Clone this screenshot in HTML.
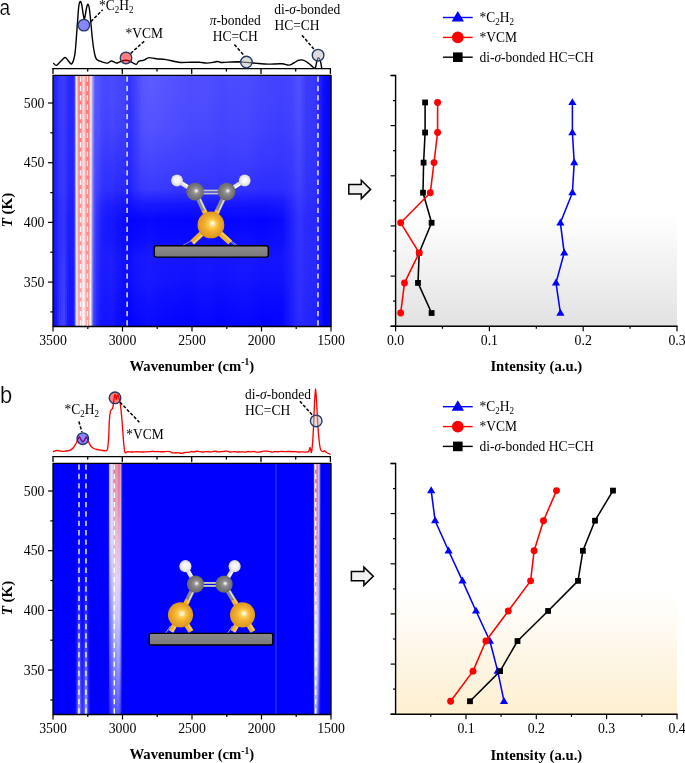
<!DOCTYPE html>
<html><head><meta charset="utf-8"><title>figure</title>
<style>html,body{margin:0;padding:0;background:#fff;}body{width:685px;height:763px;overflow:hidden;font-family:"Liberation Serif",serif;}svg{display:block;will-change:transform;}</style>
</head><body>
<svg width="685" height="763" viewBox="0 0 685 763">

<defs>
 <radialGradient id="gAu" cx="0.5" cy="0.5" r="0.55" fx="0.57" fy="0.44">
  <stop offset="0" stop-color="#fffbe8"/>
  <stop offset="0.12" stop-color="#fff0c0"/>
  <stop offset="0.26" stop-color="#ffcc50"/>
  <stop offset="0.5" stop-color="#f2b030"/>
  <stop offset="0.85" stop-color="#e09a20"/>
  <stop offset="1" stop-color="#c08010"/>
 </radialGradient>
 <radialGradient id="gC" cx="0.5" cy="0.5" r="0.55" fx="0.58" fy="0.45">
  <stop offset="0" stop-color="#f8f8f8"/>
  <stop offset="0.1" stop-color="#e0e0e0"/>
  <stop offset="0.25" stop-color="#999999"/>
  <stop offset="0.5" stop-color="#808080"/>
  <stop offset="0.85" stop-color="#6c6c6c"/>
  <stop offset="1" stop-color="#555555"/>
 </radialGradient>
 <radialGradient id="gH" cx="0.5" cy="0.5" r="0.55" fx="0.55" fy="0.45">
  <stop offset="0" stop-color="#ffffff"/>
  <stop offset="0.5" stop-color="#f2f2f2"/>
  <stop offset="0.85" stop-color="#d8d8d8"/>
  <stop offset="1" stop-color="#b0b0b0"/>
 </radialGradient>
 <linearGradient id="gBar" x1="0" y1="0" x2="0" y2="1">
  <stop offset="0" stop-color="#8a8a8a"/>
  <stop offset="1" stop-color="#7a7a7a"/>
 </linearGradient>
 <linearGradient id="bgA" x1="0" y1="0" x2="0" y2="1">
  <stop offset="0" stop-color="#ffffff"/>
  <stop offset="1" stop-color="#e2e2e2"/>
 </linearGradient>
 <linearGradient id="bgB" x1="0" y1="0" x2="0" y2="1">
  <stop offset="0" stop-color="#ffffff"/>
  <stop offset="1" stop-color="#fdefcf"/>
 </linearGradient>
 <!-- heatmap a: top colors across x -->
 <linearGradient id="hAtop" gradientUnits="userSpaceOnUse" x1="53" y1="0" x2="331" y2="0">
  <stop offset="0" stop-color="#2a2aff"/>
  <stop offset="0.03" stop-color="#3a3aff"/>
  <stop offset="0.06" stop-color="#2c2cff"/>
  <stop offset="0.17" stop-color="#2e2eff"/>
  <stop offset="0.24" stop-color="#3434ff"/>
  <stop offset="0.27" stop-color="#2424ff"/>
  <stop offset="0.31" stop-color="#4040ff"/>
  <stop offset="0.36" stop-color="#5858ff"/>
  <stop offset="0.45" stop-color="#5050ff"/>
  <stop offset="0.60" stop-color="#4c4cff"/>
  <stop offset="0.80" stop-color="#4a4aff"/>
  <stop offset="0.86" stop-color="#3c3cff"/>
  <stop offset="0.90" stop-color="#4a4aff"/>
  <stop offset="0.93" stop-color="#3030ff"/>
  <stop offset="0.96" stop-color="#0808ff"/>
  <stop offset="1" stop-color="#0000ff"/>
 </linearGradient>
 <linearGradient id="hAbot" gradientUnits="userSpaceOnUse" x1="53" y1="0" x2="331" y2="0">
  <stop offset="0" stop-color="#2222ff"/>
  <stop offset="0.03" stop-color="#3030ff"/>
  <stop offset="0.06" stop-color="#2020ff"/>
  <stop offset="0.2" stop-color="#2020ff"/>
  <stop offset="0.27" stop-color="#1010ff"/>
  <stop offset="0.35" stop-color="#1a1aff"/>
  <stop offset="0.6" stop-color="#1414ff"/>
  <stop offset="0.82" stop-color="#1818ff"/>
  <stop offset="0.88" stop-color="#3535ff"/>
  <stop offset="0.92" stop-color="#2a2aff"/>
  <stop offset="0.96" stop-color="#0000ff"/>
  <stop offset="1" stop-color="#0000ff"/>
 </linearGradient>
 <linearGradient id="mAv" x1="0" y1="0" x2="0" y2="1">
  <stop offset="0" stop-color="#fff" stop-opacity="0"/>
  <stop offset="0.40" stop-color="#fff" stop-opacity="0"/>
  <stop offset="0.55" stop-color="#fff" stop-opacity="1"/>
  <stop offset="1" stop-color="#fff" stop-opacity="1"/>
 </linearGradient>
 <mask id="maskA" maskUnits="userSpaceOnUse" x="53" y="75" width="278" height="252">
  <rect x="53" y="75" width="278" height="252" fill="url(#mAv)"/>
 </mask>
 <linearGradient id="mRv" x1="0" y1="0" x2="0" y2="1">
  <stop offset="0" stop-color="#fff" stop-opacity="0"/>
  <stop offset="0.35" stop-color="#fff" stop-opacity="0.35"/>
  <stop offset="1" stop-color="#fff" stop-opacity="1"/>
 </linearGradient>
 <mask id="maskR" maskUnits="userSpaceOnUse" x="70" y="75" width="30" height="252">
  <rect x="70" y="75" width="30" height="252" fill="url(#mRv)"/>
 </mask>
 <linearGradient id="bandA" x1="0" y1="0" x2="0" y2="1">
  <stop offset="0" stop-color="#0000ee" stop-opacity="0"/>
  <stop offset="0.45" stop-color="#0000f0" stop-opacity="0.8"/>
  <stop offset="0.6" stop-color="#0000f0" stop-opacity="0.8"/>
  <stop offset="1" stop-color="#0000ee" stop-opacity="0"/>
 </linearGradient>
 <linearGradient id="redA" gradientUnits="userSpaceOnUse" x1="74" y1="0" x2="97" y2="0"><stop offset="0.0000" stop-color="#3838ff" stop-opacity="0"/><stop offset="0.0609" stop-color="#a0a0ff"/><stop offset="0.1130" stop-color="#f4f4ff"/><stop offset="0.1565" stop-color="#ffb0b0"/><stop offset="0.2087" stop-color="#ff7070"/><stop offset="0.3130" stop-color="#ff7a7a"/><stop offset="0.3652" stop-color="#ffbcbc"/><stop offset="0.4261" stop-color="#ffdada"/><stop offset="0.4783" stop-color="#ffb0b0"/><stop offset="0.5304" stop-color="#ff7878"/><stop offset="0.6435" stop-color="#ff7070"/><stop offset="0.6913" stop-color="#ffb8b8"/><stop offset="0.7348" stop-color="#f8f4ff"/><stop offset="0.8043" stop-color="#a8a8ff"/><stop offset="0.8913" stop-color="#6868ff"/><stop offset="1.0000" stop-color="#4545ff" stop-opacity="0"/></linearGradient>
 <linearGradient id="redA2" gradientUnits="userSpaceOnUse" x1="74" y1="0" x2="97" y2="0"><stop offset="0.0000" stop-color="#3838ff" stop-opacity="0"/><stop offset="0.0783" stop-color="#a0a0ff"/><stop offset="0.1217" stop-color="#f8f8ff"/><stop offset="0.1652" stop-color="#ffc8c8"/><stop offset="0.2087" stop-color="#ff9c9c"/><stop offset="0.3043" stop-color="#ffa4a4"/><stop offset="0.3565" stop-color="#ffe4e4"/><stop offset="0.4261" stop-color="#fffafa"/><stop offset="0.4783" stop-color="#ffdcdc"/><stop offset="0.5217" stop-color="#ffa0a0"/><stop offset="0.6435" stop-color="#ff9c9c"/><stop offset="0.6870" stop-color="#ffd8d8"/><stop offset="0.7261" stop-color="#f8f8ff"/><stop offset="0.7826" stop-color="#9090ff"/><stop offset="0.8696" stop-color="#3030ff"/><stop offset="1.0000" stop-color="#2020ff" stop-opacity="0"/></linearGradient>
 <!-- panel b stripe at ~3000 -->
 <linearGradient id="strB1" gradientUnits="userSpaceOnUse" x1="109" y1="0" x2="121.5" y2="0">
  <stop offset="0" stop-color="#c8c8ff"/>
  <stop offset="0.3" stop-color="#ffffff"/>
  <stop offset="0.45" stop-color="#ff9a9a"/>
  <stop offset="0.6" stop-color="#ffc0c0"/>
  <stop offset="0.75" stop-color="#ff8080"/>
  <stop offset="0.9" stop-color="#ffd0d0"/>
  <stop offset="1" stop-color="#b0b0ff"/>
 </linearGradient>
 <linearGradient id="strB1w" gradientUnits="userSpaceOnUse" x1="109" y1="0" x2="121.5" y2="0">
  <stop offset="0" stop-color="#a8a8ff"/>
  <stop offset="0.3" stop-color="#ffffff"/>
  <stop offset="0.6" stop-color="#dedeff"/>
  <stop offset="0.8" stop-color="#ffffff"/>
  <stop offset="1" stop-color="#8080ff"/>
 </linearGradient>
 <linearGradient id="fadeB" x1="0" y1="0" x2="0" y2="1">
  <stop offset="0" stop-color="#fff" stop-opacity="1"/>
  <stop offset="0.3" stop-color="#fff" stop-opacity="0.7"/>
  <stop offset="0.6" stop-color="#fff" stop-opacity="0"/>
  <stop offset="1" stop-color="#fff" stop-opacity="0"/>
 </linearGradient>
 <mask id="maskB1" maskUnits="userSpaceOnUse" x="100" y="463" width="30" height="252">
  <rect x="100" y="463" width="30" height="252" fill="url(#fadeB)"/>
 </mask>
 <linearGradient id="strB2" gradientUnits="userSpaceOnUse" x1="314" y1="0" x2="320.5" y2="0">
  <stop offset="0" stop-color="#d0d0ff"/>
  <stop offset="0.2" stop-color="#ffe8e8"/>
  <stop offset="0.5" stop-color="#ff9a9a"/>
  <stop offset="0.6" stop-color="#ff7070"/>
  <stop offset="0.8" stop-color="#ffe0e0"/>
  <stop offset="1" stop-color="#c0c0ff"/>
 </linearGradient>
 <linearGradient id="strB2w" gradientUnits="userSpaceOnUse" x1="314" y1="0" x2="320.5" y2="0">
  <stop offset="0" stop-color="#b0b0ff"/>
  <stop offset="0.3" stop-color="#ffffff"/>
  <stop offset="0.7" stop-color="#ffffff"/>
  <stop offset="1" stop-color="#a0a0ff"/>
 </linearGradient>
 <mask id="maskB2" maskUnits="userSpaceOnUse" x="310" y="463" width="15" height="252">
  <rect x="310" y="463" width="15" height="252" fill="url(#fadeB)"/>
 </mask>
</defs>

<text transform="translate(-0.6,14.5) scale(0.87,1)" font-family="Liberation Sans" font-size="22" fill="#000" stroke="#fff" stroke-width="0.2">a</text>
<text transform="translate(0,402.8) scale(0.95,1)" font-family="Liberation Sans" font-size="23" fill="#000" stroke="#fff" stroke-width="0.2">b</text>
<defs><linearGradient id="ha0" x1="0" y1="0" x2="0" y2="1"><stop offset="0.000" stop-color="#2323ff"/><stop offset="0.099" stop-color="#2323ff"/><stop offset="0.218" stop-color="#2222ff"/><stop offset="0.337" stop-color="#2121ff"/><stop offset="0.452" stop-color="#2020ff"/><stop offset="0.512" stop-color="#1d1dff"/><stop offset="0.575" stop-color="#1b1bff"/><stop offset="0.655" stop-color="#1b1bff"/><stop offset="0.726" stop-color="#1919ff"/><stop offset="0.821" stop-color="#1717ff"/><stop offset="0.913" stop-color="#1313ff"/><stop offset="1.000" stop-color="#0f0fff"/></linearGradient><linearGradient id="ha1" x1="0" y1="0" x2="0" y2="1"><stop offset="0.000" stop-color="#2626ff"/><stop offset="0.099" stop-color="#2626ff"/><stop offset="0.218" stop-color="#2525ff"/><stop offset="0.337" stop-color="#2424ff"/><stop offset="0.452" stop-color="#2323ff"/><stop offset="0.512" stop-color="#2020ff"/><stop offset="0.575" stop-color="#1e1eff"/><stop offset="0.655" stop-color="#1e1eff"/><stop offset="0.726" stop-color="#1c1cff"/><stop offset="0.821" stop-color="#1a1aff"/><stop offset="0.913" stop-color="#1616ff"/><stop offset="1.000" stop-color="#1212ff"/></linearGradient><linearGradient id="ha2" x1="0" y1="0" x2="0" y2="1"><stop offset="0.000" stop-color="#2f2fff"/><stop offset="0.099" stop-color="#2f2fff"/><stop offset="0.218" stop-color="#2e2eff"/><stop offset="0.337" stop-color="#2d2dff"/><stop offset="0.452" stop-color="#2c2cff"/><stop offset="0.512" stop-color="#2929ff"/><stop offset="0.575" stop-color="#2727ff"/><stop offset="0.655" stop-color="#2727ff"/><stop offset="0.726" stop-color="#2727ff"/><stop offset="0.821" stop-color="#2727ff"/><stop offset="0.913" stop-color="#2626ff"/><stop offset="1.000" stop-color="#2525ff"/></linearGradient><linearGradient id="ha3" x1="0" y1="0" x2="0" y2="1"><stop offset="0.000" stop-color="#3838ff"/><stop offset="0.099" stop-color="#3838ff"/><stop offset="0.218" stop-color="#3737ff"/><stop offset="0.337" stop-color="#3636ff"/><stop offset="0.452" stop-color="#3535ff"/><stop offset="0.512" stop-color="#3232ff"/><stop offset="0.575" stop-color="#3030ff"/><stop offset="0.655" stop-color="#3030ff"/><stop offset="0.726" stop-color="#3232ff"/><stop offset="0.821" stop-color="#3434ff"/><stop offset="0.913" stop-color="#3636ff"/><stop offset="1.000" stop-color="#3838ff"/></linearGradient><linearGradient id="ha4" x1="0" y1="0" x2="0" y2="1"><stop offset="0.000" stop-color="#3a3aff"/><stop offset="0.099" stop-color="#3a3aff"/><stop offset="0.218" stop-color="#3838ff"/><stop offset="0.337" stop-color="#3737ff"/><stop offset="0.452" stop-color="#3636ff"/><stop offset="0.512" stop-color="#3333ff"/><stop offset="0.575" stop-color="#3232ff"/><stop offset="0.655" stop-color="#3232ff"/><stop offset="0.726" stop-color="#3535ff"/><stop offset="0.821" stop-color="#3838ff"/><stop offset="0.913" stop-color="#3b3bff"/><stop offset="1.000" stop-color="#3d3dff"/></linearGradient><linearGradient id="ha5" x1="0" y1="0" x2="0" y2="1"><stop offset="0.000" stop-color="#3c3cff"/><stop offset="0.099" stop-color="#3c3cff"/><stop offset="0.218" stop-color="#3a3aff"/><stop offset="0.337" stop-color="#3838ff"/><stop offset="0.452" stop-color="#3737ff"/><stop offset="0.512" stop-color="#3434ff"/><stop offset="0.575" stop-color="#3434ff"/><stop offset="0.655" stop-color="#3434ff"/><stop offset="0.726" stop-color="#3838ff"/><stop offset="0.821" stop-color="#3c3cff"/><stop offset="0.913" stop-color="#4040ff"/><stop offset="1.000" stop-color="#4242ff"/></linearGradient><linearGradient id="ha6" x1="0" y1="0" x2="0" y2="1"><stop offset="0.000" stop-color="#3434ff"/><stop offset="0.099" stop-color="#3434ff"/><stop offset="0.218" stop-color="#3232ff"/><stop offset="0.337" stop-color="#3131ff"/><stop offset="0.452" stop-color="#3030ff"/><stop offset="0.512" stop-color="#2c2cff"/><stop offset="0.575" stop-color="#2a2aff"/><stop offset="0.655" stop-color="#2a2aff"/><stop offset="0.726" stop-color="#2c2cff"/><stop offset="0.821" stop-color="#2d2dff"/><stop offset="0.913" stop-color="#2e2eff"/><stop offset="1.000" stop-color="#2e2eff"/></linearGradient><linearGradient id="ha7" x1="0" y1="0" x2="0" y2="1"><stop offset="0.000" stop-color="#2c2cff"/><stop offset="0.099" stop-color="#2c2cff"/><stop offset="0.218" stop-color="#2b2bff"/><stop offset="0.337" stop-color="#2a2aff"/><stop offset="0.452" stop-color="#2828ff"/><stop offset="0.512" stop-color="#2424ff"/><stop offset="0.575" stop-color="#2020ff"/><stop offset="0.655" stop-color="#2020ff"/><stop offset="0.726" stop-color="#2020ff"/><stop offset="0.821" stop-color="#1e1eff"/><stop offset="0.913" stop-color="#1c1cff"/><stop offset="1.000" stop-color="#1a1aff"/></linearGradient><linearGradient id="ha8" x1="0" y1="0" x2="0" y2="1"><stop offset="0.000" stop-color="#2727ff"/><stop offset="0.099" stop-color="#2727ff"/><stop offset="0.218" stop-color="#2626ff"/><stop offset="0.337" stop-color="#2525ff"/><stop offset="0.452" stop-color="#2323ff"/><stop offset="0.512" stop-color="#1f1fff"/><stop offset="0.575" stop-color="#1b1bff"/><stop offset="0.655" stop-color="#1b1bff"/><stop offset="0.726" stop-color="#1919ff"/><stop offset="0.821" stop-color="#1717ff"/><stop offset="0.913" stop-color="#1515ff"/><stop offset="1.000" stop-color="#1313ff"/></linearGradient><linearGradient id="ha9" x1="0" y1="0" x2="0" y2="1"><stop offset="0.000" stop-color="#2727ff"/><stop offset="0.099" stop-color="#2727ff"/><stop offset="0.218" stop-color="#2727ff"/><stop offset="0.337" stop-color="#2525ff"/><stop offset="0.452" stop-color="#2323ff"/><stop offset="0.512" stop-color="#1f1fff"/><stop offset="0.575" stop-color="#1c1cff"/><stop offset="0.655" stop-color="#1c1cff"/><stop offset="0.726" stop-color="#1a1aff"/><stop offset="0.821" stop-color="#1717ff"/><stop offset="0.913" stop-color="#1515ff"/><stop offset="1.000" stop-color="#1313ff"/></linearGradient><linearGradient id="ha10" x1="0" y1="0" x2="0" y2="1"><stop offset="0.000" stop-color="#2e2eff"/><stop offset="0.099" stop-color="#2e2eff"/><stop offset="0.218" stop-color="#2e2eff"/><stop offset="0.337" stop-color="#2c2cff"/><stop offset="0.452" stop-color="#2a2aff"/><stop offset="0.512" stop-color="#2626ff"/><stop offset="0.575" stop-color="#2424ff"/><stop offset="0.655" stop-color="#2424ff"/><stop offset="0.726" stop-color="#2222ff"/><stop offset="0.821" stop-color="#1e1eff"/><stop offset="0.913" stop-color="#1c1cff"/><stop offset="1.000" stop-color="#1a1aff"/></linearGradient><linearGradient id="ha11" x1="0" y1="0" x2="0" y2="1"><stop offset="0.000" stop-color="#3232ff"/><stop offset="0.099" stop-color="#3232ff"/><stop offset="0.218" stop-color="#3131ff"/><stop offset="0.337" stop-color="#2f2fff"/><stop offset="0.452" stop-color="#2c2cff"/><stop offset="0.512" stop-color="#2828ff"/><stop offset="0.575" stop-color="#2525ff"/><stop offset="0.655" stop-color="#2525ff"/><stop offset="0.726" stop-color="#2323ff"/><stop offset="0.821" stop-color="#1f1fff"/><stop offset="0.913" stop-color="#1d1dff"/><stop offset="1.000" stop-color="#1b1bff"/></linearGradient><linearGradient id="ha12" x1="0" y1="0" x2="0" y2="1"><stop offset="0.000" stop-color="#3535ff"/><stop offset="0.099" stop-color="#3535ff"/><stop offset="0.218" stop-color="#3535ff"/><stop offset="0.337" stop-color="#3232ff"/><stop offset="0.452" stop-color="#2f2fff"/><stop offset="0.512" stop-color="#2929ff"/><stop offset="0.575" stop-color="#2727ff"/><stop offset="0.655" stop-color="#2626ff"/><stop offset="0.726" stop-color="#2424ff"/><stop offset="0.821" stop-color="#2020ff"/><stop offset="0.913" stop-color="#1e1eff"/><stop offset="1.000" stop-color="#1c1cff"/></linearGradient><linearGradient id="ha13" x1="0" y1="0" x2="0" y2="1"><stop offset="0.000" stop-color="#3939ff"/><stop offset="0.099" stop-color="#3939ff"/><stop offset="0.218" stop-color="#3838ff"/><stop offset="0.337" stop-color="#3434ff"/><stop offset="0.452" stop-color="#3131ff"/><stop offset="0.512" stop-color="#2b2bff"/><stop offset="0.575" stop-color="#2828ff"/><stop offset="0.655" stop-color="#2828ff"/><stop offset="0.726" stop-color="#2626ff"/><stop offset="0.821" stop-color="#2222ff"/><stop offset="0.913" stop-color="#1f1fff"/><stop offset="1.000" stop-color="#1d1dff"/></linearGradient><linearGradient id="ha14" x1="0" y1="0" x2="0" y2="1"><stop offset="0.000" stop-color="#3d3dff"/><stop offset="0.099" stop-color="#3d3dff"/><stop offset="0.218" stop-color="#3b3bff"/><stop offset="0.337" stop-color="#3737ff"/><stop offset="0.452" stop-color="#3333ff"/><stop offset="0.512" stop-color="#2d2dff"/><stop offset="0.575" stop-color="#2a2aff"/><stop offset="0.655" stop-color="#2929ff"/><stop offset="0.726" stop-color="#2727ff"/><stop offset="0.821" stop-color="#2323ff"/><stop offset="0.913" stop-color="#2020ff"/><stop offset="1.000" stop-color="#1d1dff"/></linearGradient><linearGradient id="ha15" x1="0" y1="0" x2="0" y2="1"><stop offset="0.000" stop-color="#4040ff"/><stop offset="0.099" stop-color="#4040ff"/><stop offset="0.218" stop-color="#3f3fff"/><stop offset="0.337" stop-color="#3a3aff"/><stop offset="0.452" stop-color="#3535ff"/><stop offset="0.512" stop-color="#2f2fff"/><stop offset="0.575" stop-color="#2b2bff"/><stop offset="0.655" stop-color="#2a2aff"/><stop offset="0.726" stop-color="#2828ff"/><stop offset="0.821" stop-color="#2424ff"/><stop offset="0.913" stop-color="#2121ff"/><stop offset="1.000" stop-color="#1e1eff"/></linearGradient><linearGradient id="ha16" x1="0" y1="0" x2="0" y2="1"><stop offset="0.000" stop-color="#4444ff"/><stop offset="0.099" stop-color="#4444ff"/><stop offset="0.218" stop-color="#4242ff"/><stop offset="0.337" stop-color="#3d3dff"/><stop offset="0.452" stop-color="#3838ff"/><stop offset="0.512" stop-color="#3030ff"/><stop offset="0.575" stop-color="#2c2cff"/><stop offset="0.655" stop-color="#2b2bff"/><stop offset="0.726" stop-color="#2929ff"/><stop offset="0.821" stop-color="#2525ff"/><stop offset="0.913" stop-color="#2222ff"/><stop offset="1.000" stop-color="#1f1fff"/></linearGradient><linearGradient id="ha17" x1="0" y1="0" x2="0" y2="1"><stop offset="0.000" stop-color="#4848ff"/><stop offset="0.099" stop-color="#4848ff"/><stop offset="0.218" stop-color="#4545ff"/><stop offset="0.337" stop-color="#3f3fff"/><stop offset="0.452" stop-color="#3a3aff"/><stop offset="0.512" stop-color="#3232ff"/><stop offset="0.575" stop-color="#2e2eff"/><stop offset="0.655" stop-color="#2d2dff"/><stop offset="0.726" stop-color="#2b2bff"/><stop offset="0.821" stop-color="#2727ff"/><stop offset="0.913" stop-color="#2323ff"/><stop offset="1.000" stop-color="#2020ff"/></linearGradient><linearGradient id="ha18" x1="0" y1="0" x2="0" y2="1"><stop offset="0.000" stop-color="#4b4bff"/><stop offset="0.099" stop-color="#4b4bff"/><stop offset="0.218" stop-color="#4848ff"/><stop offset="0.337" stop-color="#4242ff"/><stop offset="0.452" stop-color="#3c3cff"/><stop offset="0.512" stop-color="#3434ff"/><stop offset="0.575" stop-color="#2f2fff"/><stop offset="0.655" stop-color="#2e2eff"/><stop offset="0.726" stop-color="#2c2cff"/><stop offset="0.821" stop-color="#2828ff"/><stop offset="0.913" stop-color="#2424ff"/><stop offset="1.000" stop-color="#2121ff"/></linearGradient><linearGradient id="ha19" x1="0" y1="0" x2="0" y2="1"><stop offset="0.000" stop-color="#4f4fff"/><stop offset="0.099" stop-color="#4f4fff"/><stop offset="0.218" stop-color="#4c4cff"/><stop offset="0.337" stop-color="#4545ff"/><stop offset="0.452" stop-color="#3e3eff"/><stop offset="0.512" stop-color="#3636ff"/><stop offset="0.575" stop-color="#3131ff"/><stop offset="0.655" stop-color="#2f2fff"/><stop offset="0.726" stop-color="#2d2dff"/><stop offset="0.821" stop-color="#2929ff"/><stop offset="0.913" stop-color="#2525ff"/><stop offset="1.000" stop-color="#2222ff"/></linearGradient><linearGradient id="ha20" x1="0" y1="0" x2="0" y2="1"><stop offset="0.000" stop-color="#5353ff"/><stop offset="0.099" stop-color="#5353ff"/><stop offset="0.218" stop-color="#4f4fff"/><stop offset="0.337" stop-color="#4848ff"/><stop offset="0.452" stop-color="#4141ff"/><stop offset="0.512" stop-color="#3737ff"/><stop offset="0.575" stop-color="#3232ff"/><stop offset="0.655" stop-color="#3030ff"/><stop offset="0.726" stop-color="#2e2eff"/><stop offset="0.821" stop-color="#2a2aff"/><stop offset="0.913" stop-color="#2626ff"/><stop offset="1.000" stop-color="#2323ff"/></linearGradient><linearGradient id="ha21" x1="0" y1="0" x2="0" y2="1"><stop offset="0.000" stop-color="#5656ff"/><stop offset="0.099" stop-color="#5656ff"/><stop offset="0.218" stop-color="#5252ff"/><stop offset="0.337" stop-color="#4b4bff"/><stop offset="0.452" stop-color="#4343ff"/><stop offset="0.512" stop-color="#3939ff"/><stop offset="0.575" stop-color="#3333ff"/><stop offset="0.655" stop-color="#3131ff"/><stop offset="0.726" stop-color="#2f2fff"/><stop offset="0.821" stop-color="#2b2bff"/><stop offset="0.913" stop-color="#2727ff"/><stop offset="1.000" stop-color="#2424ff"/></linearGradient><linearGradient id="ha22" x1="0" y1="0" x2="0" y2="1"><stop offset="0.000" stop-color="#5454ff"/><stop offset="0.099" stop-color="#5454ff"/><stop offset="0.218" stop-color="#5050ff"/><stop offset="0.337" stop-color="#4848ff"/><stop offset="0.452" stop-color="#4040ff"/><stop offset="0.512" stop-color="#3636ff"/><stop offset="0.575" stop-color="#2f2fff"/><stop offset="0.655" stop-color="#2d2dff"/><stop offset="0.726" stop-color="#2c2cff"/><stop offset="0.821" stop-color="#2828ff"/><stop offset="0.913" stop-color="#2424ff"/><stop offset="1.000" stop-color="#2020ff"/></linearGradient><linearGradient id="ha23" x1="0" y1="0" x2="0" y2="1"><stop offset="0.000" stop-color="#4e4eff"/><stop offset="0.099" stop-color="#4e4eff"/><stop offset="0.218" stop-color="#4a4aff"/><stop offset="0.337" stop-color="#4040ff"/><stop offset="0.452" stop-color="#3838ff"/><stop offset="0.512" stop-color="#2c2cff"/><stop offset="0.575" stop-color="#2525ff"/><stop offset="0.655" stop-color="#2323ff"/><stop offset="0.726" stop-color="#2222ff"/><stop offset="0.821" stop-color="#2020ff"/><stop offset="0.913" stop-color="#1c1cff"/><stop offset="1.000" stop-color="#1818ff"/></linearGradient><linearGradient id="ha24" x1="0" y1="0" x2="0" y2="1"><stop offset="0.000" stop-color="#4949ff"/><stop offset="0.099" stop-color="#4949ff"/><stop offset="0.218" stop-color="#4545ff"/><stop offset="0.337" stop-color="#3b3bff"/><stop offset="0.452" stop-color="#3333ff"/><stop offset="0.512" stop-color="#2626ff"/><stop offset="0.575" stop-color="#1e1eff"/><stop offset="0.655" stop-color="#1d1dff"/><stop offset="0.726" stop-color="#1e1eff"/><stop offset="0.821" stop-color="#1c1cff"/><stop offset="0.913" stop-color="#1818ff"/><stop offset="1.000" stop-color="#1414ff"/></linearGradient><linearGradient id="ha25" x1="0" y1="0" x2="0" y2="1"><stop offset="0.000" stop-color="#4848ff"/><stop offset="0.099" stop-color="#4848ff"/><stop offset="0.218" stop-color="#4242ff"/><stop offset="0.337" stop-color="#3838ff"/><stop offset="0.452" stop-color="#3030ff"/><stop offset="0.512" stop-color="#2323ff"/><stop offset="0.575" stop-color="#1b1bff"/><stop offset="0.655" stop-color="#1a1aff"/><stop offset="0.726" stop-color="#1d1dff"/><stop offset="0.821" stop-color="#1b1bff"/><stop offset="0.913" stop-color="#1717ff"/><stop offset="1.000" stop-color="#1313ff"/></linearGradient><linearGradient id="ha26" x1="0" y1="0" x2="0" y2="1"><stop offset="0.000" stop-color="#4646ff"/><stop offset="0.099" stop-color="#4646ff"/><stop offset="0.218" stop-color="#4040ff"/><stop offset="0.337" stop-color="#3636ff"/><stop offset="0.452" stop-color="#2e2eff"/><stop offset="0.512" stop-color="#2020ff"/><stop offset="0.575" stop-color="#1818ff"/><stop offset="0.655" stop-color="#1818ff"/><stop offset="0.726" stop-color="#1c1cff"/><stop offset="0.821" stop-color="#1a1aff"/><stop offset="0.913" stop-color="#1616ff"/><stop offset="1.000" stop-color="#1212ff"/></linearGradient><linearGradient id="ha27" x1="0" y1="0" x2="0" y2="1"><stop offset="0.000" stop-color="#4747ff"/><stop offset="0.099" stop-color="#4747ff"/><stop offset="0.218" stop-color="#4141ff"/><stop offset="0.337" stop-color="#3737ff"/><stop offset="0.452" stop-color="#2e2eff"/><stop offset="0.512" stop-color="#1f1fff"/><stop offset="0.575" stop-color="#1717ff"/><stop offset="0.655" stop-color="#1818ff"/><stop offset="0.726" stop-color="#1d1dff"/><stop offset="0.821" stop-color="#1b1bff"/><stop offset="0.913" stop-color="#1717ff"/><stop offset="1.000" stop-color="#1313ff"/></linearGradient><linearGradient id="ha28" x1="0" y1="0" x2="0" y2="1"><stop offset="0.000" stop-color="#4949ff"/><stop offset="0.099" stop-color="#4949ff"/><stop offset="0.218" stop-color="#4343ff"/><stop offset="0.337" stop-color="#3737ff"/><stop offset="0.452" stop-color="#2e2eff"/><stop offset="0.512" stop-color="#1f1fff"/><stop offset="0.575" stop-color="#1717ff"/><stop offset="0.655" stop-color="#1818ff"/><stop offset="0.726" stop-color="#1d1dff"/><stop offset="0.821" stop-color="#1b1bff"/><stop offset="0.913" stop-color="#1717ff"/><stop offset="1.000" stop-color="#1313ff"/></linearGradient><linearGradient id="ha29" x1="0" y1="0" x2="0" y2="1"><stop offset="0.000" stop-color="#4a4aff"/><stop offset="0.099" stop-color="#4a4aff"/><stop offset="0.218" stop-color="#4444ff"/><stop offset="0.337" stop-color="#3838ff"/><stop offset="0.452" stop-color="#2e2eff"/><stop offset="0.512" stop-color="#1e1eff"/><stop offset="0.575" stop-color="#1616ff"/><stop offset="0.655" stop-color="#1818ff"/><stop offset="0.726" stop-color="#1e1eff"/><stop offset="0.821" stop-color="#1c1cff"/><stop offset="0.913" stop-color="#1818ff"/><stop offset="1.000" stop-color="#1414ff"/></linearGradient><linearGradient id="ha30" x1="0" y1="0" x2="0" y2="1"><stop offset="0.000" stop-color="#4949ff"/><stop offset="0.099" stop-color="#4949ff"/><stop offset="0.218" stop-color="#4343ff"/><stop offset="0.337" stop-color="#3737ff"/><stop offset="0.452" stop-color="#2d2dff"/><stop offset="0.512" stop-color="#1d1dff"/><stop offset="0.575" stop-color="#1414ff"/><stop offset="0.655" stop-color="#1515ff"/><stop offset="0.726" stop-color="#1b1bff"/><stop offset="0.821" stop-color="#1919ff"/><stop offset="0.913" stop-color="#1515ff"/><stop offset="1.000" stop-color="#1111ff"/></linearGradient><linearGradient id="ha31" x1="0" y1="0" x2="0" y2="1"><stop offset="0.000" stop-color="#4747ff"/><stop offset="0.099" stop-color="#4747ff"/><stop offset="0.218" stop-color="#4141ff"/><stop offset="0.337" stop-color="#3535ff"/><stop offset="0.452" stop-color="#2b2bff"/><stop offset="0.512" stop-color="#1b1bff"/><stop offset="0.575" stop-color="#1212ff"/><stop offset="0.655" stop-color="#1313ff"/><stop offset="0.726" stop-color="#1919ff"/><stop offset="0.821" stop-color="#1717ff"/><stop offset="0.913" stop-color="#1111ff"/><stop offset="1.000" stop-color="#0d0dff"/></linearGradient><linearGradient id="ha32" x1="0" y1="0" x2="0" y2="1"><stop offset="0.000" stop-color="#4646ff"/><stop offset="0.099" stop-color="#4646ff"/><stop offset="0.218" stop-color="#4040ff"/><stop offset="0.337" stop-color="#3434ff"/><stop offset="0.452" stop-color="#2a2aff"/><stop offset="0.512" stop-color="#1a1aff"/><stop offset="0.575" stop-color="#1010ff"/><stop offset="0.655" stop-color="#1010ff"/><stop offset="0.726" stop-color="#1616ff"/><stop offset="0.821" stop-color="#1414ff"/><stop offset="0.913" stop-color="#0e0eff"/><stop offset="1.000" stop-color="#0a0aff"/></linearGradient><linearGradient id="ha33" x1="0" y1="0" x2="0" y2="1"><stop offset="0.000" stop-color="#4545ff"/><stop offset="0.099" stop-color="#4545ff"/><stop offset="0.218" stop-color="#3f3fff"/><stop offset="0.337" stop-color="#3333ff"/><stop offset="0.452" stop-color="#2929ff"/><stop offset="0.512" stop-color="#1919ff"/><stop offset="0.575" stop-color="#0f0fff"/><stop offset="0.655" stop-color="#0f0fff"/><stop offset="0.726" stop-color="#1414ff"/><stop offset="0.821" stop-color="#1212ff"/><stop offset="0.913" stop-color="#0d0dff"/><stop offset="1.000" stop-color="#0909ff"/></linearGradient><linearGradient id="ha34" x1="0" y1="0" x2="0" y2="1"><stop offset="0.000" stop-color="#4545ff"/><stop offset="0.099" stop-color="#4545ff"/><stop offset="0.218" stop-color="#3f3fff"/><stop offset="0.337" stop-color="#3333ff"/><stop offset="0.452" stop-color="#2929ff"/><stop offset="0.512" stop-color="#1717ff"/><stop offset="0.575" stop-color="#0d0dff"/><stop offset="0.655" stop-color="#0d0dff"/><stop offset="0.726" stop-color="#1212ff"/><stop offset="0.821" stop-color="#1010ff"/><stop offset="0.913" stop-color="#0b0bff"/><stop offset="1.000" stop-color="#0707ff"/></linearGradient><linearGradient id="ha35" x1="0" y1="0" x2="0" y2="1"><stop offset="0.000" stop-color="#4444ff"/><stop offset="0.099" stop-color="#4444ff"/><stop offset="0.218" stop-color="#3e3eff"/><stop offset="0.337" stop-color="#3232ff"/><stop offset="0.452" stop-color="#2828ff"/><stop offset="0.512" stop-color="#1616ff"/><stop offset="0.575" stop-color="#0c0cff"/><stop offset="0.655" stop-color="#0c0cff"/><stop offset="0.726" stop-color="#1010ff"/><stop offset="0.821" stop-color="#0e0eff"/><stop offset="0.913" stop-color="#0a0aff"/><stop offset="1.000" stop-color="#0606ff"/></linearGradient><linearGradient id="ha36" x1="0" y1="0" x2="0" y2="1"><stop offset="0.000" stop-color="#3d3dff"/><stop offset="0.099" stop-color="#3c3cff"/><stop offset="0.218" stop-color="#3737ff"/><stop offset="0.337" stop-color="#2d2dff"/><stop offset="0.452" stop-color="#2424ff"/><stop offset="0.512" stop-color="#1313ff"/><stop offset="0.575" stop-color="#0909ff"/><stop offset="0.655" stop-color="#0a0aff"/><stop offset="0.726" stop-color="#0e0eff"/><stop offset="0.821" stop-color="#0c0cff"/><stop offset="0.913" stop-color="#0808ff"/><stop offset="1.000" stop-color="#0404ff"/></linearGradient><linearGradient id="ha37" x1="0" y1="0" x2="0" y2="1"><stop offset="0.000" stop-color="#3636ff"/><stop offset="0.099" stop-color="#3434ff"/><stop offset="0.218" stop-color="#3030ff"/><stop offset="0.337" stop-color="#2828ff"/><stop offset="0.452" stop-color="#2020ff"/><stop offset="0.512" stop-color="#1010ff"/><stop offset="0.575" stop-color="#0606ff"/><stop offset="0.655" stop-color="#0707ff"/><stop offset="0.726" stop-color="#0d0dff"/><stop offset="0.821" stop-color="#0b0bff"/><stop offset="0.913" stop-color="#0505ff"/><stop offset="1.000" stop-color="#0202ff"/></linearGradient><linearGradient id="ha38" x1="0" y1="0" x2="0" y2="1"><stop offset="0.000" stop-color="#3434ff"/><stop offset="0.099" stop-color="#3232ff"/><stop offset="0.218" stop-color="#2e2eff"/><stop offset="0.337" stop-color="#2828ff"/><stop offset="0.452" stop-color="#2121ff"/><stop offset="0.512" stop-color="#0f0fff"/><stop offset="0.575" stop-color="#0404ff"/><stop offset="0.655" stop-color="#0707ff"/><stop offset="0.726" stop-color="#0e0eff"/><stop offset="0.821" stop-color="#0c0cff"/><stop offset="0.913" stop-color="#0505ff"/><stop offset="1.000" stop-color="#0202ff"/></linearGradient><linearGradient id="ha39" x1="0" y1="0" x2="0" y2="1"><stop offset="0.000" stop-color="#3939ff"/><stop offset="0.099" stop-color="#3737ff"/><stop offset="0.218" stop-color="#3333ff"/><stop offset="0.337" stop-color="#2d2dff"/><stop offset="0.452" stop-color="#2626ff"/><stop offset="0.512" stop-color="#1212ff"/><stop offset="0.575" stop-color="#0505ff"/><stop offset="0.655" stop-color="#0808ff"/><stop offset="0.726" stop-color="#1111ff"/><stop offset="0.821" stop-color="#0f0fff"/><stop offset="0.913" stop-color="#0808ff"/><stop offset="1.000" stop-color="#0303ff"/></linearGradient><linearGradient id="ha40" x1="0" y1="0" x2="0" y2="1"><stop offset="0.000" stop-color="#3e3eff"/><stop offset="0.099" stop-color="#3c3cff"/><stop offset="0.218" stop-color="#3838ff"/><stop offset="0.337" stop-color="#3232ff"/><stop offset="0.452" stop-color="#2c2cff"/><stop offset="0.512" stop-color="#1414ff"/><stop offset="0.575" stop-color="#0505ff"/><stop offset="0.655" stop-color="#0a0aff"/><stop offset="0.726" stop-color="#1414ff"/><stop offset="0.821" stop-color="#1212ff"/><stop offset="0.913" stop-color="#0a0aff"/><stop offset="1.000" stop-color="#0505ff"/></linearGradient><linearGradient id="ha41" x1="0" y1="0" x2="0" y2="1"><stop offset="0.000" stop-color="#4444ff"/><stop offset="0.099" stop-color="#4242ff"/><stop offset="0.218" stop-color="#3e3eff"/><stop offset="0.337" stop-color="#3636ff"/><stop offset="0.452" stop-color="#2f2fff"/><stop offset="0.512" stop-color="#1616ff"/><stop offset="0.575" stop-color="#0505ff"/><stop offset="0.655" stop-color="#0a0aff"/><stop offset="0.726" stop-color="#1515ff"/><stop offset="0.821" stop-color="#1313ff"/><stop offset="0.913" stop-color="#0b0bff"/><stop offset="1.000" stop-color="#0606ff"/></linearGradient><linearGradient id="ha42" x1="0" y1="0" x2="0" y2="1"><stop offset="0.000" stop-color="#4a4aff"/><stop offset="0.099" stop-color="#4848ff"/><stop offset="0.218" stop-color="#4343ff"/><stop offset="0.337" stop-color="#3b3bff"/><stop offset="0.452" stop-color="#3232ff"/><stop offset="0.512" stop-color="#1717ff"/><stop offset="0.575" stop-color="#0606ff"/><stop offset="0.655" stop-color="#0b0bff"/><stop offset="0.726" stop-color="#1616ff"/><stop offset="0.821" stop-color="#1414ff"/><stop offset="0.913" stop-color="#0c0cff"/><stop offset="1.000" stop-color="#0606ff"/></linearGradient><linearGradient id="ha43" x1="0" y1="0" x2="0" y2="1"><stop offset="0.000" stop-color="#5050ff"/><stop offset="0.099" stop-color="#4d4dff"/><stop offset="0.218" stop-color="#4848ff"/><stop offset="0.337" stop-color="#4040ff"/><stop offset="0.452" stop-color="#3535ff"/><stop offset="0.512" stop-color="#1818ff"/><stop offset="0.575" stop-color="#0606ff"/><stop offset="0.655" stop-color="#0c0cff"/><stop offset="0.726" stop-color="#1717ff"/><stop offset="0.821" stop-color="#1515ff"/><stop offset="0.913" stop-color="#0d0dff"/><stop offset="1.000" stop-color="#0707ff"/></linearGradient><linearGradient id="ha44" x1="0" y1="0" x2="0" y2="1"><stop offset="0.000" stop-color="#5656ff"/><stop offset="0.099" stop-color="#5353ff"/><stop offset="0.218" stop-color="#4e4eff"/><stop offset="0.337" stop-color="#4444ff"/><stop offset="0.452" stop-color="#3838ff"/><stop offset="0.512" stop-color="#1a1aff"/><stop offset="0.575" stop-color="#0606ff"/><stop offset="0.655" stop-color="#0c0cff"/><stop offset="0.726" stop-color="#1818ff"/><stop offset="0.821" stop-color="#1616ff"/><stop offset="0.913" stop-color="#0e0eff"/><stop offset="1.000" stop-color="#0808ff"/></linearGradient><linearGradient id="ha45" x1="0" y1="0" x2="0" y2="1"><stop offset="0.000" stop-color="#5858ff"/><stop offset="0.099" stop-color="#5454ff"/><stop offset="0.218" stop-color="#4f4fff"/><stop offset="0.337" stop-color="#4444ff"/><stop offset="0.452" stop-color="#3838ff"/><stop offset="0.512" stop-color="#1a1aff"/><stop offset="0.575" stop-color="#0606ff"/><stop offset="0.655" stop-color="#0c0cff"/><stop offset="0.726" stop-color="#1818ff"/><stop offset="0.821" stop-color="#1616ff"/><stop offset="0.913" stop-color="#0e0eff"/><stop offset="1.000" stop-color="#0808ff"/></linearGradient><linearGradient id="ha46" x1="0" y1="0" x2="0" y2="1"><stop offset="0.000" stop-color="#5959ff"/><stop offset="0.099" stop-color="#5656ff"/><stop offset="0.218" stop-color="#5050ff"/><stop offset="0.337" stop-color="#4545ff"/><stop offset="0.452" stop-color="#3939ff"/><stop offset="0.512" stop-color="#1a1aff"/><stop offset="0.575" stop-color="#0707ff"/><stop offset="0.655" stop-color="#0d0dff"/><stop offset="0.726" stop-color="#1919ff"/><stop offset="0.821" stop-color="#1717ff"/><stop offset="0.913" stop-color="#0f0fff"/><stop offset="1.000" stop-color="#0909ff"/></linearGradient><linearGradient id="ha47" x1="0" y1="0" x2="0" y2="1"><stop offset="0.000" stop-color="#5a5aff"/><stop offset="0.099" stop-color="#5757ff"/><stop offset="0.218" stop-color="#5151ff"/><stop offset="0.337" stop-color="#4646ff"/><stop offset="0.452" stop-color="#3a3aff"/><stop offset="0.512" stop-color="#1a1aff"/><stop offset="0.575" stop-color="#0808ff"/><stop offset="0.655" stop-color="#0e0eff"/><stop offset="0.726" stop-color="#1a1aff"/><stop offset="0.821" stop-color="#1818ff"/><stop offset="0.913" stop-color="#1010ff"/><stop offset="1.000" stop-color="#0a0aff"/></linearGradient><linearGradient id="ha48" x1="0" y1="0" x2="0" y2="1"><stop offset="0.000" stop-color="#5c5cff"/><stop offset="0.099" stop-color="#5858ff"/><stop offset="0.218" stop-color="#5252ff"/><stop offset="0.337" stop-color="#4646ff"/><stop offset="0.452" stop-color="#3a3aff"/><stop offset="0.512" stop-color="#1a1aff"/><stop offset="0.575" stop-color="#0808ff"/><stop offset="0.655" stop-color="#0e0eff"/><stop offset="0.726" stop-color="#1a1aff"/><stop offset="0.821" stop-color="#1818ff"/><stop offset="0.913" stop-color="#1010ff"/><stop offset="1.000" stop-color="#0a0aff"/></linearGradient><linearGradient id="ha49" x1="0" y1="0" x2="0" y2="1"><stop offset="0.000" stop-color="#5b5bff"/><stop offset="0.099" stop-color="#5757ff"/><stop offset="0.218" stop-color="#5252ff"/><stop offset="0.337" stop-color="#4646ff"/><stop offset="0.452" stop-color="#3a3aff"/><stop offset="0.512" stop-color="#1a1aff"/><stop offset="0.575" stop-color="#0808ff"/><stop offset="0.655" stop-color="#0d0dff"/><stop offset="0.726" stop-color="#1919ff"/><stop offset="0.821" stop-color="#1717ff"/><stop offset="0.913" stop-color="#0f0fff"/><stop offset="1.000" stop-color="#0909ff"/></linearGradient><linearGradient id="ha50" x1="0" y1="0" x2="0" y2="1"><stop offset="0.000" stop-color="#5a5aff"/><stop offset="0.099" stop-color="#5757ff"/><stop offset="0.218" stop-color="#5151ff"/><stop offset="0.337" stop-color="#4545ff"/><stop offset="0.452" stop-color="#3a3aff"/><stop offset="0.512" stop-color="#1a1aff"/><stop offset="0.575" stop-color="#0707ff"/><stop offset="0.655" stop-color="#0c0cff"/><stop offset="0.726" stop-color="#1818ff"/><stop offset="0.821" stop-color="#1616ff"/><stop offset="0.913" stop-color="#0e0eff"/><stop offset="1.000" stop-color="#0808ff"/></linearGradient><linearGradient id="ha51" x1="0" y1="0" x2="0" y2="1"><stop offset="0.000" stop-color="#5a5aff"/><stop offset="0.099" stop-color="#5656ff"/><stop offset="0.218" stop-color="#5151ff"/><stop offset="0.337" stop-color="#4545ff"/><stop offset="0.452" stop-color="#3939ff"/><stop offset="0.512" stop-color="#1919ff"/><stop offset="0.575" stop-color="#0707ff"/><stop offset="0.655" stop-color="#0c0cff"/><stop offset="0.726" stop-color="#1818ff"/><stop offset="0.821" stop-color="#1616ff"/><stop offset="0.913" stop-color="#0e0eff"/><stop offset="1.000" stop-color="#0808ff"/></linearGradient><linearGradient id="ha52" x1="0" y1="0" x2="0" y2="1"><stop offset="0.000" stop-color="#5959ff"/><stop offset="0.099" stop-color="#5656ff"/><stop offset="0.218" stop-color="#5050ff"/><stop offset="0.337" stop-color="#4444ff"/><stop offset="0.452" stop-color="#3939ff"/><stop offset="0.512" stop-color="#1919ff"/><stop offset="0.575" stop-color="#0606ff"/><stop offset="0.655" stop-color="#0b0bff"/><stop offset="0.726" stop-color="#1717ff"/><stop offset="0.821" stop-color="#1515ff"/><stop offset="0.913" stop-color="#0d0dff"/><stop offset="1.000" stop-color="#0707ff"/></linearGradient><linearGradient id="ha53" x1="0" y1="0" x2="0" y2="1"><stop offset="0.000" stop-color="#5858ff"/><stop offset="0.099" stop-color="#5555ff"/><stop offset="0.218" stop-color="#5050ff"/><stop offset="0.337" stop-color="#4444ff"/><stop offset="0.452" stop-color="#3939ff"/><stop offset="0.512" stop-color="#1919ff"/><stop offset="0.575" stop-color="#0606ff"/><stop offset="0.655" stop-color="#0a0aff"/><stop offset="0.726" stop-color="#1616ff"/><stop offset="0.821" stop-color="#1414ff"/><stop offset="0.913" stop-color="#0c0cff"/><stop offset="1.000" stop-color="#0606ff"/></linearGradient><linearGradient id="ha54" x1="0" y1="0" x2="0" y2="1"><stop offset="0.000" stop-color="#5757ff"/><stop offset="0.099" stop-color="#5454ff"/><stop offset="0.218" stop-color="#4f4fff"/><stop offset="0.337" stop-color="#4444ff"/><stop offset="0.452" stop-color="#3939ff"/><stop offset="0.512" stop-color="#1919ff"/><stop offset="0.575" stop-color="#0606ff"/><stop offset="0.655" stop-color="#0a0aff"/><stop offset="0.726" stop-color="#1616ff"/><stop offset="0.821" stop-color="#1414ff"/><stop offset="0.913" stop-color="#0c0cff"/><stop offset="1.000" stop-color="#0606ff"/></linearGradient><linearGradient id="ha55" x1="0" y1="0" x2="0" y2="1"><stop offset="0.000" stop-color="#5656ff"/><stop offset="0.099" stop-color="#5454ff"/><stop offset="0.218" stop-color="#4f4fff"/><stop offset="0.337" stop-color="#4343ff"/><stop offset="0.452" stop-color="#3838ff"/><stop offset="0.512" stop-color="#1919ff"/><stop offset="0.575" stop-color="#0606ff"/><stop offset="0.655" stop-color="#0a0aff"/><stop offset="0.726" stop-color="#1616ff"/><stop offset="0.821" stop-color="#1313ff"/><stop offset="0.913" stop-color="#0b0bff"/><stop offset="1.000" stop-color="#0505ff"/></linearGradient><linearGradient id="ha56" x1="0" y1="0" x2="0" y2="1"><stop offset="0.000" stop-color="#5656ff"/><stop offset="0.099" stop-color="#5353ff"/><stop offset="0.218" stop-color="#4e4eff"/><stop offset="0.337" stop-color="#4343ff"/><stop offset="0.452" stop-color="#3838ff"/><stop offset="0.512" stop-color="#1919ff"/><stop offset="0.575" stop-color="#0606ff"/><stop offset="0.655" stop-color="#0a0aff"/><stop offset="0.726" stop-color="#1616ff"/><stop offset="0.821" stop-color="#1313ff"/><stop offset="0.913" stop-color="#0b0bff"/><stop offset="1.000" stop-color="#0505ff"/></linearGradient><linearGradient id="ha57" x1="0" y1="0" x2="0" y2="1"><stop offset="0.000" stop-color="#5555ff"/><stop offset="0.099" stop-color="#5252ff"/><stop offset="0.218" stop-color="#4e4eff"/><stop offset="0.337" stop-color="#4343ff"/><stop offset="0.452" stop-color="#3838ff"/><stop offset="0.512" stop-color="#1818ff"/><stop offset="0.575" stop-color="#0505ff"/><stop offset="0.655" stop-color="#0a0aff"/><stop offset="0.726" stop-color="#1616ff"/><stop offset="0.821" stop-color="#1313ff"/><stop offset="0.913" stop-color="#0b0bff"/><stop offset="1.000" stop-color="#0505ff"/></linearGradient><linearGradient id="ha58" x1="0" y1="0" x2="0" y2="1"><stop offset="0.000" stop-color="#5454ff"/><stop offset="0.099" stop-color="#5252ff"/><stop offset="0.218" stop-color="#4d4dff"/><stop offset="0.337" stop-color="#4343ff"/><stop offset="0.452" stop-color="#3838ff"/><stop offset="0.512" stop-color="#1818ff"/><stop offset="0.575" stop-color="#0505ff"/><stop offset="0.655" stop-color="#0a0aff"/><stop offset="0.726" stop-color="#1616ff"/><stop offset="0.821" stop-color="#1313ff"/><stop offset="0.913" stop-color="#0b0bff"/><stop offset="1.000" stop-color="#0505ff"/></linearGradient><linearGradient id="ha59" x1="0" y1="0" x2="0" y2="1"><stop offset="0.000" stop-color="#5353ff"/><stop offset="0.099" stop-color="#5151ff"/><stop offset="0.218" stop-color="#4d4dff"/><stop offset="0.337" stop-color="#4242ff"/><stop offset="0.452" stop-color="#3737ff"/><stop offset="0.512" stop-color="#1818ff"/><stop offset="0.575" stop-color="#0505ff"/><stop offset="0.655" stop-color="#0a0aff"/><stop offset="0.726" stop-color="#1616ff"/><stop offset="0.821" stop-color="#1212ff"/><stop offset="0.913" stop-color="#0a0aff"/><stop offset="1.000" stop-color="#0404ff"/></linearGradient><linearGradient id="ha60" x1="0" y1="0" x2="0" y2="1"><stop offset="0.000" stop-color="#5252ff"/><stop offset="0.099" stop-color="#5050ff"/><stop offset="0.218" stop-color="#4c4cff"/><stop offset="0.337" stop-color="#4242ff"/><stop offset="0.452" stop-color="#3737ff"/><stop offset="0.512" stop-color="#1818ff"/><stop offset="0.575" stop-color="#0505ff"/><stop offset="0.655" stop-color="#0a0aff"/><stop offset="0.726" stop-color="#1616ff"/><stop offset="0.821" stop-color="#1212ff"/><stop offset="0.913" stop-color="#0a0aff"/><stop offset="1.000" stop-color="#0404ff"/></linearGradient><linearGradient id="ha61" x1="0" y1="0" x2="0" y2="1"><stop offset="0.000" stop-color="#5252ff"/><stop offset="0.099" stop-color="#5050ff"/><stop offset="0.218" stop-color="#4c4cff"/><stop offset="0.337" stop-color="#4242ff"/><stop offset="0.452" stop-color="#3737ff"/><stop offset="0.512" stop-color="#1818ff"/><stop offset="0.575" stop-color="#0505ff"/><stop offset="0.655" stop-color="#0a0aff"/><stop offset="0.726" stop-color="#1616ff"/><stop offset="0.821" stop-color="#1212ff"/><stop offset="0.913" stop-color="#0a0aff"/><stop offset="1.000" stop-color="#0404ff"/></linearGradient><linearGradient id="ha62" x1="0" y1="0" x2="0" y2="1"><stop offset="0.000" stop-color="#5151ff"/><stop offset="0.099" stop-color="#4f4fff"/><stop offset="0.218" stop-color="#4b4bff"/><stop offset="0.337" stop-color="#4141ff"/><stop offset="0.452" stop-color="#3737ff"/><stop offset="0.512" stop-color="#1818ff"/><stop offset="0.575" stop-color="#0505ff"/><stop offset="0.655" stop-color="#0a0aff"/><stop offset="0.726" stop-color="#1616ff"/><stop offset="0.821" stop-color="#1212ff"/><stop offset="0.913" stop-color="#0a0aff"/><stop offset="1.000" stop-color="#0404ff"/></linearGradient><linearGradient id="ha63" x1="0" y1="0" x2="0" y2="1"><stop offset="0.000" stop-color="#5151ff"/><stop offset="0.099" stop-color="#4f4fff"/><stop offset="0.218" stop-color="#4b4bff"/><stop offset="0.337" stop-color="#4141ff"/><stop offset="0.452" stop-color="#3636ff"/><stop offset="0.512" stop-color="#1717ff"/><stop offset="0.575" stop-color="#0505ff"/><stop offset="0.655" stop-color="#0a0aff"/><stop offset="0.726" stop-color="#1515ff"/><stop offset="0.821" stop-color="#1111ff"/><stop offset="0.913" stop-color="#0909ff"/><stop offset="1.000" stop-color="#0404ff"/></linearGradient><linearGradient id="ha64" x1="0" y1="0" x2="0" y2="1"><stop offset="0.000" stop-color="#5050ff"/><stop offset="0.099" stop-color="#4e4eff"/><stop offset="0.218" stop-color="#4a4aff"/><stop offset="0.337" stop-color="#4141ff"/><stop offset="0.452" stop-color="#3636ff"/><stop offset="0.512" stop-color="#1717ff"/><stop offset="0.575" stop-color="#0505ff"/><stop offset="0.655" stop-color="#0a0aff"/><stop offset="0.726" stop-color="#1515ff"/><stop offset="0.821" stop-color="#1111ff"/><stop offset="0.913" stop-color="#0909ff"/><stop offset="1.000" stop-color="#0404ff"/></linearGradient><linearGradient id="ha65" x1="0" y1="0" x2="0" y2="1"><stop offset="0.000" stop-color="#5050ff"/><stop offset="0.099" stop-color="#4e4eff"/><stop offset="0.218" stop-color="#4a4aff"/><stop offset="0.337" stop-color="#4040ff"/><stop offset="0.452" stop-color="#3636ff"/><stop offset="0.512" stop-color="#1717ff"/><stop offset="0.575" stop-color="#0404ff"/><stop offset="0.655" stop-color="#0a0aff"/><stop offset="0.726" stop-color="#1515ff"/><stop offset="0.821" stop-color="#1111ff"/><stop offset="0.913" stop-color="#0909ff"/><stop offset="1.000" stop-color="#0303ff"/></linearGradient><linearGradient id="ha66" x1="0" y1="0" x2="0" y2="1"><stop offset="0.000" stop-color="#4f4fff"/><stop offset="0.099" stop-color="#4d4dff"/><stop offset="0.218" stop-color="#4949ff"/><stop offset="0.337" stop-color="#4040ff"/><stop offset="0.452" stop-color="#3636ff"/><stop offset="0.512" stop-color="#1717ff"/><stop offset="0.575" stop-color="#0404ff"/><stop offset="0.655" stop-color="#0a0aff"/><stop offset="0.726" stop-color="#1515ff"/><stop offset="0.821" stop-color="#1111ff"/><stop offset="0.913" stop-color="#0909ff"/><stop offset="1.000" stop-color="#0303ff"/></linearGradient><linearGradient id="ha67" x1="0" y1="0" x2="0" y2="1"><stop offset="0.000" stop-color="#4f4fff"/><stop offset="0.099" stop-color="#4d4dff"/><stop offset="0.218" stop-color="#4949ff"/><stop offset="0.337" stop-color="#3f3fff"/><stop offset="0.452" stop-color="#3535ff"/><stop offset="0.512" stop-color="#1616ff"/><stop offset="0.575" stop-color="#0404ff"/><stop offset="0.655" stop-color="#0a0aff"/><stop offset="0.726" stop-color="#1414ff"/><stop offset="0.821" stop-color="#1010ff"/><stop offset="0.913" stop-color="#0808ff"/><stop offset="1.000" stop-color="#0303ff"/></linearGradient><linearGradient id="ha68" x1="0" y1="0" x2="0" y2="1"><stop offset="0.000" stop-color="#4e4eff"/><stop offset="0.099" stop-color="#4c4cff"/><stop offset="0.218" stop-color="#4848ff"/><stop offset="0.337" stop-color="#3f3fff"/><stop offset="0.452" stop-color="#3535ff"/><stop offset="0.512" stop-color="#1616ff"/><stop offset="0.575" stop-color="#0404ff"/><stop offset="0.655" stop-color="#0a0aff"/><stop offset="0.726" stop-color="#1414ff"/><stop offset="0.821" stop-color="#1010ff"/><stop offset="0.913" stop-color="#0808ff"/><stop offset="1.000" stop-color="#0303ff"/></linearGradient><linearGradient id="ha69" x1="0" y1="0" x2="0" y2="1"><stop offset="0.000" stop-color="#4e4eff"/><stop offset="0.099" stop-color="#4c4cff"/><stop offset="0.218" stop-color="#4848ff"/><stop offset="0.337" stop-color="#3f3fff"/><stop offset="0.452" stop-color="#3535ff"/><stop offset="0.512" stop-color="#1616ff"/><stop offset="0.575" stop-color="#0404ff"/><stop offset="0.655" stop-color="#0b0bff"/><stop offset="0.726" stop-color="#1515ff"/><stop offset="0.821" stop-color="#1111ff"/><stop offset="0.913" stop-color="#0909ff"/><stop offset="1.000" stop-color="#0303ff"/></linearGradient><linearGradient id="ha70" x1="0" y1="0" x2="0" y2="1"><stop offset="0.000" stop-color="#4f4fff"/><stop offset="0.099" stop-color="#4d4dff"/><stop offset="0.218" stop-color="#4848ff"/><stop offset="0.337" stop-color="#3f3fff"/><stop offset="0.452" stop-color="#3535ff"/><stop offset="0.512" stop-color="#1717ff"/><stop offset="0.575" stop-color="#0505ff"/><stop offset="0.655" stop-color="#0b0bff"/><stop offset="0.726" stop-color="#1515ff"/><stop offset="0.821" stop-color="#1111ff"/><stop offset="0.913" stop-color="#0909ff"/><stop offset="1.000" stop-color="#0404ff"/></linearGradient><linearGradient id="ha71" x1="0" y1="0" x2="0" y2="1"><stop offset="0.000" stop-color="#4f4fff"/><stop offset="0.099" stop-color="#4d4dff"/><stop offset="0.218" stop-color="#4848ff"/><stop offset="0.337" stop-color="#3f3fff"/><stop offset="0.452" stop-color="#3535ff"/><stop offset="0.512" stop-color="#1717ff"/><stop offset="0.575" stop-color="#0505ff"/><stop offset="0.655" stop-color="#0c0cff"/><stop offset="0.726" stop-color="#1616ff"/><stop offset="0.821" stop-color="#1212ff"/><stop offset="0.913" stop-color="#0a0aff"/><stop offset="1.000" stop-color="#0404ff"/></linearGradient><linearGradient id="ha72" x1="0" y1="0" x2="0" y2="1"><stop offset="0.000" stop-color="#4f4fff"/><stop offset="0.099" stop-color="#4d4dff"/><stop offset="0.218" stop-color="#4848ff"/><stop offset="0.337" stop-color="#3f3fff"/><stop offset="0.452" stop-color="#3535ff"/><stop offset="0.512" stop-color="#1717ff"/><stop offset="0.575" stop-color="#0505ff"/><stop offset="0.655" stop-color="#0c0cff"/><stop offset="0.726" stop-color="#1616ff"/><stop offset="0.821" stop-color="#1212ff"/><stop offset="0.913" stop-color="#0a0aff"/><stop offset="1.000" stop-color="#0505ff"/></linearGradient><linearGradient id="ha73" x1="0" y1="0" x2="0" y2="1"><stop offset="0.000" stop-color="#4f4fff"/><stop offset="0.099" stop-color="#4d4dff"/><stop offset="0.218" stop-color="#4848ff"/><stop offset="0.337" stop-color="#3f3fff"/><stop offset="0.452" stop-color="#3535ff"/><stop offset="0.512" stop-color="#1717ff"/><stop offset="0.575" stop-color="#0505ff"/><stop offset="0.655" stop-color="#0d0dff"/><stop offset="0.726" stop-color="#1717ff"/><stop offset="0.821" stop-color="#1313ff"/><stop offset="0.913" stop-color="#0b0bff"/><stop offset="1.000" stop-color="#0505ff"/></linearGradient><linearGradient id="ha74" x1="0" y1="0" x2="0" y2="1"><stop offset="0.000" stop-color="#5050ff"/><stop offset="0.099" stop-color="#4e4eff"/><stop offset="0.218" stop-color="#4848ff"/><stop offset="0.337" stop-color="#3f3fff"/><stop offset="0.452" stop-color="#3535ff"/><stop offset="0.512" stop-color="#1818ff"/><stop offset="0.575" stop-color="#0606ff"/><stop offset="0.655" stop-color="#0d0dff"/><stop offset="0.726" stop-color="#1717ff"/><stop offset="0.821" stop-color="#1313ff"/><stop offset="0.913" stop-color="#0b0bff"/><stop offset="1.000" stop-color="#0505ff"/></linearGradient><linearGradient id="ha75" x1="0" y1="0" x2="0" y2="1"><stop offset="0.000" stop-color="#5050ff"/><stop offset="0.099" stop-color="#4e4eff"/><stop offset="0.218" stop-color="#4848ff"/><stop offset="0.337" stop-color="#3f3fff"/><stop offset="0.452" stop-color="#3535ff"/><stop offset="0.512" stop-color="#1818ff"/><stop offset="0.575" stop-color="#0606ff"/><stop offset="0.655" stop-color="#0e0eff"/><stop offset="0.726" stop-color="#1818ff"/><stop offset="0.821" stop-color="#1414ff"/><stop offset="0.913" stop-color="#0c0cff"/><stop offset="1.000" stop-color="#0606ff"/></linearGradient><linearGradient id="ha76" x1="0" y1="0" x2="0" y2="1"><stop offset="0.000" stop-color="#5050ff"/><stop offset="0.099" stop-color="#4e4eff"/><stop offset="0.218" stop-color="#4848ff"/><stop offset="0.337" stop-color="#3f3fff"/><stop offset="0.452" stop-color="#3535ff"/><stop offset="0.512" stop-color="#1818ff"/><stop offset="0.575" stop-color="#0606ff"/><stop offset="0.655" stop-color="#0e0eff"/><stop offset="0.726" stop-color="#1818ff"/><stop offset="0.821" stop-color="#1414ff"/><stop offset="0.913" stop-color="#0c0cff"/><stop offset="1.000" stop-color="#0606ff"/></linearGradient><linearGradient id="ha77" x1="0" y1="0" x2="0" y2="1"><stop offset="0.000" stop-color="#4f4fff"/><stop offset="0.099" stop-color="#4d4dff"/><stop offset="0.218" stop-color="#4747ff"/><stop offset="0.337" stop-color="#3e3eff"/><stop offset="0.452" stop-color="#3434ff"/><stop offset="0.512" stop-color="#1818ff"/><stop offset="0.575" stop-color="#0606ff"/><stop offset="0.655" stop-color="#0d0dff"/><stop offset="0.726" stop-color="#1717ff"/><stop offset="0.821" stop-color="#1313ff"/><stop offset="0.913" stop-color="#0b0bff"/><stop offset="1.000" stop-color="#0505ff"/></linearGradient><linearGradient id="ha78" x1="0" y1="0" x2="0" y2="1"><stop offset="0.000" stop-color="#4e4eff"/><stop offset="0.099" stop-color="#4c4cff"/><stop offset="0.218" stop-color="#4747ff"/><stop offset="0.337" stop-color="#3e3eff"/><stop offset="0.452" stop-color="#3434ff"/><stop offset="0.512" stop-color="#1717ff"/><stop offset="0.575" stop-color="#0505ff"/><stop offset="0.655" stop-color="#0d0dff"/><stop offset="0.726" stop-color="#1717ff"/><stop offset="0.821" stop-color="#1313ff"/><stop offset="0.913" stop-color="#0b0bff"/><stop offset="1.000" stop-color="#0505ff"/></linearGradient><linearGradient id="ha79" x1="0" y1="0" x2="0" y2="1"><stop offset="0.000" stop-color="#4d4dff"/><stop offset="0.099" stop-color="#4b4bff"/><stop offset="0.218" stop-color="#4646ff"/><stop offset="0.337" stop-color="#3e3eff"/><stop offset="0.452" stop-color="#3434ff"/><stop offset="0.512" stop-color="#1717ff"/><stop offset="0.575" stop-color="#0505ff"/><stop offset="0.655" stop-color="#0c0cff"/><stop offset="0.726" stop-color="#1616ff"/><stop offset="0.821" stop-color="#1212ff"/><stop offset="0.913" stop-color="#0a0aff"/><stop offset="1.000" stop-color="#0505ff"/></linearGradient><linearGradient id="ha80" x1="0" y1="0" x2="0" y2="1"><stop offset="0.000" stop-color="#4c4cff"/><stop offset="0.099" stop-color="#4a4aff"/><stop offset="0.218" stop-color="#4646ff"/><stop offset="0.337" stop-color="#3d3dff"/><stop offset="0.452" stop-color="#3333ff"/><stop offset="0.512" stop-color="#1717ff"/><stop offset="0.575" stop-color="#0505ff"/><stop offset="0.655" stop-color="#0c0cff"/><stop offset="0.726" stop-color="#1616ff"/><stop offset="0.821" stop-color="#1212ff"/><stop offset="0.913" stop-color="#0a0aff"/><stop offset="1.000" stop-color="#0404ff"/></linearGradient><linearGradient id="ha81" x1="0" y1="0" x2="0" y2="1"><stop offset="0.000" stop-color="#4c4cff"/><stop offset="0.099" stop-color="#4a4aff"/><stop offset="0.218" stop-color="#4545ff"/><stop offset="0.337" stop-color="#3d3dff"/><stop offset="0.452" stop-color="#3333ff"/><stop offset="0.512" stop-color="#1717ff"/><stop offset="0.575" stop-color="#0505ff"/><stop offset="0.655" stop-color="#0b0bff"/><stop offset="0.726" stop-color="#1515ff"/><stop offset="0.821" stop-color="#1111ff"/><stop offset="0.913" stop-color="#0909ff"/><stop offset="1.000" stop-color="#0404ff"/></linearGradient><linearGradient id="ha82" x1="0" y1="0" x2="0" y2="1"><stop offset="0.000" stop-color="#4b4bff"/><stop offset="0.099" stop-color="#4949ff"/><stop offset="0.218" stop-color="#4545ff"/><stop offset="0.337" stop-color="#3c3cff"/><stop offset="0.452" stop-color="#3232ff"/><stop offset="0.512" stop-color="#1616ff"/><stop offset="0.575" stop-color="#0404ff"/><stop offset="0.655" stop-color="#0b0bff"/><stop offset="0.726" stop-color="#1515ff"/><stop offset="0.821" stop-color="#1111ff"/><stop offset="0.913" stop-color="#0909ff"/><stop offset="1.000" stop-color="#0303ff"/></linearGradient><linearGradient id="ha83" x1="0" y1="0" x2="0" y2="1"><stop offset="0.000" stop-color="#4a4aff"/><stop offset="0.099" stop-color="#4848ff"/><stop offset="0.218" stop-color="#4444ff"/><stop offset="0.337" stop-color="#3c3cff"/><stop offset="0.452" stop-color="#3232ff"/><stop offset="0.512" stop-color="#1616ff"/><stop offset="0.575" stop-color="#0404ff"/><stop offset="0.655" stop-color="#0a0aff"/><stop offset="0.726" stop-color="#1414ff"/><stop offset="0.821" stop-color="#1010ff"/><stop offset="0.913" stop-color="#0808ff"/><stop offset="1.000" stop-color="#0303ff"/></linearGradient><linearGradient id="ha84" x1="0" y1="0" x2="0" y2="1"><stop offset="0.000" stop-color="#4a4aff"/><stop offset="0.099" stop-color="#4848ff"/><stop offset="0.218" stop-color="#4444ff"/><stop offset="0.337" stop-color="#3c3cff"/><stop offset="0.452" stop-color="#3232ff"/><stop offset="0.512" stop-color="#1616ff"/><stop offset="0.575" stop-color="#0404ff"/><stop offset="0.655" stop-color="#0a0aff"/><stop offset="0.726" stop-color="#1414ff"/><stop offset="0.821" stop-color="#1010ff"/><stop offset="0.913" stop-color="#0808ff"/><stop offset="1.000" stop-color="#0303ff"/></linearGradient><linearGradient id="ha85" x1="0" y1="0" x2="0" y2="1"><stop offset="0.000" stop-color="#4a4aff"/><stop offset="0.099" stop-color="#4848ff"/><stop offset="0.218" stop-color="#4444ff"/><stop offset="0.337" stop-color="#3c3cff"/><stop offset="0.452" stop-color="#3232ff"/><stop offset="0.512" stop-color="#1616ff"/><stop offset="0.575" stop-color="#0404ff"/><stop offset="0.655" stop-color="#0b0bff"/><stop offset="0.726" stop-color="#1515ff"/><stop offset="0.821" stop-color="#1111ff"/><stop offset="0.913" stop-color="#0909ff"/><stop offset="1.000" stop-color="#0303ff"/></linearGradient><linearGradient id="ha86" x1="0" y1="0" x2="0" y2="1"><stop offset="0.000" stop-color="#4a4aff"/><stop offset="0.099" stop-color="#4848ff"/><stop offset="0.218" stop-color="#4444ff"/><stop offset="0.337" stop-color="#3c3cff"/><stop offset="0.452" stop-color="#3232ff"/><stop offset="0.512" stop-color="#1616ff"/><stop offset="0.575" stop-color="#0404ff"/><stop offset="0.655" stop-color="#0b0bff"/><stop offset="0.726" stop-color="#1515ff"/><stop offset="0.821" stop-color="#1111ff"/><stop offset="0.913" stop-color="#0909ff"/><stop offset="1.000" stop-color="#0404ff"/></linearGradient><linearGradient id="ha87" x1="0" y1="0" x2="0" y2="1"><stop offset="0.000" stop-color="#4b4bff"/><stop offset="0.099" stop-color="#4949ff"/><stop offset="0.218" stop-color="#4545ff"/><stop offset="0.337" stop-color="#3d3dff"/><stop offset="0.452" stop-color="#3232ff"/><stop offset="0.512" stop-color="#1616ff"/><stop offset="0.575" stop-color="#0505ff"/><stop offset="0.655" stop-color="#0b0bff"/><stop offset="0.726" stop-color="#1515ff"/><stop offset="0.821" stop-color="#1111ff"/><stop offset="0.913" stop-color="#0909ff"/><stop offset="1.000" stop-color="#0404ff"/></linearGradient><linearGradient id="ha88" x1="0" y1="0" x2="0" y2="1"><stop offset="0.000" stop-color="#4b4bff"/><stop offset="0.099" stop-color="#4949ff"/><stop offset="0.218" stop-color="#4545ff"/><stop offset="0.337" stop-color="#3d3dff"/><stop offset="0.452" stop-color="#3232ff"/><stop offset="0.512" stop-color="#1616ff"/><stop offset="0.575" stop-color="#0505ff"/><stop offset="0.655" stop-color="#0c0cff"/><stop offset="0.726" stop-color="#1616ff"/><stop offset="0.821" stop-color="#1212ff"/><stop offset="0.913" stop-color="#0a0aff"/><stop offset="1.000" stop-color="#0404ff"/></linearGradient><linearGradient id="ha89" x1="0" y1="0" x2="0" y2="1"><stop offset="0.000" stop-color="#4b4bff"/><stop offset="0.099" stop-color="#4949ff"/><stop offset="0.218" stop-color="#4545ff"/><stop offset="0.337" stop-color="#3d3dff"/><stop offset="0.452" stop-color="#3232ff"/><stop offset="0.512" stop-color="#1616ff"/><stop offset="0.575" stop-color="#0505ff"/><stop offset="0.655" stop-color="#0c0cff"/><stop offset="0.726" stop-color="#1616ff"/><stop offset="0.821" stop-color="#1212ff"/><stop offset="0.913" stop-color="#0a0aff"/><stop offset="1.000" stop-color="#0404ff"/></linearGradient><linearGradient id="ha90" x1="0" y1="0" x2="0" y2="1"><stop offset="0.000" stop-color="#4b4bff"/><stop offset="0.099" stop-color="#4949ff"/><stop offset="0.218" stop-color="#4545ff"/><stop offset="0.337" stop-color="#3d3dff"/><stop offset="0.452" stop-color="#3232ff"/><stop offset="0.512" stop-color="#1616ff"/><stop offset="0.575" stop-color="#0505ff"/><stop offset="0.655" stop-color="#0c0cff"/><stop offset="0.726" stop-color="#1616ff"/><stop offset="0.821" stop-color="#1212ff"/><stop offset="0.913" stop-color="#0a0aff"/><stop offset="1.000" stop-color="#0505ff"/></linearGradient><linearGradient id="ha91" x1="0" y1="0" x2="0" y2="1"><stop offset="0.000" stop-color="#4b4bff"/><stop offset="0.099" stop-color="#4949ff"/><stop offset="0.218" stop-color="#4545ff"/><stop offset="0.337" stop-color="#3d3dff"/><stop offset="0.452" stop-color="#3232ff"/><stop offset="0.512" stop-color="#1616ff"/><stop offset="0.575" stop-color="#0505ff"/><stop offset="0.655" stop-color="#0d0dff"/><stop offset="0.726" stop-color="#1717ff"/><stop offset="0.821" stop-color="#1313ff"/><stop offset="0.913" stop-color="#0b0bff"/><stop offset="1.000" stop-color="#0505ff"/></linearGradient><linearGradient id="ha92" x1="0" y1="0" x2="0" y2="1"><stop offset="0.000" stop-color="#4b4bff"/><stop offset="0.099" stop-color="#4949ff"/><stop offset="0.218" stop-color="#4545ff"/><stop offset="0.337" stop-color="#3d3dff"/><stop offset="0.452" stop-color="#3232ff"/><stop offset="0.512" stop-color="#1616ff"/><stop offset="0.575" stop-color="#0505ff"/><stop offset="0.655" stop-color="#0d0dff"/><stop offset="0.726" stop-color="#1717ff"/><stop offset="0.821" stop-color="#1313ff"/><stop offset="0.913" stop-color="#0b0bff"/><stop offset="1.000" stop-color="#0505ff"/></linearGradient><linearGradient id="ha93" x1="0" y1="0" x2="0" y2="1"><stop offset="0.000" stop-color="#4c4cff"/><stop offset="0.099" stop-color="#4a4aff"/><stop offset="0.218" stop-color="#4646ff"/><stop offset="0.337" stop-color="#3e3eff"/><stop offset="0.452" stop-color="#3232ff"/><stop offset="0.512" stop-color="#1616ff"/><stop offset="0.575" stop-color="#0606ff"/><stop offset="0.655" stop-color="#0d0dff"/><stop offset="0.726" stop-color="#1717ff"/><stop offset="0.821" stop-color="#1313ff"/><stop offset="0.913" stop-color="#0b0bff"/><stop offset="1.000" stop-color="#0505ff"/></linearGradient><linearGradient id="ha94" x1="0" y1="0" x2="0" y2="1"><stop offset="0.000" stop-color="#4c4cff"/><stop offset="0.099" stop-color="#4a4aff"/><stop offset="0.218" stop-color="#4646ff"/><stop offset="0.337" stop-color="#3e3eff"/><stop offset="0.452" stop-color="#3232ff"/><stop offset="0.512" stop-color="#1616ff"/><stop offset="0.575" stop-color="#0606ff"/><stop offset="0.655" stop-color="#0e0eff"/><stop offset="0.726" stop-color="#1818ff"/><stop offset="0.821" stop-color="#1414ff"/><stop offset="0.913" stop-color="#0c0cff"/><stop offset="1.000" stop-color="#0606ff"/></linearGradient><linearGradient id="ha95" x1="0" y1="0" x2="0" y2="1"><stop offset="0.000" stop-color="#4c4cff"/><stop offset="0.099" stop-color="#4a4aff"/><stop offset="0.218" stop-color="#4646ff"/><stop offset="0.337" stop-color="#3e3eff"/><stop offset="0.452" stop-color="#3232ff"/><stop offset="0.512" stop-color="#1616ff"/><stop offset="0.575" stop-color="#0606ff"/><stop offset="0.655" stop-color="#0e0eff"/><stop offset="0.726" stop-color="#1818ff"/><stop offset="0.821" stop-color="#1414ff"/><stop offset="0.913" stop-color="#0c0cff"/><stop offset="1.000" stop-color="#0606ff"/></linearGradient><linearGradient id="ha96" x1="0" y1="0" x2="0" y2="1"><stop offset="0.000" stop-color="#4c4cff"/><stop offset="0.099" stop-color="#4a4aff"/><stop offset="0.218" stop-color="#4646ff"/><stop offset="0.337" stop-color="#3e3eff"/><stop offset="0.452" stop-color="#3232ff"/><stop offset="0.512" stop-color="#1616ff"/><stop offset="0.575" stop-color="#0606ff"/><stop offset="0.655" stop-color="#0e0eff"/><stop offset="0.726" stop-color="#1818ff"/><stop offset="0.821" stop-color="#1414ff"/><stop offset="0.913" stop-color="#0c0cff"/><stop offset="1.000" stop-color="#0606ff"/></linearGradient><linearGradient id="ha97" x1="0" y1="0" x2="0" y2="1"><stop offset="0.000" stop-color="#4b4bff"/><stop offset="0.099" stop-color="#4949ff"/><stop offset="0.218" stop-color="#4545ff"/><stop offset="0.337" stop-color="#3d3dff"/><stop offset="0.452" stop-color="#3131ff"/><stop offset="0.512" stop-color="#1616ff"/><stop offset="0.575" stop-color="#0606ff"/><stop offset="0.655" stop-color="#0d0dff"/><stop offset="0.726" stop-color="#1717ff"/><stop offset="0.821" stop-color="#1313ff"/><stop offset="0.913" stop-color="#0b0bff"/><stop offset="1.000" stop-color="#0505ff"/></linearGradient><linearGradient id="ha98" x1="0" y1="0" x2="0" y2="1"><stop offset="0.000" stop-color="#4a4aff"/><stop offset="0.099" stop-color="#4848ff"/><stop offset="0.218" stop-color="#4444ff"/><stop offset="0.337" stop-color="#3c3cff"/><stop offset="0.452" stop-color="#3131ff"/><stop offset="0.512" stop-color="#1515ff"/><stop offset="0.575" stop-color="#0505ff"/><stop offset="0.655" stop-color="#0d0dff"/><stop offset="0.726" stop-color="#1717ff"/><stop offset="0.821" stop-color="#1313ff"/><stop offset="0.913" stop-color="#0b0bff"/><stop offset="1.000" stop-color="#0505ff"/></linearGradient><linearGradient id="ha99" x1="0" y1="0" x2="0" y2="1"><stop offset="0.000" stop-color="#4a4aff"/><stop offset="0.099" stop-color="#4848ff"/><stop offset="0.218" stop-color="#4444ff"/><stop offset="0.337" stop-color="#3c3cff"/><stop offset="0.452" stop-color="#3030ff"/><stop offset="0.512" stop-color="#1515ff"/><stop offset="0.575" stop-color="#0505ff"/><stop offset="0.655" stop-color="#0c0cff"/><stop offset="0.726" stop-color="#1616ff"/><stop offset="0.821" stop-color="#1212ff"/><stop offset="0.913" stop-color="#0a0aff"/><stop offset="1.000" stop-color="#0505ff"/></linearGradient><linearGradient id="ha100" x1="0" y1="0" x2="0" y2="1"><stop offset="0.000" stop-color="#4949ff"/><stop offset="0.099" stop-color="#4747ff"/><stop offset="0.218" stop-color="#4343ff"/><stop offset="0.337" stop-color="#3b3bff"/><stop offset="0.452" stop-color="#3030ff"/><stop offset="0.512" stop-color="#1515ff"/><stop offset="0.575" stop-color="#0505ff"/><stop offset="0.655" stop-color="#0c0cff"/><stop offset="0.726" stop-color="#1616ff"/><stop offset="0.821" stop-color="#1212ff"/><stop offset="0.913" stop-color="#0a0aff"/><stop offset="1.000" stop-color="#0404ff"/></linearGradient><linearGradient id="ha101" x1="0" y1="0" x2="0" y2="1"><stop offset="0.000" stop-color="#4848ff"/><stop offset="0.099" stop-color="#4646ff"/><stop offset="0.218" stop-color="#4242ff"/><stop offset="0.337" stop-color="#3a3aff"/><stop offset="0.452" stop-color="#2f2fff"/><stop offset="0.512" stop-color="#1515ff"/><stop offset="0.575" stop-color="#0505ff"/><stop offset="0.655" stop-color="#0b0bff"/><stop offset="0.726" stop-color="#1515ff"/><stop offset="0.821" stop-color="#1111ff"/><stop offset="0.913" stop-color="#0909ff"/><stop offset="1.000" stop-color="#0404ff"/></linearGradient><linearGradient id="ha102" x1="0" y1="0" x2="0" y2="1"><stop offset="0.000" stop-color="#4747ff"/><stop offset="0.099" stop-color="#4545ff"/><stop offset="0.218" stop-color="#4141ff"/><stop offset="0.337" stop-color="#3939ff"/><stop offset="0.452" stop-color="#2f2fff"/><stop offset="0.512" stop-color="#1414ff"/><stop offset="0.575" stop-color="#0404ff"/><stop offset="0.655" stop-color="#0b0bff"/><stop offset="0.726" stop-color="#1515ff"/><stop offset="0.821" stop-color="#1111ff"/><stop offset="0.913" stop-color="#0909ff"/><stop offset="1.000" stop-color="#0404ff"/></linearGradient><linearGradient id="ha103" x1="0" y1="0" x2="0" y2="1"><stop offset="0.000" stop-color="#4747ff"/><stop offset="0.099" stop-color="#4545ff"/><stop offset="0.218" stop-color="#4141ff"/><stop offset="0.337" stop-color="#3939ff"/><stop offset="0.452" stop-color="#2e2eff"/><stop offset="0.512" stop-color="#1414ff"/><stop offset="0.575" stop-color="#0404ff"/><stop offset="0.655" stop-color="#0a0aff"/><stop offset="0.726" stop-color="#1414ff"/><stop offset="0.821" stop-color="#1010ff"/><stop offset="0.913" stop-color="#0808ff"/><stop offset="1.000" stop-color="#0303ff"/></linearGradient><linearGradient id="ha104" x1="0" y1="0" x2="0" y2="1"><stop offset="0.000" stop-color="#4646ff"/><stop offset="0.099" stop-color="#4444ff"/><stop offset="0.218" stop-color="#4040ff"/><stop offset="0.337" stop-color="#3838ff"/><stop offset="0.452" stop-color="#2e2eff"/><stop offset="0.512" stop-color="#1414ff"/><stop offset="0.575" stop-color="#0404ff"/><stop offset="0.655" stop-color="#0a0aff"/><stop offset="0.726" stop-color="#1414ff"/><stop offset="0.821" stop-color="#1010ff"/><stop offset="0.913" stop-color="#0808ff"/><stop offset="1.000" stop-color="#0303ff"/></linearGradient><linearGradient id="ha105" x1="0" y1="0" x2="0" y2="1"><stop offset="0.000" stop-color="#4646ff"/><stop offset="0.099" stop-color="#4444ff"/><stop offset="0.218" stop-color="#4040ff"/><stop offset="0.337" stop-color="#3838ff"/><stop offset="0.452" stop-color="#2e2eff"/><stop offset="0.512" stop-color="#1414ff"/><stop offset="0.575" stop-color="#0505ff"/><stop offset="0.655" stop-color="#0a0aff"/><stop offset="0.726" stop-color="#1414ff"/><stop offset="0.821" stop-color="#1010ff"/><stop offset="0.913" stop-color="#0808ff"/><stop offset="1.000" stop-color="#0303ff"/></linearGradient><linearGradient id="ha106" x1="0" y1="0" x2="0" y2="1"><stop offset="0.000" stop-color="#4545ff"/><stop offset="0.099" stop-color="#4343ff"/><stop offset="0.218" stop-color="#3f3fff"/><stop offset="0.337" stop-color="#3838ff"/><stop offset="0.452" stop-color="#2e2eff"/><stop offset="0.512" stop-color="#1515ff"/><stop offset="0.575" stop-color="#0505ff"/><stop offset="0.655" stop-color="#0b0bff"/><stop offset="0.726" stop-color="#1414ff"/><stop offset="0.821" stop-color="#1010ff"/><stop offset="0.913" stop-color="#0808ff"/><stop offset="1.000" stop-color="#0303ff"/></linearGradient><linearGradient id="ha107" x1="0" y1="0" x2="0" y2="1"><stop offset="0.000" stop-color="#4545ff"/><stop offset="0.099" stop-color="#4343ff"/><stop offset="0.218" stop-color="#3f3fff"/><stop offset="0.337" stop-color="#3737ff"/><stop offset="0.452" stop-color="#2e2eff"/><stop offset="0.512" stop-color="#1515ff"/><stop offset="0.575" stop-color="#0606ff"/><stop offset="0.655" stop-color="#0b0bff"/><stop offset="0.726" stop-color="#1414ff"/><stop offset="0.821" stop-color="#1010ff"/><stop offset="0.913" stop-color="#0808ff"/><stop offset="1.000" stop-color="#0303ff"/></linearGradient><linearGradient id="ha108" x1="0" y1="0" x2="0" y2="1"><stop offset="0.000" stop-color="#4444ff"/><stop offset="0.099" stop-color="#4242ff"/><stop offset="0.218" stop-color="#3e3eff"/><stop offset="0.337" stop-color="#3737ff"/><stop offset="0.452" stop-color="#2e2eff"/><stop offset="0.512" stop-color="#1616ff"/><stop offset="0.575" stop-color="#0606ff"/><stop offset="0.655" stop-color="#0c0cff"/><stop offset="0.726" stop-color="#1414ff"/><stop offset="0.821" stop-color="#1010ff"/><stop offset="0.913" stop-color="#0808ff"/><stop offset="1.000" stop-color="#0303ff"/></linearGradient><linearGradient id="ha109" x1="0" y1="0" x2="0" y2="1"><stop offset="0.000" stop-color="#4444ff"/><stop offset="0.099" stop-color="#4242ff"/><stop offset="0.218" stop-color="#3e3eff"/><stop offset="0.337" stop-color="#3737ff"/><stop offset="0.452" stop-color="#2e2eff"/><stop offset="0.512" stop-color="#1616ff"/><stop offset="0.575" stop-color="#0707ff"/><stop offset="0.655" stop-color="#0c0cff"/><stop offset="0.726" stop-color="#1414ff"/><stop offset="0.821" stop-color="#1010ff"/><stop offset="0.913" stop-color="#0808ff"/><stop offset="1.000" stop-color="#0404ff"/></linearGradient><linearGradient id="ha110" x1="0" y1="0" x2="0" y2="1"><stop offset="0.000" stop-color="#4444ff"/><stop offset="0.099" stop-color="#4242ff"/><stop offset="0.218" stop-color="#3e3eff"/><stop offset="0.337" stop-color="#3737ff"/><stop offset="0.452" stop-color="#2e2eff"/><stop offset="0.512" stop-color="#1616ff"/><stop offset="0.575" stop-color="#0808ff"/><stop offset="0.655" stop-color="#0c0cff"/><stop offset="0.726" stop-color="#1414ff"/><stop offset="0.821" stop-color="#1010ff"/><stop offset="0.913" stop-color="#0808ff"/><stop offset="1.000" stop-color="#0404ff"/></linearGradient><linearGradient id="ha111" x1="0" y1="0" x2="0" y2="1"><stop offset="0.000" stop-color="#4343ff"/><stop offset="0.099" stop-color="#4141ff"/><stop offset="0.218" stop-color="#3d3dff"/><stop offset="0.337" stop-color="#3737ff"/><stop offset="0.452" stop-color="#2e2eff"/><stop offset="0.512" stop-color="#1717ff"/><stop offset="0.575" stop-color="#0808ff"/><stop offset="0.655" stop-color="#0d0dff"/><stop offset="0.726" stop-color="#1414ff"/><stop offset="0.821" stop-color="#1010ff"/><stop offset="0.913" stop-color="#0808ff"/><stop offset="1.000" stop-color="#0404ff"/></linearGradient><linearGradient id="ha112" x1="0" y1="0" x2="0" y2="1"><stop offset="0.000" stop-color="#4343ff"/><stop offset="0.099" stop-color="#4141ff"/><stop offset="0.218" stop-color="#3d3dff"/><stop offset="0.337" stop-color="#3636ff"/><stop offset="0.452" stop-color="#2e2eff"/><stop offset="0.512" stop-color="#1717ff"/><stop offset="0.575" stop-color="#0909ff"/><stop offset="0.655" stop-color="#0d0dff"/><stop offset="0.726" stop-color="#1414ff"/><stop offset="0.821" stop-color="#1010ff"/><stop offset="0.913" stop-color="#0808ff"/><stop offset="1.000" stop-color="#0404ff"/></linearGradient><linearGradient id="ha113" x1="0" y1="0" x2="0" y2="1"><stop offset="0.000" stop-color="#4242ff"/><stop offset="0.099" stop-color="#4040ff"/><stop offset="0.218" stop-color="#3c3cff"/><stop offset="0.337" stop-color="#3636ff"/><stop offset="0.452" stop-color="#2e2eff"/><stop offset="0.512" stop-color="#1818ff"/><stop offset="0.575" stop-color="#0909ff"/><stop offset="0.655" stop-color="#0e0eff"/><stop offset="0.726" stop-color="#1414ff"/><stop offset="0.821" stop-color="#1010ff"/><stop offset="0.913" stop-color="#0808ff"/><stop offset="1.000" stop-color="#0404ff"/></linearGradient><linearGradient id="ha114" x1="0" y1="0" x2="0" y2="1"><stop offset="0.000" stop-color="#4242ff"/><stop offset="0.099" stop-color="#4040ff"/><stop offset="0.218" stop-color="#3c3cff"/><stop offset="0.337" stop-color="#3636ff"/><stop offset="0.452" stop-color="#2e2eff"/><stop offset="0.512" stop-color="#1818ff"/><stop offset="0.575" stop-color="#0a0aff"/><stop offset="0.655" stop-color="#0e0eff"/><stop offset="0.726" stop-color="#1414ff"/><stop offset="0.821" stop-color="#1010ff"/><stop offset="0.913" stop-color="#0808ff"/><stop offset="1.000" stop-color="#0404ff"/></linearGradient><linearGradient id="ha115" x1="0" y1="0" x2="0" y2="1"><stop offset="0.000" stop-color="#4343ff"/><stop offset="0.099" stop-color="#4141ff"/><stop offset="0.218" stop-color="#3d3dff"/><stop offset="0.337" stop-color="#3737ff"/><stop offset="0.452" stop-color="#2f2fff"/><stop offset="0.512" stop-color="#1b1bff"/><stop offset="0.575" stop-color="#0f0fff"/><stop offset="0.655" stop-color="#1212ff"/><stop offset="0.726" stop-color="#1717ff"/><stop offset="0.821" stop-color="#1313ff"/><stop offset="0.913" stop-color="#0c0cff"/><stop offset="1.000" stop-color="#0909ff"/></linearGradient><linearGradient id="ha116" x1="0" y1="0" x2="0" y2="1"><stop offset="0.000" stop-color="#4444ff"/><stop offset="0.099" stop-color="#4242ff"/><stop offset="0.218" stop-color="#3e3eff"/><stop offset="0.337" stop-color="#3838ff"/><stop offset="0.452" stop-color="#3030ff"/><stop offset="0.512" stop-color="#1e1eff"/><stop offset="0.575" stop-color="#1414ff"/><stop offset="0.655" stop-color="#1616ff"/><stop offset="0.726" stop-color="#1a1aff"/><stop offset="0.821" stop-color="#1616ff"/><stop offset="0.913" stop-color="#1111ff"/><stop offset="1.000" stop-color="#0e0eff"/></linearGradient><linearGradient id="ha117" x1="0" y1="0" x2="0" y2="1"><stop offset="0.000" stop-color="#4444ff"/><stop offset="0.099" stop-color="#4242ff"/><stop offset="0.218" stop-color="#3e3eff"/><stop offset="0.337" stop-color="#3838ff"/><stop offset="0.452" stop-color="#3232ff"/><stop offset="0.512" stop-color="#2222ff"/><stop offset="0.575" stop-color="#1818ff"/><stop offset="0.655" stop-color="#1a1aff"/><stop offset="0.726" stop-color="#1c1cff"/><stop offset="0.821" stop-color="#1a1aff"/><stop offset="0.913" stop-color="#1515ff"/><stop offset="1.000" stop-color="#1212ff"/></linearGradient><linearGradient id="ha118" x1="0" y1="0" x2="0" y2="1"><stop offset="0.000" stop-color="#4545ff"/><stop offset="0.099" stop-color="#4343ff"/><stop offset="0.218" stop-color="#3f3fff"/><stop offset="0.337" stop-color="#3939ff"/><stop offset="0.452" stop-color="#3333ff"/><stop offset="0.512" stop-color="#2525ff"/><stop offset="0.575" stop-color="#1d1dff"/><stop offset="0.655" stop-color="#1e1eff"/><stop offset="0.726" stop-color="#1f1fff"/><stop offset="0.821" stop-color="#1d1dff"/><stop offset="0.913" stop-color="#1a1aff"/><stop offset="1.000" stop-color="#1717ff"/></linearGradient><linearGradient id="ha119" x1="0" y1="0" x2="0" y2="1"><stop offset="0.000" stop-color="#4646ff"/><stop offset="0.099" stop-color="#4444ff"/><stop offset="0.218" stop-color="#4040ff"/><stop offset="0.337" stop-color="#3a3aff"/><stop offset="0.452" stop-color="#3434ff"/><stop offset="0.512" stop-color="#2828ff"/><stop offset="0.575" stop-color="#2222ff"/><stop offset="0.655" stop-color="#2222ff"/><stop offset="0.726" stop-color="#2222ff"/><stop offset="0.821" stop-color="#2020ff"/><stop offset="0.913" stop-color="#1e1eff"/><stop offset="1.000" stop-color="#1c1cff"/></linearGradient><linearGradient id="ha120" x1="0" y1="0" x2="0" y2="1"><stop offset="0.000" stop-color="#4949ff"/><stop offset="0.099" stop-color="#4747ff"/><stop offset="0.218" stop-color="#4343ff"/><stop offset="0.337" stop-color="#3d3dff"/><stop offset="0.452" stop-color="#3737ff"/><stop offset="0.512" stop-color="#2d2dff"/><stop offset="0.575" stop-color="#2727ff"/><stop offset="0.655" stop-color="#2727ff"/><stop offset="0.726" stop-color="#2727ff"/><stop offset="0.821" stop-color="#2525ff"/><stop offset="0.913" stop-color="#2323ff"/><stop offset="1.000" stop-color="#2020ff"/></linearGradient><linearGradient id="ha121" x1="0" y1="0" x2="0" y2="1"><stop offset="0.000" stop-color="#4d4dff"/><stop offset="0.099" stop-color="#4b4bff"/><stop offset="0.218" stop-color="#4747ff"/><stop offset="0.337" stop-color="#4141ff"/><stop offset="0.452" stop-color="#3b3bff"/><stop offset="0.512" stop-color="#3131ff"/><stop offset="0.575" stop-color="#2c2cff"/><stop offset="0.655" stop-color="#2c2cff"/><stop offset="0.726" stop-color="#2b2bff"/><stop offset="0.821" stop-color="#2929ff"/><stop offset="0.913" stop-color="#2727ff"/><stop offset="1.000" stop-color="#2525ff"/></linearGradient><linearGradient id="ha122" x1="0" y1="0" x2="0" y2="1"><stop offset="0.000" stop-color="#5050ff"/><stop offset="0.099" stop-color="#4e4eff"/><stop offset="0.218" stop-color="#4a4aff"/><stop offset="0.337" stop-color="#4444ff"/><stop offset="0.452" stop-color="#3e3eff"/><stop offset="0.512" stop-color="#3636ff"/><stop offset="0.575" stop-color="#3131ff"/><stop offset="0.655" stop-color="#3131ff"/><stop offset="0.726" stop-color="#3030ff"/><stop offset="0.821" stop-color="#2e2eff"/><stop offset="0.913" stop-color="#2c2cff"/><stop offset="1.000" stop-color="#2929ff"/></linearGradient><linearGradient id="ha123" x1="0" y1="0" x2="0" y2="1"><stop offset="0.000" stop-color="#4f4fff"/><stop offset="0.099" stop-color="#4d4dff"/><stop offset="0.218" stop-color="#4949ff"/><stop offset="0.337" stop-color="#4444ff"/><stop offset="0.452" stop-color="#3e3eff"/><stop offset="0.512" stop-color="#3737ff"/><stop offset="0.575" stop-color="#3333ff"/><stop offset="0.655" stop-color="#3333ff"/><stop offset="0.726" stop-color="#3131ff"/><stop offset="0.821" stop-color="#2f2fff"/><stop offset="0.913" stop-color="#2d2dff"/><stop offset="1.000" stop-color="#2a2aff"/></linearGradient><linearGradient id="ha124" x1="0" y1="0" x2="0" y2="1"><stop offset="0.000" stop-color="#4949ff"/><stop offset="0.099" stop-color="#4747ff"/><stop offset="0.218" stop-color="#4343ff"/><stop offset="0.337" stop-color="#3f3fff"/><stop offset="0.452" stop-color="#3a3aff"/><stop offset="0.512" stop-color="#3434ff"/><stop offset="0.575" stop-color="#3030ff"/><stop offset="0.655" stop-color="#3030ff"/><stop offset="0.726" stop-color="#2f2fff"/><stop offset="0.821" stop-color="#2d2dff"/><stop offset="0.913" stop-color="#2b2bff"/><stop offset="1.000" stop-color="#2828ff"/></linearGradient><linearGradient id="ha125" x1="0" y1="0" x2="0" y2="1"><stop offset="0.000" stop-color="#4242ff"/><stop offset="0.099" stop-color="#4040ff"/><stop offset="0.218" stop-color="#3e3eff"/><stop offset="0.337" stop-color="#3a3aff"/><stop offset="0.452" stop-color="#3636ff"/><stop offset="0.512" stop-color="#3131ff"/><stop offset="0.575" stop-color="#2d2dff"/><stop offset="0.655" stop-color="#2d2dff"/><stop offset="0.726" stop-color="#2c2cff"/><stop offset="0.821" stop-color="#2a2aff"/><stop offset="0.913" stop-color="#2828ff"/><stop offset="1.000" stop-color="#2626ff"/></linearGradient><linearGradient id="ha126" x1="0" y1="0" x2="0" y2="1"><stop offset="0.000" stop-color="#3c3cff"/><stop offset="0.099" stop-color="#3a3aff"/><stop offset="0.218" stop-color="#3838ff"/><stop offset="0.337" stop-color="#3535ff"/><stop offset="0.452" stop-color="#3232ff"/><stop offset="0.512" stop-color="#2e2eff"/><stop offset="0.575" stop-color="#2a2aff"/><stop offset="0.655" stop-color="#2a2aff"/><stop offset="0.726" stop-color="#2a2aff"/><stop offset="0.821" stop-color="#2828ff"/><stop offset="0.913" stop-color="#2626ff"/><stop offset="1.000" stop-color="#2424ff"/></linearGradient><linearGradient id="ha127" x1="0" y1="0" x2="0" y2="1"><stop offset="0.000" stop-color="#3b3bff"/><stop offset="0.099" stop-color="#3939ff"/><stop offset="0.218" stop-color="#3737ff"/><stop offset="0.337" stop-color="#3434ff"/><stop offset="0.452" stop-color="#3131ff"/><stop offset="0.512" stop-color="#2d2dff"/><stop offset="0.575" stop-color="#2a2aff"/><stop offset="0.655" stop-color="#2a2aff"/><stop offset="0.726" stop-color="#2a2aff"/><stop offset="0.821" stop-color="#2828ff"/><stop offset="0.913" stop-color="#2626ff"/><stop offset="1.000" stop-color="#2424ff"/></linearGradient><linearGradient id="ha128" x1="0" y1="0" x2="0" y2="1"><stop offset="0.000" stop-color="#3a3aff"/><stop offset="0.099" stop-color="#3838ff"/><stop offset="0.218" stop-color="#3636ff"/><stop offset="0.337" stop-color="#3434ff"/><stop offset="0.452" stop-color="#3030ff"/><stop offset="0.512" stop-color="#2c2cff"/><stop offset="0.575" stop-color="#2929ff"/><stop offset="0.655" stop-color="#2929ff"/><stop offset="0.726" stop-color="#2929ff"/><stop offset="0.821" stop-color="#2727ff"/><stop offset="0.913" stop-color="#2525ff"/><stop offset="1.000" stop-color="#2323ff"/></linearGradient><linearGradient id="ha129" x1="0" y1="0" x2="0" y2="1"><stop offset="0.000" stop-color="#3939ff"/><stop offset="0.099" stop-color="#3838ff"/><stop offset="0.218" stop-color="#3636ff"/><stop offset="0.337" stop-color="#3333ff"/><stop offset="0.452" stop-color="#3030ff"/><stop offset="0.512" stop-color="#2c2cff"/><stop offset="0.575" stop-color="#2929ff"/><stop offset="0.655" stop-color="#2929ff"/><stop offset="0.726" stop-color="#2929ff"/><stop offset="0.821" stop-color="#2727ff"/><stop offset="0.913" stop-color="#2525ff"/><stop offset="1.000" stop-color="#2323ff"/></linearGradient><linearGradient id="ha130" x1="0" y1="0" x2="0" y2="1"><stop offset="0.000" stop-color="#3838ff"/><stop offset="0.099" stop-color="#3737ff"/><stop offset="0.218" stop-color="#3535ff"/><stop offset="0.337" stop-color="#3333ff"/><stop offset="0.452" stop-color="#2f2fff"/><stop offset="0.512" stop-color="#2b2bff"/><stop offset="0.575" stop-color="#2828ff"/><stop offset="0.655" stop-color="#2828ff"/><stop offset="0.726" stop-color="#2828ff"/><stop offset="0.821" stop-color="#2626ff"/><stop offset="0.913" stop-color="#2424ff"/><stop offset="1.000" stop-color="#2222ff"/></linearGradient><linearGradient id="ha131" x1="0" y1="0" x2="0" y2="1"><stop offset="0.000" stop-color="#3737ff"/><stop offset="0.099" stop-color="#3636ff"/><stop offset="0.218" stop-color="#3434ff"/><stop offset="0.337" stop-color="#3232ff"/><stop offset="0.452" stop-color="#2e2eff"/><stop offset="0.512" stop-color="#2a2aff"/><stop offset="0.575" stop-color="#2828ff"/><stop offset="0.655" stop-color="#2828ff"/><stop offset="0.726" stop-color="#2828ff"/><stop offset="0.821" stop-color="#2626ff"/><stop offset="0.913" stop-color="#2424ff"/><stop offset="1.000" stop-color="#2222ff"/></linearGradient><linearGradient id="ha132" x1="0" y1="0" x2="0" y2="1"><stop offset="0.000" stop-color="#2c2cff"/><stop offset="0.099" stop-color="#2a2aff"/><stop offset="0.218" stop-color="#2929ff"/><stop offset="0.337" stop-color="#2727ff"/><stop offset="0.452" stop-color="#2424ff"/><stop offset="0.512" stop-color="#2121ff"/><stop offset="0.575" stop-color="#1f1fff"/><stop offset="0.655" stop-color="#1f1fff"/><stop offset="0.726" stop-color="#1f1fff"/><stop offset="0.821" stop-color="#1d1dff"/><stop offset="0.913" stop-color="#1b1bff"/><stop offset="1.000" stop-color="#1919ff"/></linearGradient><linearGradient id="ha133" x1="0" y1="0" x2="0" y2="1"><stop offset="0.000" stop-color="#2020ff"/><stop offset="0.099" stop-color="#1e1eff"/><stop offset="0.218" stop-color="#1e1eff"/><stop offset="0.337" stop-color="#1c1cff"/><stop offset="0.452" stop-color="#1a1aff"/><stop offset="0.512" stop-color="#1818ff"/><stop offset="0.575" stop-color="#1616ff"/><stop offset="0.655" stop-color="#1616ff"/><stop offset="0.726" stop-color="#1616ff"/><stop offset="0.821" stop-color="#1414ff"/><stop offset="0.913" stop-color="#1212ff"/><stop offset="1.000" stop-color="#1010ff"/></linearGradient><linearGradient id="ha134" x1="0" y1="0" x2="0" y2="1"><stop offset="0.000" stop-color="#1616ff"/><stop offset="0.099" stop-color="#1515ff"/><stop offset="0.218" stop-color="#1414ff"/><stop offset="0.337" stop-color="#1313ff"/><stop offset="0.452" stop-color="#1111ff"/><stop offset="0.512" stop-color="#1010ff"/><stop offset="0.575" stop-color="#0e0eff"/><stop offset="0.655" stop-color="#0e0eff"/><stop offset="0.726" stop-color="#0e0eff"/><stop offset="0.821" stop-color="#0c0cff"/><stop offset="0.913" stop-color="#0a0aff"/><stop offset="1.000" stop-color="#0909ff"/></linearGradient><linearGradient id="ha135" x1="0" y1="0" x2="0" y2="1"><stop offset="0.000" stop-color="#0c0cff"/><stop offset="0.099" stop-color="#0c0cff"/><stop offset="0.218" stop-color="#0a0aff"/><stop offset="0.337" stop-color="#0a0aff"/><stop offset="0.452" stop-color="#0808ff"/><stop offset="0.512" stop-color="#0808ff"/><stop offset="0.575" stop-color="#0606ff"/><stop offset="0.655" stop-color="#0606ff"/><stop offset="0.726" stop-color="#0606ff"/><stop offset="0.821" stop-color="#0404ff"/><stop offset="0.913" stop-color="#0202ff"/><stop offset="1.000" stop-color="#0202ff"/></linearGradient><linearGradient id="ha136" x1="0" y1="0" x2="0" y2="1"><stop offset="0.000" stop-color="#0a0aff"/><stop offset="0.099" stop-color="#0a0aff"/><stop offset="0.218" stop-color="#0808ff"/><stop offset="0.337" stop-color="#0808ff"/><stop offset="0.452" stop-color="#0606ff"/><stop offset="0.512" stop-color="#0606ff"/><stop offset="0.575" stop-color="#0404ff"/><stop offset="0.655" stop-color="#0404ff"/><stop offset="0.726" stop-color="#0404ff"/><stop offset="0.821" stop-color="#0303ff"/><stop offset="0.913" stop-color="#0101ff"/><stop offset="1.000" stop-color="#0101ff"/></linearGradient><linearGradient id="ha137" x1="0" y1="0" x2="0" y2="1"><stop offset="0.000" stop-color="#0707ff"/><stop offset="0.099" stop-color="#0707ff"/><stop offset="0.218" stop-color="#0707ff"/><stop offset="0.337" stop-color="#0505ff"/><stop offset="0.452" stop-color="#0505ff"/><stop offset="0.512" stop-color="#0505ff"/><stop offset="0.575" stop-color="#0303ff"/><stop offset="0.655" stop-color="#0303ff"/><stop offset="0.726" stop-color="#0303ff"/><stop offset="0.821" stop-color="#0202ff"/><stop offset="0.913" stop-color="#0101ff"/><stop offset="1.000" stop-color="#0101ff"/></linearGradient><linearGradient id="ha138" x1="0" y1="0" x2="0" y2="1"><stop offset="0.000" stop-color="#0505ff"/><stop offset="0.099" stop-color="#0505ff"/><stop offset="0.218" stop-color="#0505ff"/><stop offset="0.337" stop-color="#0303ff"/><stop offset="0.452" stop-color="#0303ff"/><stop offset="0.512" stop-color="#0303ff"/><stop offset="0.575" stop-color="#0101ff"/><stop offset="0.655" stop-color="#0101ff"/><stop offset="0.726" stop-color="#0101ff"/><stop offset="0.821" stop-color="#0101ff"/><stop offset="0.913" stop-color="#0000ff"/><stop offset="1.000" stop-color="#0000ff"/></linearGradient></defs>
<rect x="53" y="75" width="2.30" height="252" fill="url(#ha0)"/>
<rect x="55" y="75" width="2.30" height="252" fill="url(#ha1)"/>
<rect x="57" y="75" width="2.30" height="252" fill="url(#ha2)"/>
<rect x="59" y="75" width="2.30" height="252" fill="url(#ha3)"/>
<rect x="61" y="75" width="2.30" height="252" fill="url(#ha4)"/>
<rect x="63" y="75" width="2.30" height="252" fill="url(#ha5)"/>
<rect x="65" y="75" width="2.30" height="252" fill="url(#ha6)"/>
<rect x="67" y="75" width="2.30" height="252" fill="url(#ha7)"/>
<rect x="69" y="75" width="2.30" height="252" fill="url(#ha8)"/>
<rect x="71" y="75" width="2.30" height="252" fill="url(#ha9)"/>
<rect x="73" y="75" width="2.30" height="252" fill="url(#ha10)"/>
<rect x="75" y="75" width="2.30" height="252" fill="url(#ha11)"/>
<rect x="77" y="75" width="2.30" height="252" fill="url(#ha12)"/>
<rect x="79" y="75" width="2.30" height="252" fill="url(#ha13)"/>
<rect x="81" y="75" width="2.30" height="252" fill="url(#ha14)"/>
<rect x="83" y="75" width="2.30" height="252" fill="url(#ha15)"/>
<rect x="85" y="75" width="2.30" height="252" fill="url(#ha16)"/>
<rect x="87" y="75" width="2.30" height="252" fill="url(#ha17)"/>
<rect x="89" y="75" width="2.30" height="252" fill="url(#ha18)"/>
<rect x="91" y="75" width="2.30" height="252" fill="url(#ha19)"/>
<rect x="93" y="75" width="2.30" height="252" fill="url(#ha20)"/>
<rect x="95" y="75" width="2.30" height="252" fill="url(#ha21)"/>
<rect x="97" y="75" width="2.30" height="252" fill="url(#ha22)"/>
<rect x="99" y="75" width="2.30" height="252" fill="url(#ha23)"/>
<rect x="101" y="75" width="2.30" height="252" fill="url(#ha24)"/>
<rect x="103" y="75" width="2.30" height="252" fill="url(#ha25)"/>
<rect x="105" y="75" width="2.30" height="252" fill="url(#ha26)"/>
<rect x="107" y="75" width="2.30" height="252" fill="url(#ha27)"/>
<rect x="109" y="75" width="2.30" height="252" fill="url(#ha28)"/>
<rect x="111" y="75" width="2.30" height="252" fill="url(#ha29)"/>
<rect x="113" y="75" width="2.30" height="252" fill="url(#ha30)"/>
<rect x="115" y="75" width="2.30" height="252" fill="url(#ha31)"/>
<rect x="117" y="75" width="2.30" height="252" fill="url(#ha32)"/>
<rect x="119" y="75" width="2.30" height="252" fill="url(#ha33)"/>
<rect x="121" y="75" width="2.30" height="252" fill="url(#ha34)"/>
<rect x="123" y="75" width="2.30" height="252" fill="url(#ha35)"/>
<rect x="125" y="75" width="2.30" height="252" fill="url(#ha36)"/>
<rect x="127" y="75" width="2.30" height="252" fill="url(#ha37)"/>
<rect x="129" y="75" width="2.30" height="252" fill="url(#ha38)"/>
<rect x="131" y="75" width="2.30" height="252" fill="url(#ha39)"/>
<rect x="133" y="75" width="2.30" height="252" fill="url(#ha40)"/>
<rect x="135" y="75" width="2.30" height="252" fill="url(#ha41)"/>
<rect x="137" y="75" width="2.30" height="252" fill="url(#ha42)"/>
<rect x="139" y="75" width="2.30" height="252" fill="url(#ha43)"/>
<rect x="141" y="75" width="2.30" height="252" fill="url(#ha44)"/>
<rect x="143" y="75" width="2.30" height="252" fill="url(#ha45)"/>
<rect x="145" y="75" width="2.30" height="252" fill="url(#ha46)"/>
<rect x="147" y="75" width="2.30" height="252" fill="url(#ha47)"/>
<rect x="149" y="75" width="2.30" height="252" fill="url(#ha48)"/>
<rect x="151" y="75" width="2.30" height="252" fill="url(#ha49)"/>
<rect x="153" y="75" width="2.30" height="252" fill="url(#ha50)"/>
<rect x="155" y="75" width="2.30" height="252" fill="url(#ha51)"/>
<rect x="157" y="75" width="2.30" height="252" fill="url(#ha52)"/>
<rect x="159" y="75" width="2.30" height="252" fill="url(#ha53)"/>
<rect x="161" y="75" width="2.30" height="252" fill="url(#ha54)"/>
<rect x="163" y="75" width="2.30" height="252" fill="url(#ha55)"/>
<rect x="165" y="75" width="2.30" height="252" fill="url(#ha56)"/>
<rect x="167" y="75" width="2.30" height="252" fill="url(#ha57)"/>
<rect x="169" y="75" width="2.30" height="252" fill="url(#ha58)"/>
<rect x="171" y="75" width="2.30" height="252" fill="url(#ha59)"/>
<rect x="173" y="75" width="2.30" height="252" fill="url(#ha60)"/>
<rect x="175" y="75" width="2.30" height="252" fill="url(#ha61)"/>
<rect x="177" y="75" width="2.30" height="252" fill="url(#ha62)"/>
<rect x="179" y="75" width="2.30" height="252" fill="url(#ha63)"/>
<rect x="181" y="75" width="2.30" height="252" fill="url(#ha64)"/>
<rect x="183" y="75" width="2.30" height="252" fill="url(#ha65)"/>
<rect x="185" y="75" width="2.30" height="252" fill="url(#ha66)"/>
<rect x="187" y="75" width="2.30" height="252" fill="url(#ha67)"/>
<rect x="189" y="75" width="2.30" height="252" fill="url(#ha68)"/>
<rect x="191" y="75" width="2.30" height="252" fill="url(#ha69)"/>
<rect x="193" y="75" width="2.30" height="252" fill="url(#ha70)"/>
<rect x="195" y="75" width="2.30" height="252" fill="url(#ha71)"/>
<rect x="197" y="75" width="2.30" height="252" fill="url(#ha72)"/>
<rect x="199" y="75" width="2.30" height="252" fill="url(#ha73)"/>
<rect x="201" y="75" width="2.30" height="252" fill="url(#ha74)"/>
<rect x="203" y="75" width="2.30" height="252" fill="url(#ha75)"/>
<rect x="205" y="75" width="2.30" height="252" fill="url(#ha76)"/>
<rect x="207" y="75" width="2.30" height="252" fill="url(#ha77)"/>
<rect x="209" y="75" width="2.30" height="252" fill="url(#ha78)"/>
<rect x="211" y="75" width="2.30" height="252" fill="url(#ha79)"/>
<rect x="213" y="75" width="2.30" height="252" fill="url(#ha80)"/>
<rect x="215" y="75" width="2.30" height="252" fill="url(#ha81)"/>
<rect x="217" y="75" width="2.30" height="252" fill="url(#ha82)"/>
<rect x="219" y="75" width="2.30" height="252" fill="url(#ha83)"/>
<rect x="221" y="75" width="2.30" height="252" fill="url(#ha84)"/>
<rect x="223" y="75" width="2.30" height="252" fill="url(#ha85)"/>
<rect x="225" y="75" width="2.30" height="252" fill="url(#ha86)"/>
<rect x="227" y="75" width="2.30" height="252" fill="url(#ha87)"/>
<rect x="229" y="75" width="2.30" height="252" fill="url(#ha88)"/>
<rect x="231" y="75" width="2.30" height="252" fill="url(#ha89)"/>
<rect x="233" y="75" width="2.30" height="252" fill="url(#ha90)"/>
<rect x="235" y="75" width="2.30" height="252" fill="url(#ha91)"/>
<rect x="237" y="75" width="2.30" height="252" fill="url(#ha92)"/>
<rect x="239" y="75" width="2.30" height="252" fill="url(#ha93)"/>
<rect x="241" y="75" width="2.30" height="252" fill="url(#ha94)"/>
<rect x="243" y="75" width="2.30" height="252" fill="url(#ha95)"/>
<rect x="245" y="75" width="2.30" height="252" fill="url(#ha96)"/>
<rect x="247" y="75" width="2.30" height="252" fill="url(#ha97)"/>
<rect x="249" y="75" width="2.30" height="252" fill="url(#ha98)"/>
<rect x="251" y="75" width="2.30" height="252" fill="url(#ha99)"/>
<rect x="253" y="75" width="2.30" height="252" fill="url(#ha100)"/>
<rect x="255" y="75" width="2.30" height="252" fill="url(#ha101)"/>
<rect x="257" y="75" width="2.30" height="252" fill="url(#ha102)"/>
<rect x="259" y="75" width="2.30" height="252" fill="url(#ha103)"/>
<rect x="261" y="75" width="2.30" height="252" fill="url(#ha104)"/>
<rect x="263" y="75" width="2.30" height="252" fill="url(#ha105)"/>
<rect x="265" y="75" width="2.30" height="252" fill="url(#ha106)"/>
<rect x="267" y="75" width="2.30" height="252" fill="url(#ha107)"/>
<rect x="269" y="75" width="2.30" height="252" fill="url(#ha108)"/>
<rect x="271" y="75" width="2.30" height="252" fill="url(#ha109)"/>
<rect x="273" y="75" width="2.30" height="252" fill="url(#ha110)"/>
<rect x="275" y="75" width="2.30" height="252" fill="url(#ha111)"/>
<rect x="277" y="75" width="2.30" height="252" fill="url(#ha112)"/>
<rect x="279" y="75" width="2.30" height="252" fill="url(#ha113)"/>
<rect x="281" y="75" width="2.30" height="252" fill="url(#ha114)"/>
<rect x="283" y="75" width="2.30" height="252" fill="url(#ha115)"/>
<rect x="285" y="75" width="2.30" height="252" fill="url(#ha116)"/>
<rect x="287" y="75" width="2.30" height="252" fill="url(#ha117)"/>
<rect x="289" y="75" width="2.30" height="252" fill="url(#ha118)"/>
<rect x="291" y="75" width="2.30" height="252" fill="url(#ha119)"/>
<rect x="293" y="75" width="2.30" height="252" fill="url(#ha120)"/>
<rect x="295" y="75" width="2.30" height="252" fill="url(#ha121)"/>
<rect x="297" y="75" width="2.30" height="252" fill="url(#ha122)"/>
<rect x="299" y="75" width="2.30" height="252" fill="url(#ha123)"/>
<rect x="301" y="75" width="2.30" height="252" fill="url(#ha124)"/>
<rect x="303" y="75" width="2.30" height="252" fill="url(#ha125)"/>
<rect x="305" y="75" width="2.30" height="252" fill="url(#ha126)"/>
<rect x="307" y="75" width="2.30" height="252" fill="url(#ha127)"/>
<rect x="309" y="75" width="2.30" height="252" fill="url(#ha128)"/>
<rect x="311" y="75" width="2.30" height="252" fill="url(#ha129)"/>
<rect x="313" y="75" width="2.30" height="252" fill="url(#ha130)"/>
<rect x="315" y="75" width="2.30" height="252" fill="url(#ha131)"/>
<rect x="317" y="75" width="2.30" height="252" fill="url(#ha132)"/>
<rect x="319" y="75" width="2.30" height="252" fill="url(#ha133)"/>
<rect x="321" y="75" width="2.30" height="252" fill="url(#ha134)"/>
<rect x="323" y="75" width="2.30" height="252" fill="url(#ha135)"/>
<rect x="325" y="75" width="2.30" height="252" fill="url(#ha136)"/>
<rect x="327" y="75" width="2.30" height="252" fill="url(#ha137)"/>
<rect x="329" y="75" width="2.30" height="252" fill="url(#ha138)"/>
<rect x="74" y="75" width="23" height="252" fill="url(#redA)"/>
<rect x="74" y="75" width="23" height="252" fill="url(#redA2)" mask="url(#maskR)"/>
<line x1="80.5" y1="76.4" x2="80.5" y2="327" stroke="#fff" stroke-width="1.35" stroke-dasharray="5.4 3.98"/>
<line x1="87.4" y1="76.4" x2="87.4" y2="327" stroke="#fff" stroke-width="1.35" stroke-dasharray="5.4 3.98"/>
<line x1="127.1" y1="76.4" x2="127.1" y2="327" stroke="#fff" stroke-width="1.35" stroke-dasharray="5.4 3.98"/>
<line x1="318.0" y1="76.4" x2="318.0" y2="327" stroke="#fff" stroke-width="1.35" stroke-dasharray="5.4 3.98"/>
<rect x="53" y="463" width="278" height="252" fill="#0000ff"/>
<defs><linearGradient id="bg0" x1="0" y1="0" x2="0" y2="1"><stop offset="0.000" stop-color="#0000ff"/><stop offset="0.147" stop-color="#0000ff"/><stop offset="0.306" stop-color="#0000ff"/><stop offset="0.465" stop-color="#0202ff"/><stop offset="0.624" stop-color="#0808ff"/><stop offset="0.783" stop-color="#0f0fff"/><stop offset="1.000" stop-color="#1919ff"/></linearGradient><linearGradient id="bg1" x1="0" y1="0" x2="0" y2="1"><stop offset="0.000" stop-color="#0000ff"/><stop offset="0.147" stop-color="#0000ff"/><stop offset="0.306" stop-color="#0000ff"/><stop offset="0.465" stop-color="#0808ff"/><stop offset="0.624" stop-color="#1616ff"/><stop offset="0.783" stop-color="#2d2dff"/><stop offset="1.000" stop-color="#4b4bff"/></linearGradient><linearGradient id="bg2" x1="0" y1="0" x2="0" y2="1"><stop offset="0.000" stop-color="#0000ff"/><stop offset="0.147" stop-color="#0000ff"/><stop offset="0.306" stop-color="#0303ff"/><stop offset="0.465" stop-color="#1414ff"/><stop offset="0.624" stop-color="#2b2bff"/><stop offset="0.783" stop-color="#5050ff"/><stop offset="1.000" stop-color="#8585ff"/></linearGradient><linearGradient id="bg3" x1="0" y1="0" x2="0" y2="1"><stop offset="0.000" stop-color="#0000ff"/><stop offset="0.147" stop-color="#0000ff"/><stop offset="0.306" stop-color="#0a0aff"/><stop offset="0.465" stop-color="#2828ff"/><stop offset="0.624" stop-color="#4646ff"/><stop offset="0.783" stop-color="#7878ff"/><stop offset="1.000" stop-color="#c8c8ff"/></linearGradient><linearGradient id="bg4" x1="0" y1="0" x2="0" y2="1"><stop offset="0.000" stop-color="#0000ff"/><stop offset="0.147" stop-color="#0000ff"/><stop offset="0.306" stop-color="#0303ff"/><stop offset="0.465" stop-color="#1414ff"/><stop offset="0.624" stop-color="#2b2bff"/><stop offset="0.783" stop-color="#5050ff"/><stop offset="1.000" stop-color="#8c8cff"/></linearGradient><linearGradient id="bg5" x1="0" y1="0" x2="0" y2="1"><stop offset="0.000" stop-color="#0000ff"/><stop offset="0.147" stop-color="#0000ff"/><stop offset="0.306" stop-color="#0000ff"/><stop offset="0.465" stop-color="#0808ff"/><stop offset="0.624" stop-color="#1818ff"/><stop offset="0.783" stop-color="#3333ff"/><stop offset="1.000" stop-color="#5e5eff"/></linearGradient><linearGradient id="bg6" x1="0" y1="0" x2="0" y2="1"><stop offset="0.000" stop-color="#0000ff"/><stop offset="0.147" stop-color="#0000ff"/><stop offset="0.306" stop-color="#0000ff"/><stop offset="0.465" stop-color="#0202ff"/><stop offset="0.624" stop-color="#0b0bff"/><stop offset="0.783" stop-color="#2222ff"/><stop offset="1.000" stop-color="#3d3dff"/></linearGradient><linearGradient id="bg7" x1="0" y1="0" x2="0" y2="1"><stop offset="0.000" stop-color="#0000ff"/><stop offset="0.147" stop-color="#0000ff"/><stop offset="0.306" stop-color="#0000ff"/><stop offset="0.465" stop-color="#0202ff"/><stop offset="0.624" stop-color="#0b0bff"/><stop offset="0.783" stop-color="#2222ff"/><stop offset="1.000" stop-color="#3b3bff"/></linearGradient><linearGradient id="bg8" x1="0" y1="0" x2="0" y2="1"><stop offset="0.000" stop-color="#0000ff"/><stop offset="0.147" stop-color="#0000ff"/><stop offset="0.306" stop-color="#0000ff"/><stop offset="0.465" stop-color="#0808ff"/><stop offset="0.624" stop-color="#1818ff"/><stop offset="0.783" stop-color="#3333ff"/><stop offset="1.000" stop-color="#5656ff"/></linearGradient><linearGradient id="bg9" x1="0" y1="0" x2="0" y2="1"><stop offset="0.000" stop-color="#0000ff"/><stop offset="0.147" stop-color="#0000ff"/><stop offset="0.306" stop-color="#0303ff"/><stop offset="0.465" stop-color="#1414ff"/><stop offset="0.624" stop-color="#2b2bff"/><stop offset="0.783" stop-color="#5050ff"/><stop offset="1.000" stop-color="#8585ff"/></linearGradient><linearGradient id="bg10" x1="0" y1="0" x2="0" y2="1"><stop offset="0.000" stop-color="#0000ff"/><stop offset="0.147" stop-color="#0000ff"/><stop offset="0.306" stop-color="#0a0aff"/><stop offset="0.465" stop-color="#2828ff"/><stop offset="0.624" stop-color="#4646ff"/><stop offset="0.783" stop-color="#7878ff"/><stop offset="1.000" stop-color="#c8c8ff"/></linearGradient><linearGradient id="bg11" x1="0" y1="0" x2="0" y2="1"><stop offset="0.000" stop-color="#0000ff"/><stop offset="0.147" stop-color="#0000ff"/><stop offset="0.306" stop-color="#0303ff"/><stop offset="0.465" stop-color="#1414ff"/><stop offset="0.624" stop-color="#2b2bff"/><stop offset="0.783" stop-color="#5050ff"/><stop offset="1.000" stop-color="#8c8cff"/></linearGradient><linearGradient id="bg12" x1="0" y1="0" x2="0" y2="1"><stop offset="0.000" stop-color="#0000ff"/><stop offset="0.147" stop-color="#0000ff"/><stop offset="0.306" stop-color="#0000ff"/><stop offset="0.465" stop-color="#0808ff"/><stop offset="0.624" stop-color="#1616ff"/><stop offset="0.783" stop-color="#2d2dff"/><stop offset="1.000" stop-color="#5252ff"/></linearGradient><linearGradient id="bg13" x1="0" y1="0" x2="0" y2="1"><stop offset="0.000" stop-color="#0000ff"/><stop offset="0.147" stop-color="#0000ff"/><stop offset="0.306" stop-color="#0000ff"/><stop offset="0.465" stop-color="#0202ff"/><stop offset="0.624" stop-color="#0808ff"/><stop offset="0.783" stop-color="#0f0fff"/><stop offset="1.000" stop-color="#1c1cff"/></linearGradient></defs><rect x="75.50" y="463.00" width="1.25" height="251.50" fill="url(#bg0)"/><rect x="76.50" y="463.00" width="1.25" height="251.50" fill="url(#bg1)"/><rect x="77.50" y="463.00" width="1.25" height="251.50" fill="url(#bg2)"/><rect x="78.50" y="463.00" width="1.25" height="251.50" fill="url(#bg3)"/><rect x="79.50" y="463.00" width="1.25" height="251.50" fill="url(#bg4)"/><rect x="80.50" y="463.00" width="1.25" height="251.50" fill="url(#bg5)"/><rect x="81.50" y="463.00" width="1.25" height="251.50" fill="url(#bg6)"/><rect x="82.50" y="463.00" width="1.25" height="251.50" fill="url(#bg7)"/><rect x="83.50" y="463.00" width="1.25" height="251.50" fill="url(#bg8)"/><rect x="84.50" y="463.00" width="1.25" height="251.50" fill="url(#bg9)"/><rect x="85.50" y="463.00" width="1.25" height="251.50" fill="url(#bg10)"/><rect x="86.50" y="463.00" width="1.25" height="251.50" fill="url(#bg11)"/><rect x="87.50" y="463.00" width="1.25" height="251.50" fill="url(#bg12)"/><rect x="88.50" y="463.00" width="1.25" height="251.50" fill="url(#bg13)"/>
<defs><linearGradient id="b30" x1="0" y1="0" x2="0" y2="1"><stop offset="0.000" stop-color="#3838ff"/><stop offset="0.147" stop-color="#3939ff"/><stop offset="0.306" stop-color="#3636ff"/><stop offset="0.465" stop-color="#2d2dff"/><stop offset="0.624" stop-color="#2323ff"/><stop offset="0.783" stop-color="#1919ff"/><stop offset="1.000" stop-color="#0a0aff"/></linearGradient><linearGradient id="b31" x1="0" y1="0" x2="0" y2="1"><stop offset="0.000" stop-color="#a9a9ff"/><stop offset="0.147" stop-color="#ababff"/><stop offset="0.306" stop-color="#a1a1ff"/><stop offset="0.465" stop-color="#8787ff"/><stop offset="0.624" stop-color="#6969ff"/><stop offset="0.783" stop-color="#4b4bff"/><stop offset="1.000" stop-color="#1e1eff"/></linearGradient><linearGradient id="b32" x1="0" y1="0" x2="0" y2="1"><stop offset="0.000" stop-color="#e6e4fe"/><stop offset="0.147" stop-color="#e7e7ff"/><stop offset="0.306" stop-color="#dbdbff"/><stop offset="0.465" stop-color="#b7b7ff"/><stop offset="0.624" stop-color="#8e8eff"/><stop offset="0.783" stop-color="#6666ff"/><stop offset="1.000" stop-color="#2c2cff"/></linearGradient><linearGradient id="b33" x1="0" y1="0" x2="0" y2="1"><stop offset="0.000" stop-color="#efebfb"/><stop offset="0.147" stop-color="#ededff"/><stop offset="0.306" stop-color="#e2e2ff"/><stop offset="0.465" stop-color="#bdbdff"/><stop offset="0.624" stop-color="#9191ff"/><stop offset="0.783" stop-color="#6969ff"/><stop offset="1.000" stop-color="#3333ff"/></linearGradient><linearGradient id="b34" x1="0" y1="0" x2="0" y2="1"><stop offset="0.000" stop-color="#f9f2f9"/><stop offset="0.147" stop-color="#f2f2ff"/><stop offset="0.306" stop-color="#eaeaff"/><stop offset="0.465" stop-color="#c2c2ff"/><stop offset="0.624" stop-color="#9595ff"/><stop offset="0.783" stop-color="#6d6dff"/><stop offset="1.000" stop-color="#3a3aff"/></linearGradient><linearGradient id="b35" x1="0" y1="0" x2="0" y2="1"><stop offset="0.000" stop-color="#fdf3f6"/><stop offset="0.147" stop-color="#f6f4fe"/><stop offset="0.306" stop-color="#eeedff"/><stop offset="0.465" stop-color="#c9c9ff"/><stop offset="0.624" stop-color="#9b9bff"/><stop offset="0.783" stop-color="#7373ff"/><stop offset="1.000" stop-color="#3f3fff"/></linearGradient><linearGradient id="b36" x1="0" y1="0" x2="0" y2="1"><stop offset="0.000" stop-color="#fef2f4"/><stop offset="0.147" stop-color="#f8f5fc"/><stop offset="0.306" stop-color="#f0efff"/><stop offset="0.465" stop-color="#d1d1ff"/><stop offset="0.624" stop-color="#a3a3ff"/><stop offset="0.783" stop-color="#7b7bff"/><stop offset="1.000" stop-color="#4444ff"/></linearGradient><linearGradient id="b37" x1="0" y1="0" x2="0" y2="1"><stop offset="0.000" stop-color="#fff1f1"/><stop offset="0.147" stop-color="#fbf6fb"/><stop offset="0.306" stop-color="#f3f1ff"/><stop offset="0.465" stop-color="#d8d8ff"/><stop offset="0.624" stop-color="#ababff"/><stop offset="0.783" stop-color="#8383ff"/><stop offset="1.000" stop-color="#4949ff"/></linearGradient><linearGradient id="b38" x1="0" y1="0" x2="0" y2="1"><stop offset="0.000" stop-color="#ffdcdc"/><stop offset="0.147" stop-color="#fce4e7"/><stop offset="0.306" stop-color="#f6e8f3"/><stop offset="0.465" stop-color="#e1dcfa"/><stop offset="0.624" stop-color="#b8b8ff"/><stop offset="0.783" stop-color="#8c8cff"/><stop offset="1.000" stop-color="#4f4fff"/></linearGradient><linearGradient id="b39" x1="0" y1="0" x2="0" y2="1"><stop offset="0.000" stop-color="#ffb3b3"/><stop offset="0.147" stop-color="#fdbfc1"/><stop offset="0.306" stop-color="#f9d5dc"/><stop offset="0.465" stop-color="#ecddf0"/><stop offset="0.624" stop-color="#cacaff"/><stop offset="0.783" stop-color="#9696ff"/><stop offset="1.000" stop-color="#5656ff"/></linearGradient><linearGradient id="b310" x1="0" y1="0" x2="0" y2="1"><stop offset="0.000" stop-color="#ff8a8a"/><stop offset="0.147" stop-color="#fe9a9b"/><stop offset="0.306" stop-color="#fdc2c4"/><stop offset="0.465" stop-color="#f7dee5"/><stop offset="0.624" stop-color="#dcdcff"/><stop offset="0.783" stop-color="#a1a1ff"/><stop offset="1.000" stop-color="#5d5dff"/></linearGradient><linearGradient id="b311" x1="0" y1="0" x2="0" y2="1"><stop offset="0.000" stop-color="#ff7373"/><stop offset="0.147" stop-color="#ff8787"/><stop offset="0.306" stop-color="#ffb7b7"/><stop offset="0.465" stop-color="#ffdfdf"/><stop offset="0.624" stop-color="#e7e7ff"/><stop offset="0.783" stop-color="#a6a6ff"/><stop offset="1.000" stop-color="#6161ff"/></linearGradient><linearGradient id="b312" x1="0" y1="0" x2="0" y2="1"><stop offset="0.000" stop-color="#ff8383"/><stop offset="0.147" stop-color="#ff9e9e"/><stop offset="0.306" stop-color="#ffc2c2"/><stop offset="0.465" stop-color="#ffe3e3"/><stop offset="0.624" stop-color="#e2e2ff"/><stop offset="0.783" stop-color="#a0a0ff"/><stop offset="1.000" stop-color="#5d5dff"/></linearGradient><linearGradient id="b313" x1="0" y1="0" x2="0" y2="1"><stop offset="0.000" stop-color="#ff9393"/><stop offset="0.147" stop-color="#ffb5b5"/><stop offset="0.306" stop-color="#ffcdcd"/><stop offset="0.465" stop-color="#ffe6e6"/><stop offset="0.624" stop-color="#dedeff"/><stop offset="0.783" stop-color="#9999ff"/><stop offset="1.000" stop-color="#5a5aff"/></linearGradient><linearGradient id="b314" x1="0" y1="0" x2="0" y2="1"><stop offset="0.000" stop-color="#ff9f9f"/><stop offset="0.147" stop-color="#ffbfbf"/><stop offset="0.306" stop-color="#ffd4d4"/><stop offset="0.465" stop-color="#fde9ec"/><stop offset="0.624" stop-color="#dbdbff"/><stop offset="0.783" stop-color="#9999ff"/><stop offset="1.000" stop-color="#5a5aff"/></linearGradient><linearGradient id="b315" x1="0" y1="0" x2="0" y2="1"><stop offset="0.000" stop-color="#ffa6a6"/><stop offset="0.147" stop-color="#ffbdbd"/><stop offset="0.306" stop-color="#ffd7d7"/><stop offset="0.465" stop-color="#f9ebf3"/><stop offset="0.624" stop-color="#d8d8ff"/><stop offset="0.783" stop-color="#a0a0ff"/><stop offset="1.000" stop-color="#5e5eff"/></linearGradient><linearGradient id="b316" x1="0" y1="0" x2="0" y2="1"><stop offset="0.000" stop-color="#ffadad"/><stop offset="0.147" stop-color="#ffbbbb"/><stop offset="0.306" stop-color="#ffdada"/><stop offset="0.465" stop-color="#f5edfa"/><stop offset="0.624" stop-color="#d6d6ff"/><stop offset="0.783" stop-color="#a7a7ff"/><stop offset="1.000" stop-color="#6161ff"/></linearGradient><linearGradient id="b317" x1="0" y1="0" x2="0" y2="1"><stop offset="0.000" stop-color="#ffacac"/><stop offset="0.147" stop-color="#ffb5b5"/><stop offset="0.306" stop-color="#ffd9d9"/><stop offset="0.465" stop-color="#f3edfc"/><stop offset="0.624" stop-color="#d5d5ff"/><stop offset="0.783" stop-color="#adadff"/><stop offset="1.000" stop-color="#6363ff"/></linearGradient><linearGradient id="b318" x1="0" y1="0" x2="0" y2="1"><stop offset="0.000" stop-color="#ff9999"/><stop offset="0.147" stop-color="#ffa6a6"/><stop offset="0.306" stop-color="#ffd0d0"/><stop offset="0.465" stop-color="#f8e9f2"/><stop offset="0.624" stop-color="#d8d8ff"/><stop offset="0.783" stop-color="#b0b0ff"/><stop offset="1.000" stop-color="#6161ff"/></linearGradient><linearGradient id="b319" x1="0" y1="0" x2="0" y2="1"><stop offset="0.000" stop-color="#ff8686"/><stop offset="0.147" stop-color="#ff9797"/><stop offset="0.306" stop-color="#ffc7c7"/><stop offset="0.465" stop-color="#fce5e9"/><stop offset="0.624" stop-color="#dcdcff"/><stop offset="0.783" stop-color="#b4b4ff"/><stop offset="1.000" stop-color="#5e5eff"/></linearGradient><linearGradient id="b320" x1="0" y1="0" x2="0" y2="1"><stop offset="0.000" stop-color="#ff7b7b"/><stop offset="0.147" stop-color="#ff8f8f"/><stop offset="0.306" stop-color="#ffc2c2"/><stop offset="0.465" stop-color="#fee3e5"/><stop offset="0.624" stop-color="#dcdcff"/><stop offset="0.783" stop-color="#b3b3ff"/><stop offset="1.000" stop-color="#5a5aff"/></linearGradient><linearGradient id="b321" x1="0" y1="0" x2="0" y2="1"><stop offset="0.000" stop-color="#ff8484"/><stop offset="0.147" stop-color="#ff9b9b"/><stop offset="0.306" stop-color="#ffc9c9"/><stop offset="0.465" stop-color="#f9e7ef"/><stop offset="0.624" stop-color="#d4d4ff"/><stop offset="0.783" stop-color="#a7a7ff"/><stop offset="1.000" stop-color="#5353ff"/></linearGradient><linearGradient id="b322" x1="0" y1="0" x2="0" y2="1"><stop offset="0.000" stop-color="#ff8d8d"/><stop offset="0.147" stop-color="#ffa6a6"/><stop offset="0.306" stop-color="#ffd0d0"/><stop offset="0.465" stop-color="#f4eafa"/><stop offset="0.624" stop-color="#ccccff"/><stop offset="0.783" stop-color="#9c9cff"/><stop offset="1.000" stop-color="#4c4cff"/></linearGradient><linearGradient id="b323" x1="0" y1="0" x2="0" y2="1"><stop offset="0.000" stop-color="#f4a2b0"/><stop offset="0.147" stop-color="#f1b5c3"/><stop offset="0.306" stop-color="#eecee0"/><stop offset="0.465" stop-color="#dedaff"/><stop offset="0.624" stop-color="#b5b5ff"/><stop offset="0.783" stop-color="#8888ff"/><stop offset="1.000" stop-color="#3f3fff"/></linearGradient><linearGradient id="b324" x1="0" y1="0" x2="0" y2="1"><stop offset="0.000" stop-color="#dec3ed"/><stop offset="0.147" stop-color="#d5c7f1"/><stop offset="0.306" stop-color="#cbc3f8"/><stop offset="0.465" stop-color="#b6b5ff"/><stop offset="0.624" stop-color="#8e8eff"/><stop offset="0.783" stop-color="#6c6cff"/><stop offset="1.000" stop-color="#2d2dff"/></linearGradient><linearGradient id="b325" x1="0" y1="0" x2="0" y2="1"><stop offset="0.000" stop-color="#8c85ff"/><stop offset="0.147" stop-color="#8585ff"/><stop offset="0.306" stop-color="#7d7dff"/><stop offset="0.465" stop-color="#6f6fff"/><stop offset="0.624" stop-color="#5555ff"/><stop offset="0.783" stop-color="#4141ff"/><stop offset="1.000" stop-color="#1a1aff"/></linearGradient><linearGradient id="b326" x1="0" y1="0" x2="0" y2="1"><stop offset="0.000" stop-color="#2b29ff"/><stop offset="0.147" stop-color="#2929ff"/><stop offset="0.306" stop-color="#2626ff"/><stop offset="0.465" stop-color="#2222ff"/><stop offset="0.624" stop-color="#1a1aff"/><stop offset="0.783" stop-color="#1414ff"/><stop offset="1.000" stop-color="#0808ff"/></linearGradient></defs><rect x="108.60" y="463.00" width="0.75" height="251.50" fill="url(#b30)"/><rect x="109.10" y="463.00" width="0.75" height="251.50" fill="url(#b31)"/><rect x="109.60" y="463.00" width="0.75" height="251.50" fill="url(#b32)"/><rect x="110.10" y="463.00" width="0.75" height="251.50" fill="url(#b33)"/><rect x="110.60" y="463.00" width="0.75" height="251.50" fill="url(#b34)"/><rect x="111.10" y="463.00" width="0.75" height="251.50" fill="url(#b35)"/><rect x="111.60" y="463.00" width="0.75" height="251.50" fill="url(#b36)"/><rect x="112.10" y="463.00" width="0.75" height="251.50" fill="url(#b37)"/><rect x="112.60" y="463.00" width="0.75" height="251.50" fill="url(#b38)"/><rect x="113.10" y="463.00" width="0.75" height="251.50" fill="url(#b39)"/><rect x="113.60" y="463.00" width="0.75" height="251.50" fill="url(#b310)"/><rect x="114.10" y="463.00" width="0.75" height="251.50" fill="url(#b311)"/><rect x="114.60" y="463.00" width="0.75" height="251.50" fill="url(#b312)"/><rect x="115.10" y="463.00" width="0.75" height="251.50" fill="url(#b313)"/><rect x="115.60" y="463.00" width="0.75" height="251.50" fill="url(#b314)"/><rect x="116.10" y="463.00" width="0.75" height="251.50" fill="url(#b315)"/><rect x="116.60" y="463.00" width="0.75" height="251.50" fill="url(#b316)"/><rect x="117.10" y="463.00" width="0.75" height="251.50" fill="url(#b317)"/><rect x="117.60" y="463.00" width="0.75" height="251.50" fill="url(#b318)"/><rect x="118.10" y="463.00" width="0.75" height="251.50" fill="url(#b319)"/><rect x="118.60" y="463.00" width="0.75" height="251.50" fill="url(#b320)"/><rect x="119.10" y="463.00" width="0.75" height="251.50" fill="url(#b321)"/><rect x="119.60" y="463.00" width="0.75" height="251.50" fill="url(#b322)"/><rect x="120.10" y="463.00" width="0.75" height="251.50" fill="url(#b323)"/><rect x="120.60" y="463.00" width="0.75" height="251.50" fill="url(#b324)"/><rect x="121.10" y="463.00" width="0.75" height="251.50" fill="url(#b325)"/><rect x="121.60" y="463.00" width="0.65" height="251.50" fill="url(#b326)"/>
<defs><linearGradient id="bd0" x1="0" y1="0" x2="0" y2="1"><stop offset="0.000" stop-color="#3636ff"/><stop offset="0.147" stop-color="#3838ff"/><stop offset="0.306" stop-color="#3a3aff"/><stop offset="0.465" stop-color="#3a3aff"/><stop offset="0.624" stop-color="#3232ff"/><stop offset="0.783" stop-color="#2d2dff"/><stop offset="1.000" stop-color="#2121ff"/></linearGradient><linearGradient id="bd1" x1="0" y1="0" x2="0" y2="1"><stop offset="0.000" stop-color="#a1a1ff"/><stop offset="0.147" stop-color="#a9a9ff"/><stop offset="0.306" stop-color="#adadff"/><stop offset="0.465" stop-color="#adadff"/><stop offset="0.624" stop-color="#9696ff"/><stop offset="0.783" stop-color="#8787ff"/><stop offset="1.000" stop-color="#6262ff"/></linearGradient><linearGradient id="bd2" x1="0" y1="0" x2="0" y2="1"><stop offset="0.000" stop-color="#e1dcfa"/><stop offset="0.147" stop-color="#e9e5fb"/><stop offset="0.306" stop-color="#ebeaff"/><stop offset="0.465" stop-color="#ebebff"/><stop offset="0.624" stop-color="#d5d5ff"/><stop offset="0.783" stop-color="#c6c6ff"/><stop offset="1.000" stop-color="#9494ff"/></linearGradient><linearGradient id="bd3" x1="0" y1="0" x2="0" y2="1"><stop offset="0.000" stop-color="#f5e7f1"/><stop offset="0.147" stop-color="#f8ecf4"/><stop offset="0.306" stop-color="#f4f1ff"/><stop offset="0.465" stop-color="#f5f5ff"/><stop offset="0.624" stop-color="#efefff"/><stop offset="0.783" stop-color="#e9e9ff"/><stop offset="1.000" stop-color="#b7b7ff"/></linearGradient><linearGradient id="bd4" x1="0" y1="0" x2="0" y2="1"><stop offset="0.000" stop-color="#ffc8c8"/><stop offset="0.147" stop-color="#ffcbcb"/><stop offset="0.306" stop-color="#fad0d9"/><stop offset="0.465" stop-color="#fbdee1"/><stop offset="0.624" stop-color="#fdf6f8"/><stop offset="0.783" stop-color="#faf9fe"/><stop offset="1.000" stop-color="#c1c1ff"/></linearGradient><linearGradient id="bd5" x1="0" y1="0" x2="0" y2="1"><stop offset="0.000" stop-color="#ff7f7f"/><stop offset="0.147" stop-color="#ff8080"/><stop offset="0.306" stop-color="#fd888c"/><stop offset="0.465" stop-color="#fda5a6"/><stop offset="0.624" stop-color="#feeaeb"/><stop offset="0.783" stop-color="#faf7fc"/><stop offset="1.000" stop-color="#b4b4ff"/></linearGradient><linearGradient id="bd6" x1="0" y1="0" x2="0" y2="1"><stop offset="0.000" stop-color="#ff4d4d"/><stop offset="0.147" stop-color="#ff4d4d"/><stop offset="0.306" stop-color="#ff5757"/><stop offset="0.465" stop-color="#ff7e7e"/><stop offset="0.624" stop-color="#ffe2e3"/><stop offset="0.783" stop-color="#faf5fa"/><stop offset="1.000" stop-color="#a8a8ff"/></linearGradient><linearGradient id="bd7" x1="0" y1="0" x2="0" y2="1"><stop offset="0.000" stop-color="#ff6c6c"/><stop offset="0.147" stop-color="#ff6e6e"/><stop offset="0.306" stop-color="#ff7878"/><stop offset="0.465" stop-color="#ff9a9a"/><stop offset="0.624" stop-color="#fde7ec"/><stop offset="0.783" stop-color="#f8f5fc"/><stop offset="1.000" stop-color="#a1a1ff"/></linearGradient><linearGradient id="bd8" x1="0" y1="0" x2="0" y2="1"><stop offset="0.000" stop-color="#ff8c8c"/><stop offset="0.147" stop-color="#ff9090"/><stop offset="0.306" stop-color="#ff9a9a"/><stop offset="0.465" stop-color="#ffb6b6"/><stop offset="0.624" stop-color="#fbedf4"/><stop offset="0.783" stop-color="#f6f5fe"/><stop offset="1.000" stop-color="#9a9aff"/></linearGradient><linearGradient id="bd9" x1="0" y1="0" x2="0" y2="1"><stop offset="0.000" stop-color="#ff9696"/><stop offset="0.147" stop-color="#ff9c9c"/><stop offset="0.306" stop-color="#ffaaaa"/><stop offset="0.465" stop-color="#ffc6c6"/><stop offset="0.624" stop-color="#f9effa"/><stop offset="0.783" stop-color="#f3f3ff"/><stop offset="1.000" stop-color="#9090ff"/></linearGradient><linearGradient id="bd10" x1="0" y1="0" x2="0" y2="1"><stop offset="0.000" stop-color="#ff7878"/><stop offset="0.147" stop-color="#ff8181"/><stop offset="0.306" stop-color="#ff9b9b"/><stop offset="0.465" stop-color="#ffc0c0"/><stop offset="0.624" stop-color="#f6ecfa"/><stop offset="0.783" stop-color="#ededff"/><stop offset="1.000" stop-color="#7e7eff"/></linearGradient><linearGradient id="bd11" x1="0" y1="0" x2="0" y2="1"><stop offset="0.000" stop-color="#fc868b"/><stop offset="0.147" stop-color="#f98f96"/><stop offset="0.306" stop-color="#f7a6ae"/><stop offset="0.465" stop-color="#f4c1cd"/><stop offset="0.624" stop-color="#ebe3fb"/><stop offset="0.783" stop-color="#dcdcff"/><stop offset="1.000" stop-color="#6f6fff"/></linearGradient><linearGradient id="bd12" x1="0" y1="0" x2="0" y2="1"><stop offset="0.000" stop-color="#f6aab9"/><stop offset="0.147" stop-color="#f1b2c6"/><stop offset="0.306" stop-color="#ebbed2"/><stop offset="0.465" stop-color="#e2c7e3"/><stop offset="0.624" stop-color="#dbd7fd"/><stop offset="0.783" stop-color="#c6c6ff"/><stop offset="1.000" stop-color="#6161ff"/></linearGradient><linearGradient id="bd13" x1="0" y1="0" x2="0" y2="1"><stop offset="0.000" stop-color="#f1cfe6"/><stop offset="0.147" stop-color="#e8d5f5"/><stop offset="0.306" stop-color="#dfd7f7"/><stop offset="0.465" stop-color="#d1ccfa"/><stop offset="0.624" stop-color="#cbcbff"/><stop offset="0.783" stop-color="#afafff"/><stop offset="1.000" stop-color="#5353ff"/></linearGradient><linearGradient id="bd14" x1="0" y1="0" x2="0" y2="1"><stop offset="0.000" stop-color="#e3d1f4"/><stop offset="0.147" stop-color="#d9d2ff"/><stop offset="0.306" stop-color="#cdcdff"/><stop offset="0.465" stop-color="#bdbdff"/><stop offset="0.624" stop-color="#b4b4ff"/><stop offset="0.783" stop-color="#9696ff"/><stop offset="1.000" stop-color="#4343ff"/></linearGradient><linearGradient id="bd15" x1="0" y1="0" x2="0" y2="1"><stop offset="0.000" stop-color="#d4c9f9"/><stop offset="0.147" stop-color="#cac5ff"/><stop offset="0.306" stop-color="#babaff"/><stop offset="0.465" stop-color="#a8a8ff"/><stop offset="0.624" stop-color="#9b9bff"/><stop offset="0.783" stop-color="#7d7dff"/><stop offset="1.000" stop-color="#3434ff"/></linearGradient><linearGradient id="bd16" x1="0" y1="0" x2="0" y2="1"><stop offset="0.000" stop-color="#c4c1fd"/><stop offset="0.147" stop-color="#bab9ff"/><stop offset="0.306" stop-color="#a7a7ff"/><stop offset="0.465" stop-color="#9393ff"/><stop offset="0.624" stop-color="#8181ff"/><stop offset="0.783" stop-color="#6363ff"/><stop offset="1.000" stop-color="#2424ff"/></linearGradient><linearGradient id="bd17" x1="0" y1="0" x2="0" y2="1"><stop offset="0.000" stop-color="#9797ff"/><stop offset="0.147" stop-color="#8f8fff"/><stop offset="0.306" stop-color="#7f7fff"/><stop offset="0.465" stop-color="#6f6fff"/><stop offset="0.624" stop-color="#5f5fff"/><stop offset="0.783" stop-color="#4848ff"/><stop offset="1.000" stop-color="#1818ff"/></linearGradient><linearGradient id="bd18" x1="0" y1="0" x2="0" y2="1"><stop offset="0.000" stop-color="#5b5bff"/><stop offset="0.147" stop-color="#5656ff"/><stop offset="0.306" stop-color="#4c4cff"/><stop offset="0.465" stop-color="#4343ff"/><stop offset="0.624" stop-color="#3939ff"/><stop offset="0.783" stop-color="#2b2bff"/><stop offset="1.000" stop-color="#0e0eff"/></linearGradient><linearGradient id="bd19" x1="0" y1="0" x2="0" y2="1"><stop offset="0.000" stop-color="#1e1eff"/><stop offset="0.147" stop-color="#1d1dff"/><stop offset="0.306" stop-color="#1919ff"/><stop offset="0.465" stop-color="#1616ff"/><stop offset="0.624" stop-color="#1313ff"/><stop offset="0.783" stop-color="#0e0eff"/><stop offset="1.000" stop-color="#0505ff"/></linearGradient></defs><rect x="313.60" y="463.00" width="0.60" height="251.50" fill="url(#bd0)"/><rect x="313.95" y="463.00" width="0.60" height="251.50" fill="url(#bd1)"/><rect x="314.30" y="463.00" width="0.60" height="251.50" fill="url(#bd2)"/><rect x="314.65" y="463.00" width="0.60" height="251.50" fill="url(#bd3)"/><rect x="315.00" y="463.00" width="0.60" height="251.50" fill="url(#bd4)"/><rect x="315.35" y="463.00" width="0.60" height="251.50" fill="url(#bd5)"/><rect x="315.70" y="463.00" width="0.60" height="251.50" fill="url(#bd6)"/><rect x="316.05" y="463.00" width="0.60" height="251.50" fill="url(#bd7)"/><rect x="316.40" y="463.00" width="0.60" height="251.50" fill="url(#bd8)"/><rect x="316.75" y="463.00" width="0.60" height="251.50" fill="url(#bd9)"/><rect x="317.10" y="463.00" width="0.60" height="251.50" fill="url(#bd10)"/><rect x="317.45" y="463.00" width="0.60" height="251.50" fill="url(#bd11)"/><rect x="317.80" y="463.00" width="0.60" height="251.50" fill="url(#bd12)"/><rect x="318.15" y="463.00" width="0.60" height="251.50" fill="url(#bd13)"/><rect x="318.50" y="463.00" width="0.60" height="251.50" fill="url(#bd14)"/><rect x="318.85" y="463.00" width="0.60" height="251.50" fill="url(#bd15)"/><rect x="319.20" y="463.00" width="0.60" height="251.50" fill="url(#bd16)"/><rect x="319.55" y="463.00" width="0.60" height="251.50" fill="url(#bd17)"/><rect x="319.90" y="463.00" width="0.60" height="251.50" fill="url(#bd18)"/><rect x="320.25" y="463.00" width="0.60" height="251.50" fill="url(#bd19)"/>
<line x1="276.0" y1="463" x2="276.0" y2="715" stroke="#5a5aff" stroke-width="0.7"/>
<line x1="79.0" y1="464.4" x2="79.0" y2="715.0" stroke="#fff" stroke-width="1.35" stroke-dasharray="5.4 3.98"/>
<line x1="86.0" y1="464.4" x2="86.0" y2="715.0" stroke="#fff" stroke-width="1.35" stroke-dasharray="5.4 3.98"/>
<line x1="114.3" y1="464.4" x2="114.3" y2="715.0" stroke="#fff" stroke-width="1.35" stroke-dasharray="5.4 3.98"/>
<line x1="315.7" y1="464.4" x2="315.7" y2="715.0" stroke="#fff" stroke-width="1.35" stroke-dasharray="5.4 3.98"/>
<rect x="53" y="75.3" width="278" height="251.2" fill="none" stroke="#000" stroke-width="1.3" stroke-linejoin="round"/>
<line x1="53.0" y1="326.5" x2="53.0" y2="331.5" stroke="#000" stroke-width="1.2"/>
<line x1="87.8" y1="326.5" x2="87.8" y2="329.0" stroke="#000" stroke-width="1.2"/>
<line x1="122.5" y1="326.5" x2="122.5" y2="331.5" stroke="#000" stroke-width="1.2"/>
<line x1="157.2" y1="326.5" x2="157.2" y2="329.0" stroke="#000" stroke-width="1.2"/>
<line x1="192.0" y1="326.5" x2="192.0" y2="331.5" stroke="#000" stroke-width="1.2"/>
<line x1="226.8" y1="326.5" x2="226.8" y2="329.0" stroke="#000" stroke-width="1.2"/>
<line x1="261.5" y1="326.5" x2="261.5" y2="331.5" stroke="#000" stroke-width="1.2"/>
<line x1="296.2" y1="326.5" x2="296.2" y2="329.0" stroke="#000" stroke-width="1.2"/>
<line x1="331.0" y1="326.5" x2="331.0" y2="331.5" stroke="#000" stroke-width="1.2"/>
<text x="53.0" y="345.0" font-family="Liberation Serif" font-size="13.8" text-anchor="middle">3500</text>
<text x="122.5" y="345.0" font-family="Liberation Serif" font-size="13.8" text-anchor="middle">3000</text>
<text x="192.0" y="345.0" font-family="Liberation Serif" font-size="13.8" text-anchor="middle">2500</text>
<text x="261.5" y="345.0" font-family="Liberation Serif" font-size="13.8" text-anchor="middle">2000</text>
<text x="331.0" y="345.0" font-family="Liberation Serif" font-size="13.8" text-anchor="middle">1500</text>
<line x1="48.0" y1="103.0" x2="53" y2="103.0" stroke="#000" stroke-width="1.2"/>
<text x="44.5" y="107.6" font-family="Liberation Serif" font-size="13.8" text-anchor="end">500</text>
<line x1="50.3" y1="132.8" x2="53" y2="132.8" stroke="#000" stroke-width="1.2"/>
<line x1="48.0" y1="162.7" x2="53" y2="162.7" stroke="#000" stroke-width="1.2"/>
<text x="44.5" y="167.3" font-family="Liberation Serif" font-size="13.8" text-anchor="end">450</text>
<line x1="50.3" y1="192.6" x2="53" y2="192.6" stroke="#000" stroke-width="1.2"/>
<line x1="48.0" y1="222.4" x2="53" y2="222.4" stroke="#000" stroke-width="1.2"/>
<text x="44.5" y="227.0" font-family="Liberation Serif" font-size="13.8" text-anchor="end">400</text>
<line x1="50.3" y1="252.2" x2="53" y2="252.2" stroke="#000" stroke-width="1.2"/>
<line x1="48.0" y1="282.1" x2="53" y2="282.1" stroke="#000" stroke-width="1.2"/>
<text x="44.5" y="286.7" font-family="Liberation Serif" font-size="13.8" text-anchor="end">350</text>
<line x1="50.3" y1="311.9" x2="53" y2="311.9" stroke="#000" stroke-width="1.2"/>
<text transform="translate(11.8,210.0) rotate(-90)" font-family="Liberation Serif" font-size="15" font-weight="bold" text-anchor="middle"><tspan font-style="italic">T</tspan> (K)</text>
<text x="191.8" y="370.8" font-family="Liberation Serif" font-size="14.7" font-weight="bold" text-anchor="middle">Wavenumber (cm<tspan font-size="9.5" dy="-5.5">-1</tspan><tspan dy="5.5">)</tspan></text>
<path d="M53,68.7 L330.4,68.7" fill="none" stroke="#000" stroke-width="1.3" stroke-linecap="round"/>
<line x1="53.0" y1="68.7" x2="53.0" y2="73.6" stroke="#000" stroke-width="1.3" stroke-linecap="round"/>
<line x1="87.7" y1="68.7" x2="87.7" y2="71.1" stroke="#000" stroke-width="1.3" stroke-linecap="round"/>
<line x1="122.3" y1="68.7" x2="122.3" y2="73.6" stroke="#000" stroke-width="1.3" stroke-linecap="round"/>
<line x1="157.0" y1="68.7" x2="157.0" y2="71.1" stroke="#000" stroke-width="1.3" stroke-linecap="round"/>
<line x1="191.7" y1="68.7" x2="191.7" y2="73.6" stroke="#000" stroke-width="1.3" stroke-linecap="round"/>
<line x1="226.4" y1="68.7" x2="226.4" y2="71.1" stroke="#000" stroke-width="1.3" stroke-linecap="round"/>
<line x1="261.0" y1="68.7" x2="261.0" y2="73.6" stroke="#000" stroke-width="1.3" stroke-linecap="round"/>
<line x1="295.7" y1="68.7" x2="295.7" y2="71.1" stroke="#000" stroke-width="1.3" stroke-linecap="round"/>
<line x1="330.4" y1="68.7" x2="330.4" y2="73.6" stroke="#000" stroke-width="1.3" stroke-linecap="round"/>
<rect x="53" y="463.3" width="278" height="251.2" fill="none" stroke="#000" stroke-width="1.3" stroke-linejoin="round"/>
<line x1="53.0" y1="714.5" x2="53.0" y2="719.5" stroke="#000" stroke-width="1.2"/>
<line x1="87.8" y1="714.5" x2="87.8" y2="717.0" stroke="#000" stroke-width="1.2"/>
<line x1="122.5" y1="714.5" x2="122.5" y2="719.5" stroke="#000" stroke-width="1.2"/>
<line x1="157.2" y1="714.5" x2="157.2" y2="717.0" stroke="#000" stroke-width="1.2"/>
<line x1="192.0" y1="714.5" x2="192.0" y2="719.5" stroke="#000" stroke-width="1.2"/>
<line x1="226.8" y1="714.5" x2="226.8" y2="717.0" stroke="#000" stroke-width="1.2"/>
<line x1="261.5" y1="714.5" x2="261.5" y2="719.5" stroke="#000" stroke-width="1.2"/>
<line x1="296.2" y1="714.5" x2="296.2" y2="717.0" stroke="#000" stroke-width="1.2"/>
<line x1="331.0" y1="714.5" x2="331.0" y2="719.5" stroke="#000" stroke-width="1.2"/>
<text x="53.0" y="733.0" font-family="Liberation Serif" font-size="13.8" text-anchor="middle">3500</text>
<text x="122.5" y="733.0" font-family="Liberation Serif" font-size="13.8" text-anchor="middle">3000</text>
<text x="192.0" y="733.0" font-family="Liberation Serif" font-size="13.8" text-anchor="middle">2500</text>
<text x="261.5" y="733.0" font-family="Liberation Serif" font-size="13.8" text-anchor="middle">2000</text>
<text x="331.0" y="733.0" font-family="Liberation Serif" font-size="13.8" text-anchor="middle">1500</text>
<line x1="48.0" y1="491.0" x2="53" y2="491.0" stroke="#000" stroke-width="1.2"/>
<text x="44.5" y="495.6" font-family="Liberation Serif" font-size="13.8" text-anchor="end">500</text>
<line x1="50.3" y1="520.9" x2="53" y2="520.9" stroke="#000" stroke-width="1.2"/>
<line x1="48.0" y1="550.7" x2="53" y2="550.7" stroke="#000" stroke-width="1.2"/>
<text x="44.5" y="555.3" font-family="Liberation Serif" font-size="13.8" text-anchor="end">450</text>
<line x1="50.3" y1="580.5" x2="53" y2="580.5" stroke="#000" stroke-width="1.2"/>
<line x1="48.0" y1="610.4" x2="53" y2="610.4" stroke="#000" stroke-width="1.2"/>
<text x="44.5" y="615.0" font-family="Liberation Serif" font-size="13.8" text-anchor="end">400</text>
<line x1="50.3" y1="640.2" x2="53" y2="640.2" stroke="#000" stroke-width="1.2"/>
<line x1="48.0" y1="670.1" x2="53" y2="670.1" stroke="#000" stroke-width="1.2"/>
<text x="44.5" y="674.7" font-family="Liberation Serif" font-size="13.8" text-anchor="end">350</text>
<line x1="50.3" y1="700.0" x2="53" y2="700.0" stroke="#000" stroke-width="1.2"/>
<text transform="translate(11.8,598.0) rotate(-90)" font-family="Liberation Serif" font-size="15" font-weight="bold" text-anchor="middle"><tspan font-style="italic">T</tspan> (K)</text>
<text x="191.8" y="759.3" font-family="Liberation Serif" font-size="14.7" font-weight="bold" text-anchor="middle">Wavenumber (cm<tspan font-size="9.5" dy="-5.5">-1</tspan><tspan dy="5.5">)</tspan></text>
<path d="M53,456.7 L330.4,456.7" fill="none" stroke="#000" stroke-width="1.3" stroke-linecap="round"/>
<line x1="53.0" y1="456.7" x2="53.0" y2="461.6" stroke="#000" stroke-width="1.3" stroke-linecap="round"/>
<line x1="87.7" y1="456.7" x2="87.7" y2="459.1" stroke="#000" stroke-width="1.3" stroke-linecap="round"/>
<line x1="122.3" y1="456.7" x2="122.3" y2="461.6" stroke="#000" stroke-width="1.3" stroke-linecap="round"/>
<line x1="157.0" y1="456.7" x2="157.0" y2="459.1" stroke="#000" stroke-width="1.3" stroke-linecap="round"/>
<line x1="191.7" y1="456.7" x2="191.7" y2="461.6" stroke="#000" stroke-width="1.3" stroke-linecap="round"/>
<line x1="226.4" y1="456.7" x2="226.4" y2="459.1" stroke="#000" stroke-width="1.3" stroke-linecap="round"/>
<line x1="261.0" y1="456.7" x2="261.0" y2="461.6" stroke="#000" stroke-width="1.3" stroke-linecap="round"/>
<line x1="295.7" y1="456.7" x2="295.7" y2="459.1" stroke="#000" stroke-width="1.3" stroke-linecap="round"/>
<line x1="330.4" y1="456.7" x2="330.4" y2="461.6" stroke="#000" stroke-width="1.3" stroke-linecap="round"/>
<path d="M53.3,63.1 C53.8,63.5 55.3,65.6 56.4,65.4 C57.5,65.2 58.6,63.3 60.0,62.0 C61.4,60.7 63.6,57.8 64.9,57.5 C66.2,57.2 66.9,59.4 68.0,60.5 C69.1,61.6 70.4,64.1 71.3,64.0 C72.2,63.9 73.0,61.9 73.6,60.0 C74.2,58.1 74.6,56.6 75.1,52.6 C75.6,48.6 76.1,41.3 76.5,36.0 C76.9,30.7 77.2,25.8 77.6,21.0 C78.0,16.2 78.3,10.3 78.7,7.0 C79.1,3.7 79.7,1.7 80.2,1.4 C80.7,1.1 81.2,2.6 81.8,5.0 C82.3,7.4 83.0,13.8 83.5,16.0 C84.0,18.2 84.1,19.7 84.6,18.5 C85.1,17.3 85.8,11.4 86.3,9.0 C86.8,6.6 87.3,4.2 87.8,4.2 C88.3,4.2 88.9,5.9 89.4,9.0 C89.9,12.1 90.4,18.2 90.9,23.0 C91.4,27.8 91.8,33.6 92.3,38.0 C92.8,42.4 93.3,46.4 93.8,49.5 C94.3,52.6 94.8,54.8 95.3,56.5 C95.8,58.2 96.0,58.9 97.0,59.8 C98.0,60.7 99.7,61.2 101.4,61.7 C103.1,62.2 105.6,63.2 107.2,63.1 C108.8,63.0 110.0,61.1 111.3,61.0 C112.6,60.9 114.3,62.3 115.3,62.6 C116.3,62.9 116.5,63.2 117.5,63.0 C118.5,62.8 119.8,61.8 121.2,61.3 C122.6,60.8 124.4,60.3 125.9,60.3 C127.5,60.3 129.2,61.0 130.5,61.5 C131.8,62.0 132.5,62.7 133.5,63.2 C134.5,63.7 135.5,64.6 136.3,64.3 C137.1,64.0 137.8,62.1 138.5,61.5 C139.2,60.9 139.8,61.0 140.7,60.8 C141.6,60.6 143.0,60.6 144.0,60.2 C145.0,59.8 145.6,59.0 146.5,58.6 C147.4,58.2 147.7,57.6 149.3,57.6 C150.9,57.6 153.7,58.4 156.3,58.7 C158.9,59.0 162.1,59.0 165.0,59.4 C167.9,59.8 171.2,60.8 173.8,61.3 C176.4,61.8 177.9,62.4 180.8,62.5 C183.7,62.6 188.1,62.2 191.3,62.2 C194.5,62.2 197.4,62.1 200.0,62.3 C202.6,62.4 204.7,63.1 207.0,63.1 C209.3,63.1 212.2,62.5 214.0,62.2 C215.8,61.9 216.4,61.5 217.6,61.5 C218.8,61.5 219.3,62.4 221.1,62.5 C222.8,62.6 225.2,62.2 228.1,62.1 C231.0,62.0 235.5,61.7 238.6,61.7 C241.7,61.8 243.2,62.1 246.5,62.4 C249.8,62.7 254.9,63.2 258.6,63.5 C262.3,63.8 264.7,64.0 268.6,64.1 C272.5,64.1 278.6,63.6 282.0,63.8 C285.4,64.0 286.8,65.2 288.8,65.1 C290.8,65.0 292.1,63.8 293.8,63.0 C295.5,62.2 297.2,60.7 298.9,60.2 C300.6,59.8 302.2,59.8 303.9,60.3 C305.6,60.8 307.3,62.3 308.9,63.5 C310.5,64.7 312.4,66.8 313.5,67.5 C314.6,68.2 314.7,68.9 315.3,67.8 C315.9,66.7 316.4,62.7 316.9,61.0 C317.4,59.3 317.8,57.8 318.4,57.8 C319.0,57.8 319.8,59.3 320.4,61.0 C320.9,62.7 321.5,66.8 321.7,68.0" fill="none" stroke="#000" stroke-width="1.4" stroke-linejoin="round"/>
<path d="M53.0,451.6 C53.7,451.4 55.5,450.5 57.0,450.5 C58.5,450.5 60.2,451.3 61.7,451.4 C63.2,451.5 64.5,451.2 66.0,451.0 C67.5,450.8 69.2,450.8 70.4,450.2 C71.7,449.6 72.5,448.7 73.5,447.5 C74.5,446.3 75.5,444.4 76.3,443.0 C77.0,441.6 77.5,440.0 78.0,439.0 C78.5,438.0 79.0,436.8 79.5,437.0 C80.0,437.2 80.7,439.2 81.2,440.0 C81.8,440.8 82.2,442.0 82.8,442.0 C83.3,442.0 83.9,440.8 84.5,440.0 C85.1,439.2 85.7,437.1 86.2,437.0 C86.8,436.9 87.3,438.4 87.8,439.5 C88.3,440.6 88.8,442.4 89.4,443.6 C90.0,444.8 90.8,446.0 91.5,446.8 C92.2,447.6 92.9,448.1 93.8,448.5 C94.7,448.9 95.8,449.2 97.0,449.5 C98.2,449.8 99.6,450.0 101.1,450.2 C102.6,450.4 105.1,451.1 106.2,450.8 C107.3,450.5 107.2,450.6 107.6,448.5 C108.0,446.4 108.3,442.8 108.6,438.0 C108.9,433.2 109.1,424.2 109.4,420.0 C109.7,415.8 109.9,414.2 110.2,412.5 C110.5,410.8 110.9,410.1 111.3,409.5 C111.7,408.9 112.2,409.7 112.6,408.6 C113.0,407.5 113.2,405.1 113.5,403.0 C113.8,400.9 114.2,397.4 114.5,396.0 C114.8,394.6 114.9,394.0 115.2,394.6 C115.5,395.2 115.9,399.3 116.2,399.5 C116.5,399.7 116.9,396.8 117.2,396.0 C117.5,395.2 117.7,394.7 118.0,395.0 C118.3,395.3 118.7,396.8 119.0,398.0 C119.3,399.2 119.7,400.2 120.1,402.5 C120.5,404.8 120.8,408.4 121.2,412.0 C121.6,415.6 121.9,419.2 122.3,424.0 C122.7,428.8 123.1,436.5 123.5,441.0 C123.9,445.5 124.3,449.0 124.6,451.0 C124.9,453.0 124.9,452.7 125.4,452.8 C125.9,452.9 126.3,451.9 127.4,451.8 C128.5,451.7 130.3,452.0 132.0,452.0 C133.7,452.0 135.9,451.7 137.6,451.7 C139.3,451.7 139.9,452.0 142.0,452.0 C144.1,452.0 148.3,451.8 150.0,451.7 C151.7,451.6 151.2,451.3 152.0,451.3 C152.8,451.3 154.0,451.6 155.0,451.6 C156.0,451.7 157.0,451.4 158.0,451.5 C159.0,451.5 160.0,451.7 161.0,451.7 C162.0,451.8 163.0,451.8 164.0,451.7 C165.0,451.7 166.0,451.4 167.0,451.4 C168.0,451.3 169.0,451.4 170.0,451.7 C171.0,451.9 172.0,452.8 173.0,452.9 C174.0,453.1 175.0,452.7 176.0,452.6 C177.0,452.6 178.0,452.7 179.0,452.8 C180.0,453.0 181.0,453.4 182.0,453.3 C183.0,453.3 184.0,452.5 185.0,452.4 C186.0,452.2 187.0,452.6 188.0,452.4 C189.0,452.3 190.0,451.8 191.0,451.7 C192.0,451.6 193.0,451.8 194.0,451.8 C195.0,451.7 196.0,451.2 197.0,451.2 C198.0,451.2 199.0,451.6 200.0,451.7 C201.0,451.9 202.0,452.0 203.0,452.0 C204.0,452.0 205.0,451.6 206.0,451.6 C207.0,451.6 208.0,451.8 209.0,451.9 C210.0,451.9 211.0,451.9 212.0,451.8 C213.0,451.7 214.0,451.1 215.0,451.1 C216.0,451.1 217.0,451.8 218.0,451.9 C219.0,452.0 220.0,451.8 221.0,451.7 C222.0,451.6 223.0,451.5 224.0,451.4 C225.0,451.3 226.0,451.0 227.0,451.1 C228.0,451.2 229.0,451.9 230.0,452.0 C231.0,452.1 232.0,451.6 233.0,451.6 C234.0,451.5 235.0,451.8 236.0,451.8 C237.0,451.9 238.0,452.0 239.0,452.0 C240.0,452.0 241.0,451.8 242.0,451.8 C243.0,451.8 244.0,452.1 245.0,452.1 C246.0,452.0 247.0,451.5 248.0,451.5 C249.0,451.5 250.0,451.9 251.0,451.9 C252.0,451.9 253.0,451.5 254.0,451.5 C255.0,451.6 256.0,452.0 257.0,452.1 C258.0,452.2 259.0,452.2 260.0,452.0 C261.0,451.9 262.0,451.3 263.0,451.2 C264.0,451.0 265.0,451.2 266.0,451.2 C267.0,451.2 268.0,451.1 269.0,451.3 C270.0,451.4 271.0,452.1 272.0,452.1 C273.0,452.2 274.0,451.6 275.0,451.5 C276.0,451.5 277.0,451.8 278.0,451.7 C279.0,451.7 280.0,451.4 281.0,451.4 C282.0,451.4 283.0,451.6 284.0,451.6 C285.0,451.6 286.0,451.5 287.0,451.5 C288.0,451.4 289.0,451.4 290.0,451.4 C291.0,451.5 292.0,451.7 293.0,451.7 C294.0,451.7 295.0,451.6 296.0,451.7 C297.0,451.8 298.0,452.0 299.0,452.0 C300.0,452.1 301.0,451.8 302.0,451.8 C303.0,451.8 303.9,452.1 305.0,452.1 C306.1,452.0 307.8,452.3 308.6,451.5 C309.5,450.7 309.6,447.3 310.1,447.4 C310.6,447.5 311.1,453.5 311.5,452.3 C311.9,451.1 312.4,445.4 312.8,440.0 C313.2,434.6 313.5,426.7 313.8,420.0 C314.1,413.3 314.4,405.2 314.7,400.0 C315.0,394.8 315.3,388.6 315.6,388.6 C315.9,388.6 316.2,395.1 316.5,400.0 C316.8,404.9 317.1,412.3 317.4,418.0 C317.7,423.7 318.1,429.3 318.5,434.0 C318.9,438.7 319.4,443.2 319.8,446.0 C320.2,448.8 320.5,449.6 321.0,450.5 C321.5,451.4 322.4,451.4 323.0,451.5 C323.6,451.6 324.1,450.6 324.7,450.8 C325.3,451.0 325.9,452.1 326.5,452.5 C327.1,452.9 327.8,453.2 328.5,453.5 C329.2,453.8 330.2,454.3 330.5,454.5" fill="none" stroke="#ff0000" stroke-width="1.35" stroke-linejoin="round"/>
<line x1="90.9" y1="21.6" x2="102.6" y2="9.9" stroke="#000" stroke-width="1.5" stroke-dasharray="3.2 1.8"/>
<circle cx="83.9" cy="25.1" r="5.8" fill="#0000ff" fill-opacity="0.47" stroke="#1f3864" stroke-width="1.35"/>
<line x1="130.7" y1="53.4" x2="144.2" y2="41.2" stroke="#000" stroke-width="1.5" stroke-dasharray="3.2 1.8"/>
<circle cx="126.0" cy="57.9" r="5.8" fill="#ff0000" fill-opacity="0.50" stroke="#1f3864" stroke-width="1.35"/>
<line x1="234.4" y1="44.5" x2="243.8" y2="55.2" stroke="#000" stroke-width="1.5" stroke-dasharray="3.2 1.8"/>
<circle cx="246.4" cy="62.0" r="5.8" fill="#bcbcbc" fill-opacity="0.50" stroke="#1f3864" stroke-width="1.35"/>
<line x1="302.0" y1="35.3" x2="314.3" y2="49.6" stroke="#000" stroke-width="1.5" stroke-dasharray="3.2 1.8"/>
<circle cx="318.1" cy="55.2" r="5.8" fill="#bcbcbc" fill-opacity="0.50" stroke="#1f3864" stroke-width="1.35"/>
<line x1="78.9" y1="421.5" x2="82.0" y2="432.4" stroke="#000" stroke-width="1.5" stroke-dasharray="3.2 1.8"/>
<circle cx="82.8" cy="438.7" r="5.8" fill="#0000ff" fill-opacity="0.47" stroke="#1f3864" stroke-width="1.35"/>
<line x1="120.0" y1="402.2" x2="139.3" y2="422.2" stroke="#000" stroke-width="1.5" stroke-dasharray="3.2 1.8"/>
<circle cx="115.0" cy="397.8" r="5.8" fill="#ff0000" fill-opacity="0.50" stroke="#1f3864" stroke-width="1.35"/>
<line x1="299.9" y1="401.2" x2="313.0" y2="415.8" stroke="#000" stroke-width="1.5" stroke-dasharray="3.2 1.8"/>
<circle cx="316.2" cy="420.9" r="5.8" fill="#bcbcbc" fill-opacity="0.50" stroke="#1f3864" stroke-width="1.35"/>
<text transform="translate(99.00,9.60) scale(1,1.140)" font-family="Liberation Serif" font-size="13.5" text-anchor="start" >*C<tspan font-size="9" dy="2.6">2</tspan><tspan dy="-2.6">H</tspan><tspan font-size="9" dy="2.6">2</tspan></text>
<text transform="translate(125.60,37.60) scale(1,1.140)" font-family="Liberation Serif" font-size="13.5" text-anchor="start" >*VCM</text>
<text transform="translate(235.30,24.90) scale(1,1.140)" font-family="Liberation Serif" font-size="13.5" text-anchor="middle" ><tspan font-style="italic">π</tspan>-bonded</text>
<text transform="translate(235.20,40.60) scale(1,1.140)" font-family="Liberation Serif" font-size="13.5" text-anchor="middle" >HC=CH</text>
<text transform="translate(274.30,13.90) scale(1,1.140)" font-family="Liberation Serif" font-size="13.5" text-anchor="start" >di-<tspan font-style="italic">σ</tspan>-bonded</text>
<text transform="translate(274.50,29.90) scale(1,1.140)" font-family="Liberation Serif" font-size="13.5" text-anchor="start" >HC=CH</text>
<text transform="translate(64.60,413.90) scale(1,1.140)" font-family="Liberation Serif" font-size="13.5" text-anchor="start" >*C<tspan font-size="9" dy="2.6">2</tspan><tspan dy="-2.6">H</tspan><tspan font-size="9" dy="2.6">2</tspan></text>
<text transform="translate(126.20,438.70) scale(1,1.140)" font-family="Liberation Serif" font-size="13.5" text-anchor="start" >*VCM</text>
<text transform="translate(245.10,398.70) scale(1,1.140)" font-family="Liberation Serif" font-size="13.5" text-anchor="start" >di-<tspan font-style="italic">σ</tspan>-bonded</text>
<text transform="translate(245.10,414.70) scale(1,1.140)" font-family="Liberation Serif" font-size="13.5" text-anchor="start" >HC=CH</text>
<rect x="154.3" y="245.8" width="114" height="11.3" rx="2" fill="url(#gBar)" stroke="#000" stroke-width="1.4"/>
<clipPath id="clipA"><rect x="140" y="150" width="150" height="95.2"/></clipPath>
<g clip-path="url(#clipA)"><line x1="196.00" y1="238.00" x2="182.80" y2="245.50" stroke="#d8d8ff" stroke-width="0.60"/><line x1="226.00" y1="238.00" x2="235.40" y2="245.50" stroke="#d8d8ff" stroke-width="0.60"/><line x1="227.50" y1="238.50" x2="237.50" y2="245.50" stroke="#d8d8ff" stroke-width="0.60"/><line x1="210.90" y1="224.90" x2="192.20" y2="242.50" stroke="#f0b030" stroke-width="5.60"/><line x1="211.86" y1="225.92" x2="193.16" y2="243.52" stroke="#ffd070" stroke-width="1.68"/><line x1="210.90" y1="224.90" x2="230.20" y2="242.50" stroke="#f0b030" stroke-width="5.60"/><line x1="211.84" y1="223.87" x2="231.14" y2="241.47" stroke="#ffd070" stroke-width="1.68"/><line x1="195.10" y1="191.60" x2="203.79" y2="209.91" stroke="#8a8a8a" stroke-width="5.00"/><line x1="196.23" y1="191.06" x2="204.92" y2="209.38" stroke="#e0e0e0" stroke-width="1.50"/><line x1="203.79" y1="209.91" x2="210.90" y2="224.90" stroke="#f0b030" stroke-width="5.00"/><line x1="204.92" y1="209.38" x2="212.03" y2="224.36" stroke="#ffd070" stroke-width="1.50"/><line x1="226.60" y1="191.60" x2="217.97" y2="209.91" stroke="#8a8a8a" stroke-width="5.00"/><line x1="227.73" y1="192.13" x2="219.10" y2="210.45" stroke="#e0e0e0" stroke-width="1.50"/><line x1="217.97" y1="209.91" x2="210.90" y2="224.90" stroke="#f0b030" stroke-width="5.00"/><line x1="219.10" y1="210.45" x2="212.03" y2="225.43" stroke="#ffd070" stroke-width="1.50"/><circle cx="210.9" cy="224.9" r="13.4" fill="url(#gAu)"/><line x1="195.00" y1="190.60" x2="227.00" y2="190.60" stroke="#a8a8a8" stroke-width="1.90"/><line x1="195.00" y1="193.60" x2="227.00" y2="193.60" stroke="#a8a8a8" stroke-width="1.90"/><line x1="195.00" y1="190.30" x2="227.00" y2="190.30" stroke="#e8e8e8" stroke-width="0.60"/><line x1="195.00" y1="193.30" x2="227.00" y2="193.30" stroke="#e8e8e8" stroke-width="0.60"/><line x1="177.00" y1="180.50" x2="195.10" y2="191.60" stroke="#e0e0e0" stroke-width="4.20"/><line x1="177.55" y1="179.60" x2="195.65" y2="190.70" stroke="#ffffff" stroke-width="1.26"/><line x1="244.70" y1="180.50" x2="226.60" y2="191.60" stroke="#e0e0e0" stroke-width="4.20"/><line x1="245.25" y1="181.40" x2="227.15" y2="192.50" stroke="#ffffff" stroke-width="1.26"/><circle cx="177.0" cy="180.5" r="5.9" fill="url(#gH)"/><circle cx="244.7" cy="180.5" r="5.9" fill="url(#gH)"/><circle cx="195.1" cy="191.6" r="8.9" fill="url(#gC)"/><circle cx="226.6" cy="191.6" r="8.9" fill="url(#gC)"/></g>
<rect x="149.2" y="633.4" width="123.6" height="11.6" rx="2" fill="url(#gBar)" stroke="#000" stroke-width="1.4"/>
<clipPath id="clipB"><rect x="140" y="540" width="150" height="92.8"/></clipPath>
<g clip-path="url(#clipB)"><line x1="170.50" y1="626.00" x2="165.50" y2="633.50" stroke="#e8e8ff" stroke-width="0.70"/><line x1="180.50" y1="614.80" x2="171.00" y2="631.50" stroke="#f0b030" stroke-width="5.40"/><line x1="181.67" y1="615.47" x2="172.17" y2="632.17" stroke="#ffd070" stroke-width="1.62"/><line x1="180.50" y1="614.80" x2="191.00" y2="631.50" stroke="#f0b030" stroke-width="5.40"/><line x1="181.64" y1="614.08" x2="192.14" y2="630.78" stroke="#ffd070" stroke-width="1.62"/><line x1="232.50" y1="626.00" x2="227.50" y2="633.50" stroke="#e8e8ff" stroke-width="0.70"/><line x1="242.50" y1="614.80" x2="233.00" y2="631.50" stroke="#f0b030" stroke-width="5.40"/><line x1="243.67" y1="615.47" x2="234.17" y2="632.17" stroke="#ffd070" stroke-width="1.62"/><line x1="242.50" y1="614.80" x2="253.00" y2="631.50" stroke="#f0b030" stroke-width="5.40"/><line x1="243.64" y1="614.08" x2="254.14" y2="630.78" stroke="#ffd070" stroke-width="1.62"/><line x1="195.50" y1="584.20" x2="188.00" y2="599.50" stroke="#8a8a8a" stroke-width="5.20"/><line x1="196.67" y1="584.77" x2="189.17" y2="600.07" stroke="#e0e0e0" stroke-width="1.56"/><line x1="188.00" y1="599.50" x2="180.50" y2="614.80" stroke="#f0b030" stroke-width="5.20"/><line x1="189.17" y1="600.07" x2="181.67" y2="615.37" stroke="#ffd070" stroke-width="1.56"/><line x1="224.10" y1="584.20" x2="233.30" y2="599.50" stroke="#8a8a8a" stroke-width="5.20"/><line x1="225.21" y1="583.53" x2="234.41" y2="598.83" stroke="#e0e0e0" stroke-width="1.56"/><line x1="233.30" y1="599.50" x2="242.50" y2="614.80" stroke="#f0b030" stroke-width="5.20"/><line x1="234.41" y1="598.83" x2="243.61" y2="614.13" stroke="#ffd070" stroke-width="1.56"/><circle cx="180.5" cy="614.8" r="12.6" fill="url(#gAu)"/><circle cx="242.5" cy="614.8" r="12.6" fill="url(#gAu)"/><line x1="196.00" y1="583.00" x2="224.00" y2="583.00" stroke="#a8a8a8" stroke-width="1.90"/><line x1="196.00" y1="586.00" x2="224.00" y2="586.00" stroke="#a8a8a8" stroke-width="1.90"/><line x1="196.00" y1="582.70" x2="224.00" y2="582.70" stroke="#ececec" stroke-width="0.60"/><line x1="196.00" y1="585.70" x2="224.00" y2="585.70" stroke="#ececec" stroke-width="0.60"/><line x1="185.40" y1="566.20" x2="195.50" y2="584.20" stroke="#e0e0e0" stroke-width="4.20"/><line x1="186.32" y1="565.69" x2="196.42" y2="583.69" stroke="#ffffff" stroke-width="1.26"/><line x1="234.60" y1="566.20" x2="224.10" y2="584.20" stroke="#e0e0e0" stroke-width="4.20"/><line x1="235.51" y1="566.73" x2="225.01" y2="584.73" stroke="#ffffff" stroke-width="1.26"/><circle cx="185.4" cy="566.2" r="6.1" fill="url(#gH)"/><circle cx="234.6" cy="566.2" r="6.1" fill="url(#gH)"/><circle cx="195.5" cy="584.2" r="8.6" fill="url(#gC)"/><circle cx="224.1" cy="584.2" r="8.6" fill="url(#gC)"/></g>
<path d="M348.8,184.6 L361.3,184.6 L361.3,180.3 L370.6,189.4 L361.3,198.6 L361.3,193.9 L348.8,193.9 Z" fill="#f0f0f0" stroke="#000" stroke-width="1.5" stroke-linejoin="miter"/>
<path d="M351.4,571.6 L363.9,571.6 L363.9,567.1 L373.3,576.2 L363.9,585.4 L363.9,580.7 L351.4,580.7 Z" fill="#f0f0f0" stroke="#000" stroke-width="1.5" stroke-linejoin="miter"/>
<rect x="396" y="214.0" width="281" height="112.2" fill="url(#bgA)"/>
<path d="M390.5,75.5 L395.6,75.5 L395.6,326.2" fill="none" stroke="#000" stroke-width="1.4"/>
<line x1="390.5" y1="326.2" x2="677.6" y2="326.2" stroke="#000" stroke-width="1.4"/>
<line x1="390.6" y1="75.5" x2="395.6" y2="75.5" stroke="#000" stroke-width="1.2"/>
<line x1="393.0" y1="100.6" x2="395.6" y2="100.6" stroke="#000" stroke-width="1.2"/>
<line x1="390.6" y1="125.6" x2="395.6" y2="125.6" stroke="#000" stroke-width="1.2"/>
<line x1="393.0" y1="150.7" x2="395.6" y2="150.7" stroke="#000" stroke-width="1.2"/>
<line x1="390.6" y1="175.8" x2="395.6" y2="175.8" stroke="#000" stroke-width="1.2"/>
<line x1="393.0" y1="200.8" x2="395.6" y2="200.8" stroke="#000" stroke-width="1.2"/>
<line x1="390.6" y1="225.9" x2="395.6" y2="225.9" stroke="#000" stroke-width="1.2"/>
<line x1="393.0" y1="251.0" x2="395.6" y2="251.0" stroke="#000" stroke-width="1.2"/>
<line x1="390.6" y1="276.1" x2="395.6" y2="276.1" stroke="#000" stroke-width="1.2"/>
<line x1="393.0" y1="301.1" x2="395.6" y2="301.1" stroke="#000" stroke-width="1.2"/>
<line x1="390.6" y1="326.2" x2="395.6" y2="326.2" stroke="#000" stroke-width="1.2"/>
<line x1="395.6" y1="326.2" x2="395.6" y2="331.2" stroke="#000" stroke-width="1.2"/>
<text x="395.6" y="345.0" font-family="Liberation Serif" font-size="13.8" text-anchor="middle">0.0</text>
<line x1="442.5" y1="326.2" x2="442.5" y2="328.8" stroke="#000" stroke-width="1.2"/>
<line x1="489.4" y1="326.2" x2="489.4" y2="331.2" stroke="#000" stroke-width="1.2"/>
<text x="489.4" y="345.0" font-family="Liberation Serif" font-size="13.8" text-anchor="middle">0.1</text>
<line x1="536.3" y1="326.2" x2="536.3" y2="328.8" stroke="#000" stroke-width="1.2"/>
<line x1="583.2" y1="326.2" x2="583.2" y2="331.2" stroke="#000" stroke-width="1.2"/>
<text x="583.2" y="345.0" font-family="Liberation Serif" font-size="13.8" text-anchor="middle">0.2</text>
<line x1="630.1" y1="326.2" x2="630.1" y2="328.8" stroke="#000" stroke-width="1.2"/>
<line x1="677.0" y1="326.2" x2="677.0" y2="331.2" stroke="#000" stroke-width="1.2"/>
<text x="677.0" y="345.0" font-family="Liberation Serif" font-size="13.8" text-anchor="middle">0.3</text>
<text x="536.3" y="370.8" font-family="Liberation Serif" font-size="14.7" font-weight="bold" text-anchor="middle">Intensity (a.u.)</text>
<rect x="396" y="592.0" width="281" height="122.2" fill="url(#bgB)"/>
<path d="M390.5,463.5 L395.6,463.5 L395.6,714.2" fill="none" stroke="#000" stroke-width="1.4"/>
<line x1="390.5" y1="714.2" x2="677.6" y2="714.2" stroke="#000" stroke-width="1.4"/>
<line x1="390.6" y1="463.5" x2="395.6" y2="463.5" stroke="#000" stroke-width="1.2"/>
<line x1="393.0" y1="488.6" x2="395.6" y2="488.6" stroke="#000" stroke-width="1.2"/>
<line x1="390.6" y1="513.6" x2="395.6" y2="513.6" stroke="#000" stroke-width="1.2"/>
<line x1="393.0" y1="538.7" x2="395.6" y2="538.7" stroke="#000" stroke-width="1.2"/>
<line x1="390.6" y1="563.8" x2="395.6" y2="563.8" stroke="#000" stroke-width="1.2"/>
<line x1="393.0" y1="588.9" x2="395.6" y2="588.9" stroke="#000" stroke-width="1.2"/>
<line x1="390.6" y1="613.9" x2="395.6" y2="613.9" stroke="#000" stroke-width="1.2"/>
<line x1="393.0" y1="639.0" x2="395.6" y2="639.0" stroke="#000" stroke-width="1.2"/>
<line x1="390.6" y1="664.1" x2="395.6" y2="664.1" stroke="#000" stroke-width="1.2"/>
<line x1="393.0" y1="689.1" x2="395.6" y2="689.1" stroke="#000" stroke-width="1.2"/>
<line x1="390.6" y1="714.2" x2="395.6" y2="714.2" stroke="#000" stroke-width="1.2"/>
<line x1="430.8" y1="714.2" x2="430.8" y2="716.8" stroke="#000" stroke-width="1.2"/>
<line x1="466.0" y1="714.2" x2="466.0" y2="719.2" stroke="#000" stroke-width="1.2"/>
<text x="466.0" y="733.0" font-family="Liberation Serif" font-size="13.8" text-anchor="middle">0.1</text>
<line x1="501.1" y1="714.2" x2="501.1" y2="716.8" stroke="#000" stroke-width="1.2"/>
<line x1="536.3" y1="714.2" x2="536.3" y2="719.2" stroke="#000" stroke-width="1.2"/>
<text x="536.3" y="733.0" font-family="Liberation Serif" font-size="13.8" text-anchor="middle">0.2</text>
<line x1="571.5" y1="714.2" x2="571.5" y2="716.8" stroke="#000" stroke-width="1.2"/>
<line x1="606.6" y1="714.2" x2="606.6" y2="719.2" stroke="#000" stroke-width="1.2"/>
<text x="606.6" y="733.0" font-family="Liberation Serif" font-size="13.8" text-anchor="middle">0.3</text>
<line x1="641.8" y1="714.2" x2="641.8" y2="716.8" stroke="#000" stroke-width="1.2"/>
<line x1="677.0" y1="714.2" x2="677.0" y2="719.2" stroke="#000" stroke-width="1.2"/>
<text x="677.0" y="733.0" font-family="Liberation Serif" font-size="13.8" text-anchor="middle">0.4</text>
<text x="536.3" y="759.6" font-family="Liberation Serif" font-size="14.7" font-weight="bold" text-anchor="middle">Intensity (a.u.)</text>
<path d="M425.1,102.5 L425.1,132.5 L423.6,162.6 L423.0,192.7 L431.6,222.8 L419.2,252.8 L418.0,282.9 L431.6,313.0" fill="none" stroke="#000" stroke-width="1.55" stroke-linejoin="round"/>
<rect x="422.20" y="99.55" width="5.80" height="5.80" fill="#000"/>
<rect x="422.20" y="129.63" width="5.80" height="5.80" fill="#000"/>
<rect x="420.70" y="159.71" width="5.80" height="5.80" fill="#000"/>
<rect x="420.10" y="189.79" width="5.80" height="5.80" fill="#000"/>
<rect x="428.70" y="219.87" width="5.80" height="5.80" fill="#000"/>
<rect x="416.30" y="249.95" width="5.80" height="5.80" fill="#000"/>
<rect x="415.10" y="280.03" width="5.80" height="5.80" fill="#000"/>
<rect x="428.70" y="310.11" width="5.80" height="5.80" fill="#000"/>
<path d="M437.6,102.5 L437.6,132.5 L434.0,162.6 L430.3,192.7 L400.7,222.8 L419.2,252.8 L404.5,282.9 L400.7,313.0" fill="none" stroke="#ff0000" stroke-width="1.55" stroke-linejoin="round"/>
<circle cx="437.60" cy="102.45" r="3.45" fill="#ff0000"/>
<circle cx="437.60" cy="132.53" r="3.45" fill="#ff0000"/>
<circle cx="434.00" cy="162.61" r="3.45" fill="#ff0000"/>
<circle cx="430.30" cy="192.69" r="3.45" fill="#ff0000"/>
<circle cx="400.70" cy="222.77" r="3.45" fill="#ff0000"/>
<circle cx="419.20" cy="252.85" r="3.45" fill="#ff0000"/>
<circle cx="404.50" cy="282.93" r="3.45" fill="#ff0000"/>
<circle cx="400.70" cy="313.01" r="3.45" fill="#ff0000"/>
<path d="M572.4,102.5 L572.4,132.5 L574.2,162.6 L572.4,192.7 L560.4,222.8 L564.2,252.8 L556.0,282.9 L560.4,313.0" fill="none" stroke="#0000ff" stroke-width="1.55" stroke-linejoin="round"/>
<path d="M572.40,98.13 L576.50,105.10 L568.30,105.10 Z" fill="#0000ff"/>
<path d="M572.40,128.21 L576.50,135.18 L568.30,135.18 Z" fill="#0000ff"/>
<path d="M574.20,158.29 L578.30,165.26 L570.10,165.26 Z" fill="#0000ff"/>
<path d="M572.40,188.37 L576.50,195.34 L568.30,195.34 Z" fill="#0000ff"/>
<path d="M560.40,218.45 L564.50,225.42 L556.30,225.42 Z" fill="#0000ff"/>
<path d="M564.20,248.53 L568.30,255.50 L560.10,255.50 Z" fill="#0000ff"/>
<path d="M556.00,278.61 L560.10,285.58 L551.90,285.58 Z" fill="#0000ff"/>
<path d="M560.40,308.69 L564.50,315.66 L556.30,315.66 Z" fill="#0000ff"/>
<path d="M431.2,490.6 L435.1,520.7 L448.6,550.8 L462.5,580.9 L476.0,611.0 L489.9,641.0 L497.7,671.1 L504.0,701.2" fill="none" stroke="#0000ff" stroke-width="1.55" stroke-linejoin="round"/>
<path d="M431.20,486.28 L435.30,493.25 L427.10,493.25 Z" fill="#0000ff"/>
<path d="M435.10,516.37 L439.20,523.34 L431.00,523.34 Z" fill="#0000ff"/>
<path d="M448.60,546.46 L452.70,553.43 L444.50,553.43 Z" fill="#0000ff"/>
<path d="M462.50,576.55 L466.60,583.52 L458.40,583.52 Z" fill="#0000ff"/>
<path d="M476.00,606.64 L480.10,613.61 L471.90,613.61 Z" fill="#0000ff"/>
<path d="M489.90,636.73 L494.00,643.70 L485.80,643.70 Z" fill="#0000ff"/>
<path d="M497.70,666.82 L501.80,673.79 L493.60,673.79 Z" fill="#0000ff"/>
<path d="M504.00,696.91 L508.10,703.88 L499.90,703.88 Z" fill="#0000ff"/>
<path d="M556.5,490.6 L543.5,520.7 L534.1,550.8 L530.6,580.9 L508.3,611.0 L485.9,641.0 L473.0,671.1 L450.6,701.2" fill="none" stroke="#ff0000" stroke-width="1.55" stroke-linejoin="round"/>
<circle cx="556.50" cy="490.60" r="3.45" fill="#ff0000"/>
<circle cx="543.50" cy="520.69" r="3.45" fill="#ff0000"/>
<circle cx="534.10" cy="550.78" r="3.45" fill="#ff0000"/>
<circle cx="530.60" cy="580.87" r="3.45" fill="#ff0000"/>
<circle cx="508.30" cy="610.96" r="3.45" fill="#ff0000"/>
<circle cx="485.90" cy="641.05" r="3.45" fill="#ff0000"/>
<circle cx="473.00" cy="671.14" r="3.45" fill="#ff0000"/>
<circle cx="450.60" cy="701.23" r="3.45" fill="#ff0000"/>
<path d="M613.0,490.6 L595.0,520.7 L582.9,550.8 L578.0,580.9 L548.1,611.0 L517.5,641.0 L500.1,671.1 L470.0,701.2" fill="none" stroke="#000" stroke-width="1.55" stroke-linejoin="round"/>
<rect x="610.10" y="487.70" width="5.80" height="5.80" fill="#000"/>
<rect x="592.10" y="517.79" width="5.80" height="5.80" fill="#000"/>
<rect x="580.00" y="547.88" width="5.80" height="5.80" fill="#000"/>
<rect x="575.10" y="577.97" width="5.80" height="5.80" fill="#000"/>
<rect x="545.20" y="608.06" width="5.80" height="5.80" fill="#000"/>
<rect x="514.60" y="638.15" width="5.80" height="5.80" fill="#000"/>
<rect x="497.20" y="668.24" width="5.80" height="5.80" fill="#000"/>
<rect x="467.10" y="698.33" width="5.80" height="5.80" fill="#000"/>
<line x1="442.9" y1="17.5" x2="472.7" y2="17.5" stroke="#0000ff" stroke-width="1.4"/>
<path d="M457.80,11.02 L463.95,21.47 L451.65,21.47 Z" fill="#0000ff"/>
<text transform="translate(479.4,21.90) scale(1,1.140)" font-family="Liberation Serif" font-size="13.5">*C<tspan font-size="9" dy="2.6">2</tspan><tspan dy="-2.6">H</tspan><tspan font-size="9" dy="2.6">2</tspan></text>
<line x1="442.9" y1="37.4" x2="472.7" y2="37.4" stroke="#ff0000" stroke-width="1.4"/>
<circle cx="457.80" cy="37.35" r="5.90" fill="#ff0000"/>
<text transform="translate(479.4,41.75) scale(1,1.140)" font-family="Liberation Serif" font-size="13.5">*VCM</text>
<line x1="442.9" y1="57.2" x2="472.7" y2="57.2" stroke="#000" stroke-width="1.4"/>
<rect x="453.00" y="52.40" width="9.60" height="9.60" fill="#000"/>
<text transform="translate(479.4,61.60) scale(1,1.140)" font-family="Liberation Serif" font-size="13.5">di-<tspan font-style="italic">σ</tspan>-bonded HC=CH</text>
<line x1="442.9" y1="406.7" x2="472.7" y2="406.7" stroke="#0000ff" stroke-width="1.4"/>
<path d="M457.80,400.22 L463.95,410.67 L451.65,410.67 Z" fill="#0000ff"/>
<text transform="translate(479.4,411.10) scale(1,1.140)" font-family="Liberation Serif" font-size="13.5">*C<tspan font-size="9" dy="2.6">2</tspan><tspan dy="-2.6">H</tspan><tspan font-size="9" dy="2.6">2</tspan></text>
<line x1="442.9" y1="426.6" x2="472.7" y2="426.6" stroke="#ff0000" stroke-width="1.4"/>
<circle cx="457.80" cy="426.55" r="5.90" fill="#ff0000"/>
<text transform="translate(479.4,430.95) scale(1,1.140)" font-family="Liberation Serif" font-size="13.5">*VCM</text>
<line x1="442.9" y1="446.4" x2="472.7" y2="446.4" stroke="#000" stroke-width="1.4"/>
<rect x="453.00" y="441.60" width="9.60" height="9.60" fill="#000"/>
<text transform="translate(479.4,450.80) scale(1,1.140)" font-family="Liberation Serif" font-size="13.5">di-<tspan font-style="italic">σ</tspan>-bonded HC=CH</text>
</svg>
</body></html>
